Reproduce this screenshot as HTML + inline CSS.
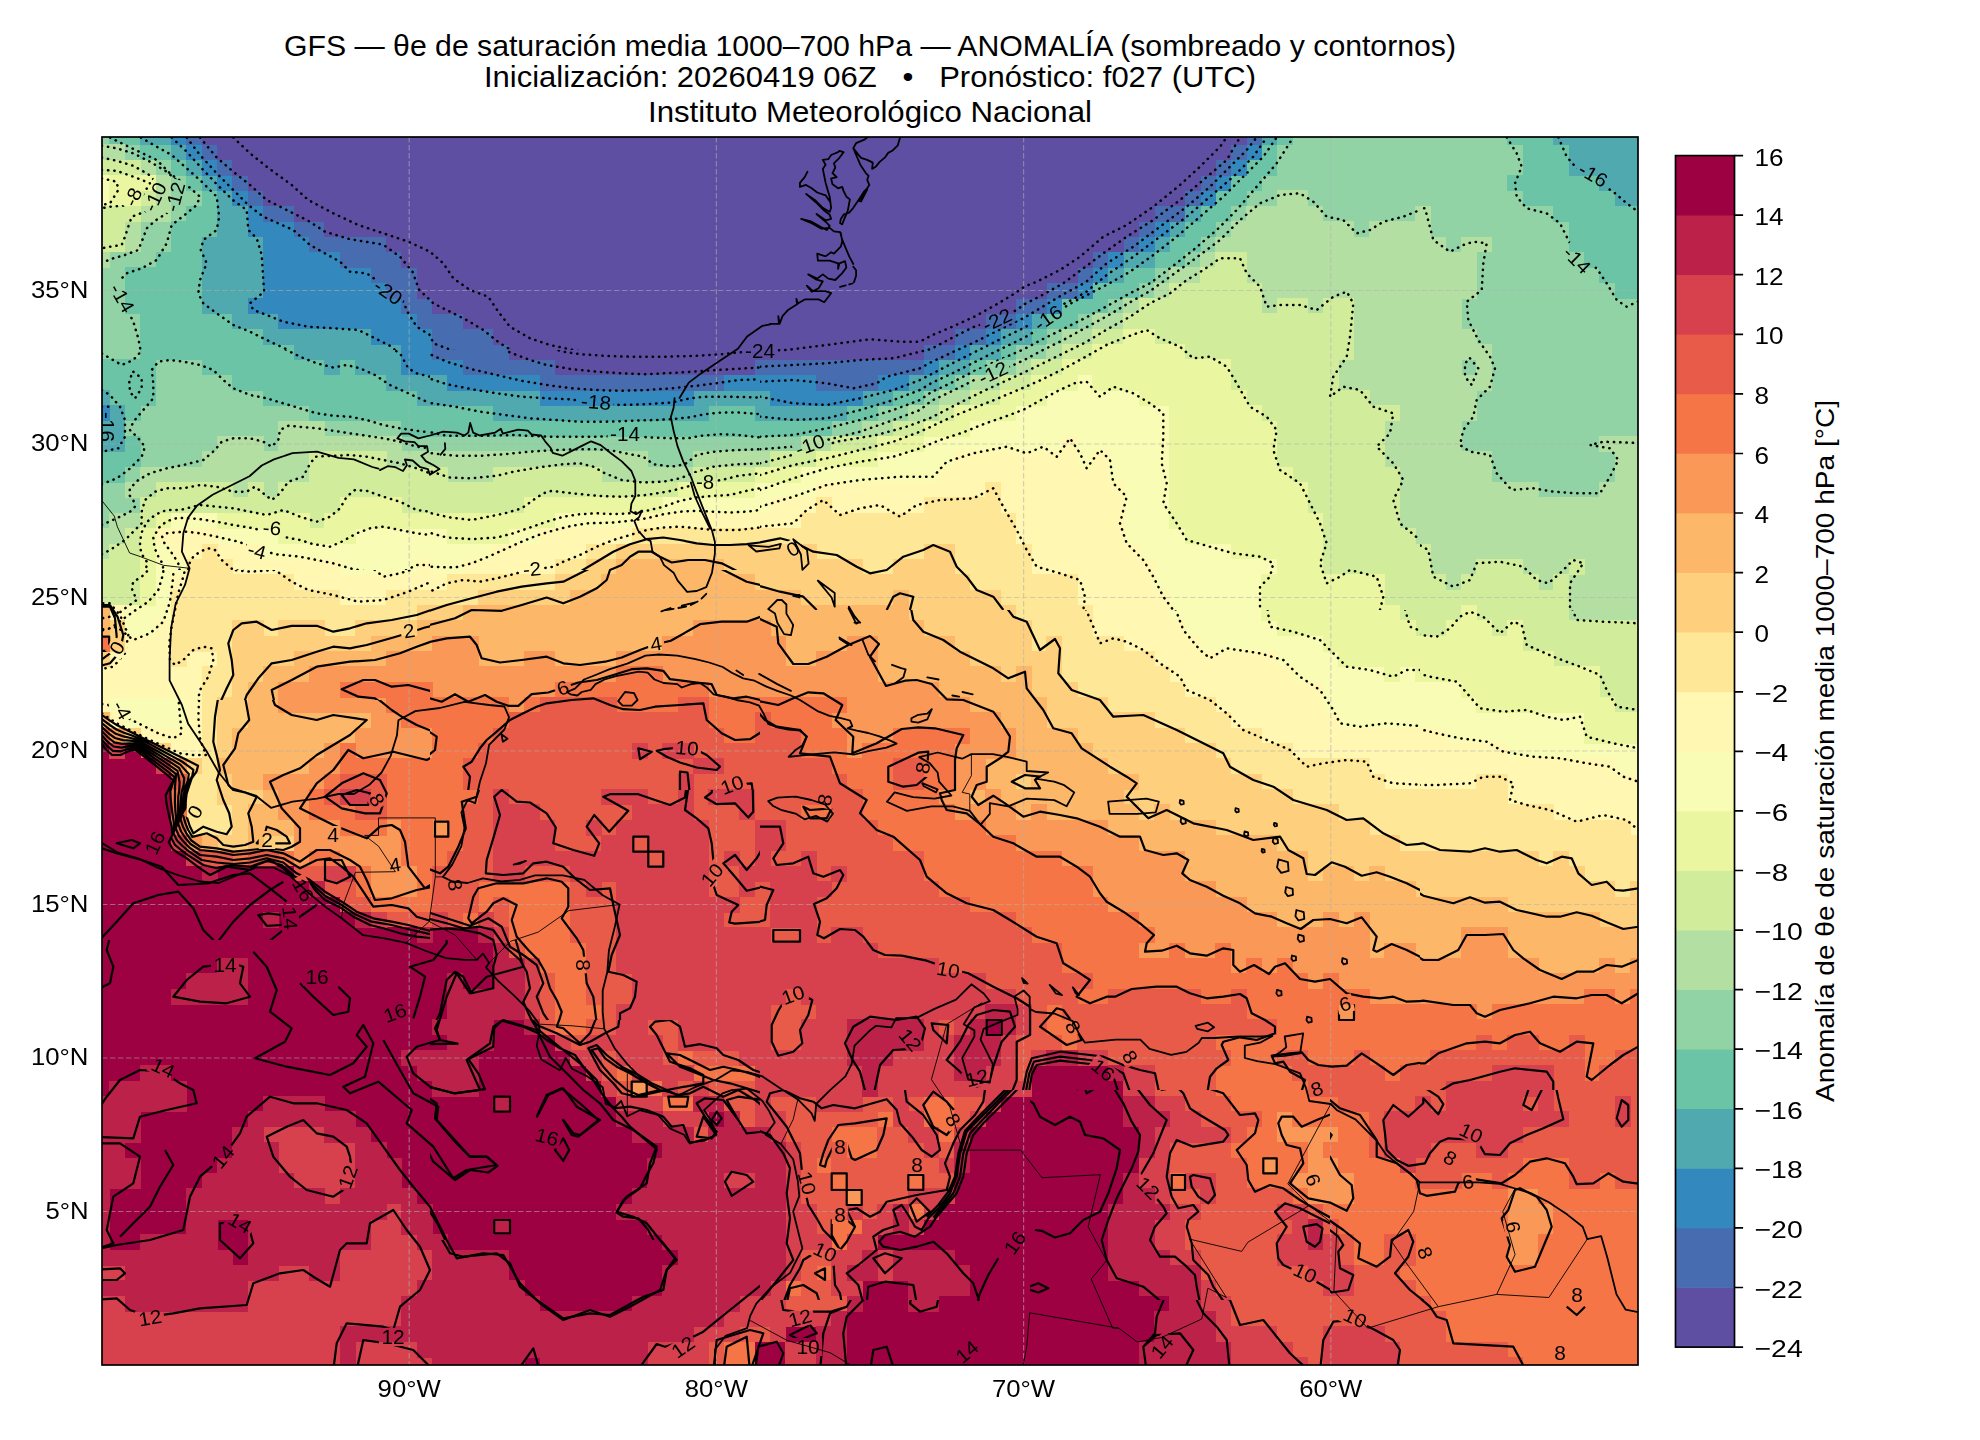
<!DOCTYPE html>
<html><head><meta charset="utf-8"><title>GFS θe de saturación media 1000–700 hPa — ANOMALÍA</title>
<style>
html,body{margin:0;padding:0;background:#fff;}
body{width:1980px;height:1440px;overflow:hidden;position:relative;font-family:"Liberation Sans",sans-serif;}
svg{position:absolute;left:0;top:0;}
.tk{font-family:"Liberation Sans",sans-serif;font-size:24.2px;fill:#000;}
.cbl{font-family:"Liberation Sans",sans-serif;font-size:26.6px;fill:#000;}
.tt{font-family:"Liberation Sans",sans-serif;font-size:29px;fill:#000;}
.cl{font-family:"Liberation Sans",sans-serif;font-size:19.4px;fill:#000;}
.cs{fill:none;stroke:#000;stroke-width:2.2;stroke-linejoin:round;}
.cd{fill:none;stroke:#000;stroke-width:2.5;stroke-dasharray:0.3 6.0;stroke-linecap:round;stroke-linejoin:round;}
.co{fill:none;stroke:#000;stroke-width:1.8;stroke-linejoin:round;stroke-linecap:round;}
.bd{fill:none;stroke:#000;stroke-width:0.9;stroke-linejoin:round;}
</style></head><body>
<svg width="1980" height="1440" viewBox="0 0 1980 1440">
<rect width="1980" height="1440" fill="#fff"/>
<text x="870" y="55.5" class="tt" text-anchor="middle" textLength="1172" lengthAdjust="spacingAndGlyphs">GFS — θe de saturación media 1000–700 hPa — ANOMALÍA (sombreado y contornos)</text>
<text x="870" y="86.5" class="tt" text-anchor="middle" textLength="772" lengthAdjust="spacingAndGlyphs" xml:space="preserve">Inicialización: 20260419 06Z   •   Pronóstico: f027 (UTC)</text>
<text x="870" y="121.5" class="tt" text-anchor="middle" textLength="444" lengthAdjust="spacingAndGlyphs">Instituto Meteorológico Nacional</text>
<clipPath id="mapclip"><rect x="102" y="137" width="1536" height="1228"/></clipPath>
<g clip-path="url(#mapclip)">
<g shape-rendering="crispEdges">
<path fill="#91d3a4" d="M101.7 136.7H110.0V145.0H101.7ZM1292.1 136.7H1507.7V145.0H1292.1ZM124.7 144.4H140.7V160.3H124.7ZM1276.7 144.4H1523.1V160.3H1276.7ZM155.5 159.7H171.4V175.7H155.5ZM1276.7 159.7H1523.1V175.7H1276.7ZM170.8 175.1H186.8V191.0H170.8ZM1261.4 175.1H1507.7V191.0H1261.4ZM170.8 190.4H202.1V206.4H170.8ZM1246.0 190.4H1277.3V206.4H1246.0ZM1307.5 190.4H1523.1V206.4H1307.5ZM170.8 205.8H186.8V221.7H170.8ZM1230.7 205.8H1246.6V221.7H1230.7ZM1322.8 205.8H1415.6V221.7H1322.8ZM1430.3 205.8H1553.8V221.7H1430.3ZM140.1 221.1H171.4V237.1H140.1ZM1215.3 221.1H1231.3V237.1H1215.3ZM1353.5 221.1H1369.5V237.1H1353.5ZM1430.3 221.1H1569.2V237.1H1430.3ZM140.1 236.5H171.4V252.4H140.1ZM1199.9 236.5H1215.9V252.4H1199.9ZM1445.7 236.5H1461.7V252.4H1445.7ZM1491.8 236.5H1569.2V252.4H1491.8ZM109.4 251.8H156.1V267.8H109.4ZM1184.6 251.8H1200.5V267.8H1184.6ZM1476.4 251.8H1584.5V267.8H1476.4ZM101.7 267.2H125.3V283.1H101.7ZM1153.9 267.2H1169.8V283.1H1153.9ZM1476.4 267.2H1599.9V283.1H1476.4ZM101.7 282.5H125.3V298.5H101.7ZM1138.5 282.5H1154.5V298.5H1138.5ZM1476.4 282.5H1615.3V298.5H1476.4ZM101.7 297.9H125.3V313.8H101.7ZM1107.8 297.9H1123.7V313.8H1107.8ZM1461.1 297.9H1638.3V313.8H1461.1ZM101.7 313.2H140.7V329.2H101.7ZM1077.1 313.2H1093.0V329.2H1077.1ZM1461.1 313.2H1638.3V329.2H1461.1ZM101.7 328.6H140.7V344.5H101.7ZM1046.3 328.6H1062.3V344.5H1046.3ZM1476.4 328.6H1638.3V344.5H1476.4ZM101.7 343.9H140.7V359.9H101.7ZM1015.6 343.9H1046.9V359.9H1015.6ZM1491.8 343.9H1638.3V359.9H1491.8ZM155.5 359.3H202.1V375.2H155.5ZM984.9 359.3H1016.2V375.2H984.9ZM1461.1 359.3H1477.0V375.2H1461.1ZM1491.8 359.3H1638.3V375.2H1491.8ZM155.5 374.6H232.9V390.6H155.5ZM954.2 374.6H970.1V390.6H954.2ZM1491.8 374.6H1638.3V390.6H1491.8ZM155.5 390.0H263.6V405.9H155.5ZM923.5 390.0H939.4V405.9H923.5ZM1476.4 390.0H1638.3V405.9H1476.4ZM140.1 405.3H309.7V421.3H140.1ZM877.4 405.3H908.7V421.3H877.4ZM1476.4 405.3H1638.3V421.3H1476.4ZM124.7 420.7H278.9V436.6H124.7ZM324.4 420.7H401.8V436.6H324.4ZM831.3 420.7H862.6V436.6H831.3ZM1461.1 420.7H1638.3V436.6H1461.1ZM140.1 436.0H217.5V452.0H140.1ZM263.0 436.0H278.9V452.0H263.0ZM401.2 436.0H801.2V452.0H401.2ZM1461.1 436.0H1599.9V452.0H1461.1ZM140.1 451.4H202.1V467.3H140.1ZM647.0 451.4H693.7V467.3H647.0ZM1491.8 451.4H1615.3V467.3H1491.8ZM124.7 466.7H140.7V482.7H124.7ZM1491.8 466.7H1615.3V482.7H1491.8ZM101.7 482.1H125.3V498.0H101.7ZM1537.9 482.1H1599.9V498.0H1537.9ZM101.7 497.4H140.7V513.4H101.7ZM101.7 512.8H110.0V528.7H101.7Z"/>
<path fill="#6bc4a5" d="M109.4 136.7H140.7V145.0H109.4ZM1276.7 136.7H1292.7V145.0H1276.7ZM1507.1 136.7H1553.8V145.0H1507.1ZM140.1 144.4H171.4V160.3H140.1ZM1261.4 144.4H1277.3V160.3H1261.4ZM1522.5 144.4H1569.2V160.3H1522.5ZM170.8 159.7H186.8V175.7H170.8ZM1246.0 159.7H1277.3V175.7H1246.0ZM1522.5 159.7H1569.2V175.7H1522.5ZM186.2 175.1H202.1V191.0H186.2ZM1230.7 175.1H1262.0V191.0H1230.7ZM1507.1 175.1H1599.9V191.0H1507.1ZM201.5 190.4H217.5V206.4H201.5ZM1215.3 190.4H1246.6V206.4H1215.3ZM1522.5 190.4H1615.3V206.4H1522.5ZM186.2 205.8H217.5V221.7H186.2ZM1199.9 205.8H1231.3V221.7H1199.9ZM1553.2 205.8H1638.3V221.7H1553.2ZM170.8 221.1H217.5V237.1H170.8ZM1184.6 221.1H1215.9V237.1H1184.6ZM1568.6 221.1H1638.3V237.1H1568.6ZM170.8 236.5H202.1V252.4H170.8ZM1169.2 236.5H1200.5V252.4H1169.2ZM1568.6 236.5H1638.3V252.4H1568.6ZM155.5 251.8H202.1V267.8H155.5ZM1153.9 251.8H1185.2V267.8H1153.9ZM1583.9 251.8H1638.3V267.8H1583.9ZM124.7 267.2H202.1V283.1H124.7ZM1123.1 267.2H1154.5V283.1H1123.1ZM1599.3 267.2H1638.3V283.1H1599.3ZM124.7 282.5H202.1V298.5H124.7ZM1092.4 282.5H1139.1V298.5H1092.4ZM1614.7 282.5H1638.3V298.5H1614.7ZM124.7 297.9H202.1V313.8H124.7ZM1061.7 297.9H1108.4V313.8H1061.7ZM140.1 313.2H232.9V329.2H140.1ZM1046.3 313.2H1077.7V329.2H1046.3ZM140.1 328.6H263.6V344.5H140.1ZM1031.0 328.6H1046.9V344.5H1031.0ZM140.1 343.9H294.3V359.9H140.1ZM1000.3 343.9H1016.2V359.9H1000.3ZM101.7 359.3H156.1V375.2H101.7ZM201.5 359.3H325.0V375.2H201.5ZM339.8 359.3H355.7V375.2H339.8ZM969.5 359.3H985.5V375.2H969.5ZM101.7 374.6H156.1V390.6H101.7ZM232.3 374.6H386.5V390.6H232.3ZM938.8 374.6H954.8V390.6H938.8ZM109.4 390.0H156.1V405.9H109.4ZM263.0 390.0H417.2V405.9H263.0ZM892.7 390.0H924.1V405.9H892.7ZM124.7 405.3H140.7V421.3H124.7ZM309.1 405.3H494.0V421.3H309.1ZM708.4 405.3H755.1V421.3H708.4ZM846.7 405.3H878.0V421.3H846.7ZM401.2 420.7H831.9V436.6H401.2ZM124.7 436.0H140.7V452.0H124.7ZM101.7 451.4H140.7V467.3H101.7ZM101.7 466.7H125.3V482.7H101.7Z"/>
<path fill="#50a9af" d="M140.1 136.7H171.4V145.0H140.1ZM1261.4 136.7H1277.3V145.0H1261.4ZM1553.2 136.7H1638.3V145.0H1553.2ZM170.8 144.4H186.8V160.3H170.8ZM1568.6 144.4H1638.3V160.3H1568.6ZM186.2 159.7H202.1V175.7H186.2ZM1568.6 159.7H1638.3V175.7H1568.6ZM201.5 175.1H217.5V191.0H201.5ZM1599.3 175.1H1638.3V191.0H1599.3ZM216.9 190.4H232.9V206.4H216.9ZM1614.7 190.4H1638.3V206.4H1614.7ZM216.9 205.8H248.2V221.7H216.9ZM1184.6 205.8H1200.5V221.7H1184.6ZM216.9 221.1H248.2V237.1H216.9ZM1169.2 221.1H1185.2V237.1H1169.2ZM201.5 236.5H263.6V252.4H201.5ZM1153.9 236.5H1169.8V252.4H1153.9ZM201.5 251.8H263.6V267.8H201.5ZM1123.1 251.8H1154.5V267.8H1123.1ZM201.5 267.2H263.6V283.1H201.5ZM1107.8 267.2H1123.7V283.1H1107.8ZM201.5 282.5H263.6V298.5H201.5ZM201.5 297.9H248.2V313.8H201.5ZM232.3 313.2H278.9V329.2H232.3ZM1031.0 313.2H1046.9V329.2H1031.0ZM263.0 328.6H371.1V344.5H263.0ZM1000.3 328.6H1031.6V344.5H1000.3ZM293.7 343.9H401.8V359.9H293.7ZM969.5 343.9H1000.9V359.9H969.5ZM324.4 359.3H340.4V375.2H324.4ZM355.1 359.3H401.8V375.2H355.1ZM938.8 359.3H970.1V375.2H938.8ZM385.9 374.6H447.9V390.6H385.9ZM908.1 374.6H939.4V390.6H908.1ZM101.7 390.0H110.0V405.9H101.7ZM416.6 390.0H540.1V405.9H416.6ZM693.1 390.0H770.5V405.9H693.1ZM862.0 390.0H893.3V405.9H862.0ZM109.4 405.3H125.3V421.3H109.4ZM493.4 405.3H709.0V421.3H493.4ZM754.5 405.3H847.3V421.3H754.5ZM101.7 420.7H125.3V436.6H101.7ZM101.7 436.0H125.3V452.0H101.7Z"/>
<path fill="#3389bd" d="M170.8 136.7H186.8V145.0H170.8ZM186.2 144.4H202.1V160.3H186.2ZM1246.0 144.4H1262.0V160.3H1246.0ZM201.5 159.7H217.5V175.7H201.5ZM1230.7 159.7H1246.6V175.7H1230.7ZM216.9 175.1H232.9V191.0H216.9ZM1215.3 175.1H1231.3V191.0H1215.3ZM232.3 190.4H248.2V206.4H232.3ZM1199.9 190.4H1215.9V206.4H1199.9ZM247.6 205.8H263.6V221.7H247.6ZM247.6 221.1H294.3V237.1H247.6ZM1153.9 221.1H1169.8V237.1H1153.9ZM263.0 236.5H309.7V252.4H263.0ZM1138.5 236.5H1154.5V252.4H1138.5ZM263.0 251.8H340.4V267.8H263.0ZM1107.8 251.8H1123.7V267.8H1107.8ZM263.0 267.2H371.1V283.1H263.0ZM1092.4 267.2H1108.4V283.1H1092.4ZM263.0 282.5H386.5V298.5H263.0ZM1077.1 282.5H1093.0V298.5H1077.1ZM247.6 297.9H401.8V313.8H247.6ZM1046.3 297.9H1062.3V313.8H1046.3ZM278.3 313.2H417.2V329.2H278.3ZM1015.6 313.2H1031.6V329.2H1015.6ZM370.5 328.6H432.5V344.5H370.5ZM984.9 328.6H1000.9V344.5H984.9ZM401.2 343.9H432.5V359.9H401.2ZM954.2 343.9H970.1V359.9H954.2ZM401.2 359.3H463.3V375.2H401.2ZM923.5 359.3H939.4V375.2H923.5ZM447.3 374.6H540.1V390.6H447.3ZM723.8 374.6H816.5V390.6H723.8ZM877.4 374.6H908.7V390.6H877.4ZM539.5 390.0H693.7V405.9H539.5ZM769.9 390.0H862.6V405.9H769.9ZM101.7 405.3H110.0V421.3H101.7Z"/>
<path fill="#486cb0" d="M186.2 136.7H202.1V145.0H186.2ZM1246.0 136.7H1262.0V145.0H1246.0ZM201.5 144.4H217.5V160.3H201.5ZM1230.7 144.4H1246.6V160.3H1230.7ZM216.9 159.7H232.9V175.7H216.9ZM1215.3 159.7H1231.3V175.7H1215.3ZM232.3 175.1H248.2V191.0H232.3ZM1199.9 175.1H1215.9V191.0H1199.9ZM247.6 190.4H263.6V206.4H247.6ZM1184.6 190.4H1200.5V206.4H1184.6ZM263.0 205.8H294.3V221.7H263.0ZM1153.9 205.8H1185.2V221.7H1153.9ZM293.7 221.1H325.0V237.1H293.7ZM1138.5 221.1H1154.5V237.1H1138.5ZM309.1 236.5H386.5V252.4H309.1ZM1123.1 236.5H1139.1V252.4H1123.1ZM339.8 251.8H401.8V267.8H339.8ZM1092.4 251.8H1108.4V267.8H1092.4ZM370.5 267.2H417.2V283.1H370.5ZM1077.1 267.2H1093.0V283.1H1077.1ZM385.9 282.5H417.2V298.5H385.9ZM1046.3 282.5H1077.7V298.5H1046.3ZM401.2 297.9H432.5V313.8H401.2ZM1015.6 297.9H1046.9V313.8H1015.6ZM416.6 313.2H463.3V329.2H416.6ZM984.9 313.2H1016.2V329.2H984.9ZM431.9 328.6H494.0V344.5H431.9ZM954.2 328.6H985.5V344.5H954.2ZM431.9 343.9H509.3V359.9H431.9ZM923.5 343.9H954.8V359.9H923.5ZM462.7 359.3H555.4V375.2H462.7ZM754.5 359.3H924.1V375.2H754.5ZM539.5 374.6H724.4V390.6H539.5ZM815.9 374.6H878.0V390.6H815.9Z"/>
<path fill="#5e4fa2" d="M201.5 136.7H1246.6V145.0H201.5ZM216.9 144.4H1231.3V160.3H216.9ZM232.3 159.7H1215.9V175.7H232.3ZM247.6 175.1H1200.5V191.0H247.6ZM263.0 190.4H1185.2V206.4H263.0ZM293.7 205.8H1154.5V221.7H293.7ZM324.4 221.1H1139.1V237.1H324.4ZM385.9 236.5H1123.7V252.4H385.9ZM401.2 251.8H1093.0V267.8H401.2ZM416.6 267.2H1077.7V283.1H416.6ZM416.6 282.5H1046.9V298.5H416.6ZM431.9 297.9H1016.2V313.8H431.9ZM462.7 313.2H985.5V329.2H462.7ZM493.4 328.6H954.8V344.5H493.4ZM508.7 343.9H924.1V359.9H508.7ZM554.8 359.3H755.1V375.2H554.8Z"/>
<path fill="#b3e0a2" d="M101.7 144.4H125.3V160.3H101.7ZM140.1 159.7H156.1V175.7H140.1ZM155.5 175.1H171.4V191.0H155.5ZM155.5 190.4H171.4V206.4H155.5ZM1276.7 190.4H1308.1V206.4H1276.7ZM140.1 205.8H171.4V221.7H140.1ZM1246.0 205.8H1323.4V221.7H1246.0ZM1415.0 205.8H1430.9V221.7H1415.0ZM124.7 221.1H140.7V237.1H124.7ZM1230.7 221.1H1354.1V237.1H1230.7ZM1368.9 221.1H1430.9V237.1H1368.9ZM124.7 236.5H140.7V252.4H124.7ZM1215.3 236.5H1446.3V252.4H1215.3ZM1461.1 236.5H1492.4V252.4H1461.1ZM101.7 251.8H110.0V267.8H101.7ZM1199.9 251.8H1215.9V267.8H1199.9ZM1246.0 251.8H1477.0V267.8H1246.0ZM1169.2 267.2H1200.5V283.1H1169.2ZM1246.0 267.2H1477.0V283.1H1246.0ZM1153.9 282.5H1169.8V298.5H1153.9ZM1261.4 282.5H1477.0V298.5H1261.4ZM1123.1 297.9H1139.1V313.8H1123.1ZM1261.4 297.9H1277.3V313.8H1261.4ZM1307.5 297.9H1323.4V313.8H1307.5ZM1353.5 297.9H1461.7V313.8H1353.5ZM1092.4 313.2H1123.7V329.2H1092.4ZM1353.5 313.2H1461.7V329.2H1353.5ZM1061.7 328.6H1093.0V344.5H1061.7ZM1353.5 328.6H1477.0V344.5H1353.5ZM1046.3 343.9H1062.3V359.9H1046.3ZM1353.5 343.9H1492.4V359.9H1353.5ZM1015.6 359.3H1031.6V375.2H1015.6ZM1338.2 359.3H1461.7V375.2H1338.2ZM1476.4 359.3H1492.4V375.2H1476.4ZM969.5 374.6H1000.9V390.6H969.5ZM1338.2 374.6H1492.4V390.6H1338.2ZM938.8 390.0H970.1V405.9H938.8ZM1368.9 390.0H1477.0V405.9H1368.9ZM908.1 405.3H939.4V421.3H908.1ZM1399.6 405.3H1477.0V421.3H1399.6ZM278.3 420.7H325.0V436.6H278.3ZM862.0 420.7H893.3V436.6H862.0ZM1384.3 420.7H1461.7V436.6H1384.3ZM216.9 436.0H263.6V452.0H216.9ZM278.3 436.0H401.8V452.0H278.3ZM800.6 436.0H831.9V452.0H800.6ZM1384.3 436.0H1461.7V452.0H1384.3ZM1599.3 436.0H1638.3V452.0H1599.3ZM201.5 451.4H309.7V467.3H201.5ZM385.9 451.4H647.6V467.3H385.9ZM693.1 451.4H770.5V467.3H693.1ZM1384.3 451.4H1492.4V467.3H1384.3ZM1614.7 451.4H1638.3V467.3H1614.7ZM140.1 466.7H309.7V482.7H140.1ZM447.3 466.7H494.0V482.7H447.3ZM600.9 466.7H693.7V482.7H600.9ZM1399.6 466.7H1492.4V482.7H1399.6ZM1614.7 466.7H1638.3V482.7H1614.7ZM124.7 482.1H156.1V498.0H124.7ZM232.3 482.1H248.2V498.0H232.3ZM263.0 482.1H278.9V498.0H263.0ZM1399.6 482.1H1538.5V498.0H1399.6ZM1599.3 482.1H1638.3V498.0H1599.3ZM1399.6 497.4H1638.3V513.4H1399.6ZM109.4 512.8H140.7V528.7H109.4ZM1399.6 512.8H1638.3V528.7H1399.6ZM101.7 528.1H125.3V544.1H101.7ZM1415.0 528.1H1638.3V544.1H1415.0ZM101.7 543.5H110.0V559.4H101.7ZM1430.3 543.5H1638.3V559.4H1430.3ZM1430.3 558.8H1477.0V574.8H1430.3ZM1522.5 558.8H1569.2V574.8H1522.5ZM1583.9 558.8H1638.3V574.8H1583.9ZM1445.7 574.2H1461.7V590.1H1445.7ZM1537.9 574.2H1553.8V590.1H1537.9ZM1568.6 574.2H1638.3V590.1H1568.6ZM1568.6 589.5H1638.3V605.5H1568.6ZM1568.6 604.9H1638.3V620.8H1568.6Z"/>
<path fill="#d1ed9c" d="M101.7 159.7H140.7V175.7H101.7ZM140.1 190.4H156.1V206.4H140.1ZM101.7 205.8H140.7V221.7H101.7ZM101.7 221.1H125.3V237.1H101.7ZM101.7 236.5H125.3V252.4H101.7ZM1215.3 251.8H1246.6V267.8H1215.3ZM1199.9 267.2H1246.6V283.1H1199.9ZM1169.2 282.5H1262.0V298.5H1169.2ZM1138.5 297.9H1262.0V313.8H1138.5ZM1276.7 297.9H1308.1V313.8H1276.7ZM1322.8 297.9H1354.1V313.8H1322.8ZM1123.1 313.2H1354.1V329.2H1123.1ZM1092.4 328.6H1123.7V344.5H1092.4ZM1153.9 328.6H1354.1V344.5H1153.9ZM1061.7 343.9H1093.0V359.9H1061.7ZM1184.6 343.9H1354.1V359.9H1184.6ZM1031.0 359.3H1062.3V375.2H1031.0ZM1230.7 359.3H1338.8V375.2H1230.7ZM1000.3 374.6H1031.6V390.6H1000.3ZM1230.7 374.6H1338.8V390.6H1230.7ZM969.5 390.0H1000.9V405.9H969.5ZM1246.0 390.0H1369.5V405.9H1246.0ZM938.8 405.3H954.8V421.3H938.8ZM1261.4 405.3H1400.2V421.3H1261.4ZM892.7 420.7H924.1V436.6H892.7ZM1276.7 420.7H1384.9V436.6H1276.7ZM831.3 436.0H878.0V452.0H831.3ZM1276.7 436.0H1384.9V452.0H1276.7ZM309.1 451.4H386.5V467.3H309.1ZM769.9 451.4H816.5V467.3H769.9ZM1276.7 451.4H1384.9V467.3H1276.7ZM309.1 466.7H447.9V482.7H309.1ZM493.4 466.7H601.5V482.7H493.4ZM693.1 466.7H755.1V482.7H693.1ZM1292.1 466.7H1400.2V482.7H1292.1ZM155.5 482.1H232.9V498.0H155.5ZM247.6 482.1H263.6V498.0H247.6ZM278.3 482.1H678.3V498.0H278.3ZM1307.5 482.1H1400.2V498.0H1307.5ZM140.1 497.4H340.4V513.4H140.1ZM401.2 497.4H524.7V513.4H401.2ZM1307.5 497.4H1400.2V513.4H1307.5ZM140.1 512.8H156.1V528.7H140.1ZM309.1 512.8H325.0V528.7H309.1ZM1322.8 512.8H1400.2V528.7H1322.8ZM124.7 528.1H140.7V544.1H124.7ZM1322.8 528.1H1415.6V544.1H1322.8ZM109.4 543.5H140.7V559.4H109.4ZM1322.8 543.5H1430.9V559.4H1322.8ZM101.7 558.8H140.7V574.8H101.7ZM1322.8 558.8H1430.9V574.8H1322.8ZM1476.4 558.8H1523.1V574.8H1476.4ZM1568.6 558.8H1584.5V574.8H1568.6ZM101.7 574.2H140.7V590.1H101.7ZM1384.3 574.2H1446.3V590.1H1384.3ZM1461.1 574.2H1538.5V590.1H1461.1ZM1553.2 574.2H1569.2V590.1H1553.2ZM101.7 589.5H140.7V605.5H101.7ZM1384.3 589.5H1569.2V605.5H1384.3ZM1399.6 604.9H1461.7V620.8H1399.6ZM1476.4 604.9H1569.2V620.8H1476.4ZM1415.0 620.2H1446.3V636.2H1415.0ZM1491.8 620.2H1507.7V636.2H1491.8ZM1522.5 620.2H1638.3V636.2H1522.5ZM1522.5 635.6H1638.3V651.5H1522.5ZM1553.2 650.9H1638.3V666.9H1553.2ZM1599.3 666.3H1638.3V682.2H1599.3ZM1599.3 681.6H1638.3V697.6H1599.3ZM1614.7 697.0H1638.3V712.9H1614.7Z"/>
<path fill="#f8fcb4" d="M101.7 175.1H110.0V191.0H101.7ZM101.7 190.4H110.0V206.4H101.7ZM1077.1 374.6H1093.0V390.6H1077.1ZM1046.3 390.0H1139.1V405.9H1046.3ZM1015.6 405.3H1169.8V421.3H1015.6ZM969.5 420.7H1169.8V436.6H969.5ZM923.5 436.0H1062.3V452.0H923.5ZM1077.1 436.0H1169.8V452.0H1077.1ZM877.4 451.4H954.8V467.3H877.4ZM1077.1 451.4H1093.0V467.3H1077.1ZM1107.8 451.4H1169.8V467.3H1107.8ZM800.6 466.7H939.4V482.7H800.6ZM1107.8 466.7H1169.8V482.7H1107.8ZM754.5 482.1H816.5V498.0H754.5ZM1123.1 482.1H1169.8V498.0H1123.1ZM662.3 497.4H770.5V513.4H662.3ZM1123.1 497.4H1169.8V513.4H1123.1ZM170.8 512.8H217.5V528.7H170.8ZM554.8 512.8H632.2V528.7H554.8ZM1123.1 512.8H1169.8V528.7H1123.1ZM216.9 528.1H278.9V544.1H216.9ZM355.1 528.1H447.9V544.1H355.1ZM508.7 528.1H540.1V544.1H508.7ZM1123.1 528.1H1185.2V544.1H1123.1ZM155.5 543.5H171.4V559.4H155.5ZM263.0 543.5H494.0V559.4H263.0ZM1138.5 543.5H1231.3V559.4H1138.5ZM155.5 558.8H186.8V574.8H155.5ZM339.8 558.8H417.2V574.8H339.8ZM431.9 558.8H463.3V574.8H431.9ZM1153.9 558.8H1277.3V574.8H1153.9ZM155.5 574.2H171.4V590.1H155.5ZM1153.9 574.2H1262.0V590.1H1153.9ZM155.5 589.5H171.4V605.5H155.5ZM1169.2 589.5H1262.0V605.5H1169.2ZM124.7 604.9H171.4V620.8H124.7ZM1169.2 604.9H1262.0V620.8H1169.2ZM124.7 620.2H156.1V636.2H124.7ZM1184.6 620.2H1277.3V636.2H1184.6ZM1199.9 635.6H1323.4V651.5H1199.9ZM1276.7 650.9H1338.8V666.9H1276.7ZM1292.1 666.3H1384.9V682.2H1292.1ZM1399.6 666.3H1415.6V682.2H1399.6ZM1322.8 681.6H1461.7V697.6H1322.8ZM109.4 697.0H186.8V712.9H109.4ZM1322.8 697.0H1477.0V712.9H1322.8ZM124.7 712.3H186.8V728.3H124.7ZM1338.2 712.3H1584.5V728.3H1338.2ZM1445.7 727.7H1584.5V743.6H1445.7ZM1507.1 743.0H1638.3V759.0H1507.1ZM1614.7 758.4H1638.3V774.3H1614.7Z"/>
<path fill="#ebf7a0" d="M109.4 175.1H156.1V191.0H109.4ZM109.4 190.4H140.7V206.4H109.4ZM1123.1 328.6H1154.5V344.5H1123.1ZM1092.4 343.9H1185.2V359.9H1092.4ZM1061.7 359.3H1231.3V375.2H1061.7ZM1031.0 374.6H1077.7V390.6H1031.0ZM1092.4 374.6H1231.3V390.6H1092.4ZM1000.3 390.0H1046.9V405.9H1000.3ZM1138.5 390.0H1246.6V405.9H1138.5ZM954.2 405.3H1016.2V421.3H954.2ZM1169.2 405.3H1262.0V421.3H1169.2ZM923.5 420.7H970.1V436.6H923.5ZM1169.2 420.7H1277.3V436.6H1169.2ZM877.4 436.0H924.1V452.0H877.4ZM1169.2 436.0H1277.3V452.0H1169.2ZM815.9 451.4H878.0V467.3H815.9ZM1169.2 451.4H1277.3V467.3H1169.2ZM754.5 466.7H801.2V482.7H754.5ZM1169.2 466.7H1292.7V482.7H1169.2ZM677.7 482.1H755.1V498.0H677.7ZM1169.2 482.1H1308.1V498.0H1169.2ZM339.8 497.4H401.8V513.4H339.8ZM524.1 497.4H662.9V513.4H524.1ZM1169.2 497.4H1308.1V513.4H1169.2ZM155.5 512.8H171.4V528.7H155.5ZM216.9 512.8H309.7V528.7H216.9ZM324.4 512.8H555.4V528.7H324.4ZM1169.2 512.8H1323.4V528.7H1169.2ZM140.1 528.1H156.1V544.1H140.1ZM278.3 528.1H355.7V544.1H278.3ZM447.3 528.1H509.3V544.1H447.3ZM1184.6 528.1H1323.4V544.1H1184.6ZM140.1 543.5H156.1V559.4H140.1ZM1230.7 543.5H1323.4V559.4H1230.7ZM140.1 558.8H156.1V574.8H140.1ZM1276.7 558.8H1323.4V574.8H1276.7ZM140.1 574.2H156.1V590.1H140.1ZM1261.4 574.2H1384.9V590.1H1261.4ZM140.1 589.5H156.1V605.5H140.1ZM1261.4 589.5H1384.9V605.5H1261.4ZM1261.4 604.9H1400.2V620.8H1261.4ZM1461.1 604.9H1477.0V620.8H1461.1ZM1276.7 620.2H1415.6V636.2H1276.7ZM1445.7 620.2H1492.4V636.2H1445.7ZM1507.1 620.2H1523.1V636.2H1507.1ZM1322.8 635.6H1523.1V651.5H1322.8ZM1338.2 650.9H1553.8V666.9H1338.2ZM1384.3 666.3H1400.2V682.2H1384.3ZM1415.0 666.3H1599.9V682.2H1415.0ZM1461.1 681.6H1599.9V697.6H1461.1ZM1476.4 697.0H1615.3V712.9H1476.4ZM1583.9 712.3H1638.3V728.3H1583.9ZM1583.9 727.7H1638.3V743.6H1583.9Z"/>
<path fill="#fff7b2" d="M1061.7 436.0H1077.7V452.0H1061.7ZM954.2 451.4H1077.7V467.3H954.2ZM1092.4 451.4H1108.4V467.3H1092.4ZM938.8 466.7H1108.4V482.7H938.8ZM815.9 482.1H985.5V498.0H815.9ZM1000.3 482.1H1123.7V498.0H1000.3ZM769.9 497.4H816.5V513.4H769.9ZM831.3 497.4H924.1V513.4H831.3ZM1000.3 497.4H1123.7V513.4H1000.3ZM631.6 512.8H801.2V528.7H631.6ZM1015.6 512.8H1123.7V528.7H1015.6ZM155.5 528.1H217.5V544.1H155.5ZM539.5 528.1H632.2V544.1H539.5ZM1015.6 528.1H1123.7V544.1H1015.6ZM170.8 543.5H202.1V559.4H170.8ZM216.9 543.5H263.6V559.4H216.9ZM493.4 543.5H586.1V559.4H493.4ZM1031.0 543.5H1139.1V559.4H1031.0ZM232.3 558.8H340.4V574.8H232.3ZM416.6 558.8H432.5V574.8H416.6ZM462.7 558.8H555.4V574.8H462.7ZM1031.0 558.8H1154.5V574.8H1031.0ZM170.8 574.2H186.8V590.1H170.8ZM293.7 574.2H447.9V590.1H293.7ZM1077.1 574.2H1154.5V590.1H1077.1ZM339.8 589.5H386.5V605.5H339.8ZM1077.1 589.5H1169.8V605.5H1077.1ZM109.4 604.9H125.3V620.8H109.4ZM1092.4 604.9H1169.8V620.8H1092.4ZM155.5 620.2H171.4V636.2H155.5ZM1092.4 620.2H1185.2V636.2H1092.4ZM124.7 635.6H171.4V651.5H124.7ZM1123.1 635.6H1200.5V651.5H1123.1ZM109.4 650.9H171.4V666.9H109.4ZM186.2 650.9H217.5V666.9H186.2ZM1153.9 650.9H1277.3V666.9H1153.9ZM101.7 666.3H202.1V682.2H101.7ZM1169.2 666.3H1292.7V682.2H1169.2ZM101.7 681.6H202.1V697.6H101.7ZM1184.6 681.6H1323.4V697.6H1184.6ZM101.7 697.0H110.0V712.9H101.7ZM186.2 697.0H202.1V712.9H186.2ZM1215.3 697.0H1323.4V712.9H1215.3ZM109.4 712.3H125.3V728.3H109.4ZM186.2 712.3H202.1V728.3H186.2ZM1230.7 712.3H1338.8V728.3H1230.7ZM140.1 727.7H202.1V743.6H140.1ZM1261.4 727.7H1446.3V743.6H1261.4ZM170.8 743.0H202.1V759.0H170.8ZM1292.1 743.0H1507.7V759.0H1292.1ZM1368.9 758.4H1615.3V774.3H1368.9ZM1384.3 773.7H1477.0V789.7H1384.3ZM1507.1 773.7H1638.3V789.7H1507.1ZM1507.1 789.1H1638.3V805.0H1507.1ZM1553.2 804.4H1638.3V820.4H1553.2ZM1630.0 819.8H1638.3V835.7H1630.0Z"/>
<path fill="#fee797" d="M984.9 482.1H1000.9V498.0H984.9ZM815.9 497.4H831.9V513.4H815.9ZM923.5 497.4H1000.9V513.4H923.5ZM800.6 512.8H1016.2V528.7H800.6ZM631.6 528.1H1016.2V544.1H631.6ZM201.5 543.5H217.5V559.4H201.5ZM585.5 543.5H616.9V559.4H585.5ZM815.9 543.5H924.1V559.4H815.9ZM954.2 543.5H1031.6V559.4H954.2ZM186.2 558.8H232.9V574.8H186.2ZM554.8 558.8H586.1V574.8H554.8ZM862.0 558.8H893.3V574.8H862.0ZM954.2 558.8H1031.6V574.8H954.2ZM186.2 574.2H294.3V590.1H186.2ZM447.3 574.2H555.4V590.1H447.3ZM969.5 574.2H1077.7V590.1H969.5ZM170.8 589.5H340.4V605.5H170.8ZM385.9 589.5H478.6V605.5H385.9ZM1000.3 589.5H1077.7V605.5H1000.3ZM170.8 604.9H417.2V620.8H170.8ZM1015.6 604.9H1093.0V620.8H1015.6ZM170.8 620.2H232.9V636.2H170.8ZM263.0 620.2H278.9V636.2H263.0ZM324.4 620.2H355.7V636.2H324.4ZM1031.0 620.2H1093.0V636.2H1031.0ZM170.8 635.6H232.9V651.5H170.8ZM1031.0 635.6H1046.9V651.5H1031.0ZM1061.7 635.6H1123.7V651.5H1061.7ZM170.8 650.9H186.8V666.9H170.8ZM216.9 650.9H232.9V666.9H216.9ZM1061.7 650.9H1154.5V666.9H1061.7ZM201.5 666.3H232.9V682.2H201.5ZM1061.7 666.3H1169.8V682.2H1061.7ZM201.5 681.6H232.9V697.6H201.5ZM1077.1 681.6H1185.2V697.6H1077.1ZM201.5 697.0H217.5V712.9H201.5ZM1107.8 697.0H1215.9V712.9H1107.8ZM201.5 712.3H217.5V728.3H201.5ZM1153.9 712.3H1231.3V728.3H1153.9ZM201.5 727.7H217.5V743.6H201.5ZM1184.6 727.7H1262.0V743.6H1184.6ZM201.5 743.0H217.5V759.0H201.5ZM1215.3 743.0H1292.7V759.0H1215.3ZM201.5 758.4H217.5V774.3H201.5ZM1230.7 758.4H1369.5V774.3H1230.7ZM186.2 773.7H217.5V789.7H186.2ZM1261.4 773.7H1384.9V789.7H1261.4ZM1476.4 773.7H1507.7V789.7H1476.4ZM186.2 789.1H217.5V805.0H186.2ZM1292.1 789.1H1507.7V805.0H1292.1ZM186.2 804.4H232.9V820.4H186.2ZM1338.2 804.4H1553.8V820.4H1338.2ZM186.2 819.8H232.9V835.7H186.2ZM1368.9 819.8H1630.6V835.7H1368.9ZM1399.6 835.1H1638.3V851.1H1399.6ZM1537.9 850.5H1553.8V866.4H1537.9ZM1568.6 850.5H1638.3V866.4H1568.6ZM1583.9 865.8H1638.3V881.8H1583.9ZM1614.7 881.2H1630.6V897.1H1614.7Z"/>
<path fill="#fed07e" d="M616.3 543.5H816.5V559.4H616.3ZM923.5 543.5H954.8V559.4H923.5ZM585.5 558.8H616.9V574.8H585.5ZM723.8 558.8H862.6V574.8H723.8ZM892.7 558.8H954.8V574.8H892.7ZM554.8 574.2H601.5V590.1H554.8ZM754.5 574.2H970.1V590.1H754.5ZM478.0 589.5H570.8V605.5H478.0ZM800.6 589.5H893.3V605.5H800.6ZM908.1 589.5H1000.9V605.5H908.1ZM416.6 604.9H463.3V620.8H416.6ZM908.1 604.9H1016.2V620.8H908.1ZM109.4 620.2H125.3V636.2H109.4ZM232.3 620.2H263.6V636.2H232.3ZM278.3 620.2H325.0V636.2H278.3ZM355.1 620.2H417.2V636.2H355.1ZM923.5 620.2H1031.6V636.2H923.5ZM109.4 635.6H125.3V651.5H109.4ZM232.3 635.6H371.1V651.5H232.3ZM954.2 635.6H1031.6V651.5H954.2ZM1046.3 635.6H1062.3V651.5H1046.3ZM101.7 650.9H110.0V666.9H101.7ZM232.3 650.9H294.3V666.9H232.3ZM969.5 650.9H1062.3V666.9H969.5ZM232.3 666.3H263.6V682.2H232.3ZM1000.3 666.3H1016.2V682.2H1000.3ZM1031.0 666.3H1062.3V682.2H1031.0ZM232.3 681.6H248.2V697.6H232.3ZM1031.0 681.6H1077.7V697.6H1031.0ZM216.9 697.0H248.2V712.9H216.9ZM1046.3 697.0H1108.4V712.9H1046.3ZM216.9 712.3H248.2V728.3H216.9ZM1046.3 712.3H1154.5V728.3H1046.3ZM124.7 727.7H140.7V743.6H124.7ZM216.9 727.7H232.9V743.6H216.9ZM1077.1 727.7H1185.2V743.6H1077.1ZM155.5 743.0H171.4V759.0H155.5ZM216.9 743.0H232.9V759.0H216.9ZM1092.4 743.0H1215.9V759.0H1092.4ZM186.2 758.4H202.1V774.3H186.2ZM1107.8 758.4H1231.3V774.3H1107.8ZM216.9 773.7H232.9V789.7H216.9ZM1015.6 773.7H1031.6V789.7H1015.6ZM1138.5 773.7H1262.0V789.7H1138.5ZM216.9 789.1H263.6V805.0H216.9ZM1123.1 789.1H1292.7V805.0H1123.1ZM232.3 804.4H248.2V820.4H232.3ZM1138.5 804.4H1154.5V820.4H1138.5ZM1169.2 804.4H1338.8V820.4H1169.2ZM232.3 819.8H248.2V835.7H232.3ZM1215.3 819.8H1369.5V835.7H1215.3ZM216.9 835.1H248.2V851.1H216.9ZM263.0 835.1H294.3V851.1H263.0ZM1276.7 835.1H1400.2V851.1H1276.7ZM1307.5 850.5H1538.5V866.4H1307.5ZM1553.2 850.5H1569.2V866.4H1553.2ZM1307.5 865.8H1323.4V881.8H1307.5ZM1353.5 865.8H1369.5V881.8H1353.5ZM1384.3 865.8H1584.5V881.8H1384.3ZM1415.0 881.2H1615.3V897.1H1415.0ZM1630.0 881.2H1638.3V897.1H1630.0ZM1507.1 896.5H1638.3V912.5H1507.1ZM1599.3 911.9H1638.3V927.8H1599.3Z"/>
<path fill="#fdb768" d="M616.3 558.8H724.4V574.8H616.3ZM600.9 574.2H755.1V590.1H600.9ZM570.2 589.5H801.2V605.5H570.2ZM892.7 589.5H908.7V605.5H892.7ZM101.7 604.9H110.0V620.8H101.7ZM462.7 604.9H908.7V620.8H462.7ZM101.7 620.2H110.0V636.2H101.7ZM416.6 620.2H693.7V636.2H416.6ZM769.9 620.2H924.1V636.2H769.9ZM370.5 635.6H432.5V651.5H370.5ZM478.0 635.6H662.9V651.5H478.0ZM785.2 635.6H847.3V651.5H785.2ZM877.4 635.6H954.8V651.5H877.4ZM293.7 650.9H386.5V666.9H293.7ZM478.0 650.9H524.7V666.9H478.0ZM554.8 650.9H616.9V666.9H554.8ZM785.2 650.9H816.5V666.9H785.2ZM877.4 650.9H970.1V666.9H877.4ZM263.0 666.3H309.7V682.2H263.0ZM877.4 666.3H1000.9V682.2H877.4ZM1015.6 666.3H1031.6V682.2H1015.6ZM247.6 681.6H278.9V697.6H247.6ZM938.8 681.6H1031.6V697.6H938.8ZM247.6 697.0H278.9V712.9H247.6ZM969.5 697.0H1046.9V712.9H969.5ZM101.7 712.3H110.0V728.3H101.7ZM247.6 712.3H371.1V728.3H247.6ZM1000.3 712.3H1046.9V728.3H1000.3ZM232.3 727.7H355.7V743.6H232.3ZM1015.6 727.7H1077.7V743.6H1015.6ZM232.3 743.0H325.0V759.0H232.3ZM1015.6 743.0H1093.0V759.0H1015.6ZM216.9 758.4H309.7V774.3H216.9ZM984.9 758.4H1108.4V774.3H984.9ZM232.3 773.7H263.6V789.7H232.3ZM984.9 773.7H1016.2V789.7H984.9ZM1031.0 773.7H1139.1V789.7H1031.0ZM263.0 789.1H278.9V805.0H263.0ZM969.5 789.1H985.5V805.0H969.5ZM1000.3 789.1H1123.7V805.0H1000.3ZM247.6 804.4H278.9V820.4H247.6ZM1015.6 804.4H1031.6V820.4H1015.6ZM1046.3 804.4H1139.1V820.4H1046.3ZM1153.9 804.4H1169.8V820.4H1153.9ZM247.6 819.8H294.3V835.7H247.6ZM1107.8 819.8H1215.9V835.7H1107.8ZM201.5 835.1H217.5V851.1H201.5ZM247.6 835.1H263.6V851.1H247.6ZM1138.5 835.1H1277.3V851.1H1138.5ZM1184.6 850.5H1308.1V866.4H1184.6ZM1184.6 865.8H1308.1V881.8H1184.6ZM1322.8 865.8H1354.1V881.8H1322.8ZM1368.9 865.8H1384.9V881.8H1368.9ZM1215.3 881.2H1415.6V897.1H1215.3ZM1246.0 896.5H1507.7V912.5H1246.0ZM1276.7 911.9H1323.4V927.8H1276.7ZM1338.2 911.9H1354.1V927.8H1338.2ZM1368.9 911.9H1599.9V927.8H1368.9ZM1368.9 927.2H1461.7V943.2H1368.9ZM1507.1 927.2H1638.3V943.2H1507.1ZM1368.9 942.6H1384.9V958.5H1368.9ZM1415.0 942.6H1461.7V958.5H1415.0ZM1507.1 942.6H1638.3V958.5H1507.1ZM1537.9 957.9H1599.9V973.9H1537.9ZM1614.7 957.9H1630.6V973.9H1614.7Z"/>
<path fill="#fa9857" d="M693.1 620.2H770.5V636.2H693.1ZM431.9 635.6H478.6V651.5H431.9ZM662.3 635.6H785.8V651.5H662.3ZM846.7 635.6H878.0V651.5H846.7ZM385.9 650.9H478.6V666.9H385.9ZM524.1 650.9H555.4V666.9H524.1ZM616.3 650.9H785.8V666.9H616.3ZM815.9 650.9H878.0V666.9H815.9ZM309.1 666.3H616.9V682.2H309.1ZM662.3 666.3H878.0V682.2H662.3ZM278.3 681.6H340.4V697.6H278.3ZM431.9 681.6H555.4V697.6H431.9ZM708.4 681.6H939.4V697.6H708.4ZM278.3 697.0H386.5V712.9H278.3ZM508.7 697.0H524.7V712.9H508.7ZM846.7 697.0H970.1V712.9H846.7ZM370.5 712.3H401.8V728.3H370.5ZM831.3 712.3H1000.9V728.3H831.3ZM109.4 727.7H125.3V743.6H109.4ZM355.1 727.7H432.5V743.6H355.1ZM846.7 727.7H893.3V743.6H846.7ZM969.5 727.7H1016.2V743.6H969.5ZM324.4 743.0H340.4V759.0H324.4ZM355.1 743.0H432.5V759.0H355.1ZM846.7 743.0H862.6V759.0H846.7ZM954.2 743.0H1016.2V759.0H954.2ZM170.8 758.4H186.8V774.3H170.8ZM309.1 758.4H340.4V774.3H309.1ZM954.2 758.4H985.5V774.3H954.2ZM263.0 773.7H325.0V789.7H263.0ZM954.2 773.7H985.5V789.7H954.2ZM278.3 789.1H309.7V805.0H278.3ZM938.8 789.1H970.1V805.0H938.8ZM984.9 789.1H1000.9V805.0H984.9ZM278.3 804.4H309.7V820.4H278.3ZM954.2 804.4H1016.2V820.4H954.2ZM1031.0 804.4H1046.9V820.4H1031.0ZM293.7 819.8H340.4V835.7H293.7ZM385.9 819.8H401.8V835.7H385.9ZM431.9 819.8H447.9V835.7H431.9ZM984.9 819.8H1108.4V835.7H984.9ZM186.2 835.1H202.1V851.1H186.2ZM293.7 835.1H401.8V851.1H293.7ZM1015.6 835.1H1139.1V851.1H1015.6ZM293.7 850.5H309.7V866.4H293.7ZM339.8 850.5H401.8V866.4H339.8ZM1061.7 850.5H1185.2V866.4H1061.7ZM370.5 865.8H417.2V881.8H370.5ZM1092.4 865.8H1185.2V881.8H1092.4ZM370.5 881.2H417.2V897.1H370.5ZM1092.4 881.2H1215.9V897.1H1092.4ZM1107.8 896.5H1246.6V912.5H1107.8ZM1138.5 911.9H1277.3V927.8H1138.5ZM1322.8 911.9H1338.8V927.8H1322.8ZM1353.5 911.9H1369.5V927.8H1353.5ZM1153.9 927.2H1369.5V943.2H1153.9ZM1461.1 927.2H1507.7V943.2H1461.1ZM1138.5 942.6H1169.8V958.5H1138.5ZM1184.6 942.6H1215.9V958.5H1184.6ZM1230.7 942.6H1369.5V958.5H1230.7ZM1384.3 942.6H1415.6V958.5H1384.3ZM1461.1 942.6H1507.7V958.5H1461.1ZM1230.7 957.9H1246.6V973.9H1230.7ZM1261.4 957.9H1277.3V973.9H1261.4ZM1292.1 957.9H1538.5V973.9H1292.1ZM1599.3 957.9H1615.3V973.9H1599.3ZM1630.0 957.9H1638.3V973.9H1630.0ZM1307.5 973.3H1323.4V989.2H1307.5ZM1338.2 973.3H1638.3V989.2H1338.2ZM1368.9 988.6H1584.5V1004.6H1368.9ZM1614.7 988.6H1630.6V1004.6H1614.7ZM1338.2 1004.0H1354.1V1019.9H1338.2ZM1476.4 1004.0H1492.4V1019.9H1476.4ZM631.6 1080.7H647.6V1096.7H631.6ZM1276.7 1111.4H1292.7V1127.4H1276.7ZM1276.7 1126.8H1338.8V1142.7H1276.7ZM1307.5 1142.1H1323.4V1158.1H1307.5ZM1261.4 1157.5H1277.3V1173.4H1261.4ZM1307.5 1157.5H1338.8V1173.4H1307.5ZM1292.1 1172.8H1354.1V1188.8H1292.1ZM846.7 1188.2H862.6V1204.1H846.7ZM1307.5 1188.2H1354.1V1204.1H1307.5ZM1507.1 1188.2H1538.5V1204.1H1507.1ZM1507.1 1203.5H1553.8V1219.5H1507.1ZM1507.1 1218.9H1553.8V1234.8H1507.1ZM1507.1 1234.2H1538.5V1250.2H1507.1ZM1507.1 1249.6H1538.5V1265.5H1507.1Z"/>
<path fill="#f57547" d="M101.7 635.6H110.0V651.5H101.7ZM616.3 666.3H662.9V682.2H616.3ZM339.8 681.6H432.5V697.6H339.8ZM554.8 681.6H709.0V697.6H554.8ZM385.9 697.0H509.3V712.9H385.9ZM524.1 697.0H540.1V712.9H524.1ZM616.3 697.0H678.3V712.9H616.3ZM708.4 697.0H847.3V712.9H708.4ZM401.2 712.3H509.3V728.3H401.2ZM708.4 712.3H755.1V728.3H708.4ZM769.9 712.3H831.9V728.3H769.9ZM431.9 727.7H494.0V743.6H431.9ZM723.8 727.7H755.1V743.6H723.8ZM800.6 727.7H847.3V743.6H800.6ZM892.7 727.7H970.1V743.6H892.7ZM140.1 743.0H156.1V759.0H140.1ZM339.8 743.0H355.7V759.0H339.8ZM431.9 743.0H478.6V759.0H431.9ZM800.6 743.0H847.3V759.0H800.6ZM862.0 743.0H954.8V759.0H862.0ZM339.8 758.4H463.3V774.3H339.8ZM831.3 758.4H893.3V774.3H831.3ZM923.5 758.4H954.8V774.3H923.5ZM324.4 773.7H340.4V789.7H324.4ZM385.9 773.7H463.3V789.7H385.9ZM846.7 773.7H893.3V789.7H846.7ZM923.5 773.7H954.8V789.7H923.5ZM170.8 789.1H186.8V805.0H170.8ZM309.1 789.1H325.0V805.0H309.1ZM385.9 789.1H478.6V805.0H385.9ZM862.0 789.1H939.4V805.0H862.0ZM170.8 804.4H186.8V820.4H170.8ZM309.1 804.4H355.7V820.4H309.1ZM385.9 804.4H463.3V820.4H385.9ZM800.6 804.4H831.9V820.4H800.6ZM862.0 804.4H954.8V820.4H862.0ZM170.8 819.8H186.8V835.7H170.8ZM339.8 819.8H386.5V835.7H339.8ZM401.2 819.8H432.5V835.7H401.2ZM447.3 819.8H463.3V835.7H447.3ZM877.4 819.8H985.5V835.7H877.4ZM401.2 835.1H463.3V851.1H401.2ZM892.7 835.1H1016.2V851.1H892.7ZM232.3 850.5H248.2V866.4H232.3ZM278.3 850.5H294.3V866.4H278.3ZM309.1 850.5H340.4V866.4H309.1ZM401.2 850.5H447.9V866.4H401.2ZM923.5 850.5H1062.3V866.4H923.5ZM355.1 865.8H371.1V881.8H355.1ZM416.6 865.8H432.5V881.8H416.6ZM923.5 865.8H1093.0V881.8H923.5ZM355.1 881.2H371.1V897.1H355.1ZM416.6 881.2H432.5V897.1H416.6ZM478.0 881.2H570.8V897.1H478.0ZM938.8 881.2H1093.0V897.1H938.8ZM370.5 896.5H432.5V912.5H370.5ZM478.0 896.5H494.0V912.5H478.0ZM508.7 896.5H570.8V912.5H508.7ZM969.5 896.5H1108.4V912.5H969.5ZM462.7 911.9H478.6V927.8H462.7ZM508.7 911.9H570.8V927.8H508.7ZM1015.6 911.9H1139.1V927.8H1015.6ZM508.7 927.2H570.8V943.2H508.7ZM1031.0 927.2H1154.5V943.2H1031.0ZM524.1 942.6H586.1V958.5H524.1ZM1061.7 942.6H1139.1V958.5H1061.7ZM1169.2 942.6H1185.2V958.5H1169.2ZM1215.3 942.6H1231.3V958.5H1215.3ZM539.5 957.9H586.1V973.9H539.5ZM1061.7 957.9H1231.3V973.9H1061.7ZM1246.0 957.9H1262.0V973.9H1246.0ZM1276.7 957.9H1292.7V973.9H1276.7ZM554.8 973.3H586.1V989.2H554.8ZM1092.4 973.3H1308.1V989.2H1092.4ZM1322.8 973.3H1338.8V989.2H1322.8ZM554.8 988.6H586.1V1004.6H554.8ZM1077.1 988.6H1108.4V1004.6H1077.1ZM1199.9 988.6H1231.3V1004.6H1199.9ZM1246.0 988.6H1369.5V1004.6H1246.0ZM1583.9 988.6H1615.3V1004.6H1583.9ZM1630.0 988.6H1638.3V1004.6H1630.0ZM554.8 1004.0H601.5V1019.9H554.8ZM1046.3 1004.0H1062.3V1019.9H1046.3ZM1246.0 1004.0H1338.8V1019.9H1246.0ZM1353.5 1004.0H1477.0V1019.9H1353.5ZM1491.8 1004.0H1638.3V1019.9H1491.8ZM554.8 1019.3H586.1V1035.3H554.8ZM1046.3 1019.3H1077.7V1035.3H1046.3ZM1276.7 1019.3H1638.3V1035.3H1276.7ZM1061.7 1034.7H1077.7V1050.6H1061.7ZM1215.3 1034.7H1477.0V1050.6H1215.3ZM1491.8 1034.7H1507.7V1050.6H1491.8ZM1537.9 1034.7H1569.2V1050.6H1537.9ZM1583.9 1034.7H1638.3V1050.6H1583.9ZM677.7 1050.0H693.7V1066.0H677.7ZM1230.7 1050.0H1277.3V1066.0H1230.7ZM1307.5 1050.0H1354.1V1066.0H1307.5ZM1368.9 1050.0H1430.9V1066.0H1368.9ZM1583.9 1050.0H1615.3V1066.0H1583.9ZM616.3 1065.4H632.2V1081.3H616.3ZM693.1 1065.4H755.1V1081.3H693.1ZM1215.3 1065.4H1292.7V1081.3H1215.3ZM1384.3 1065.4H1400.2V1081.3H1384.3ZM1583.9 1065.4H1599.9V1081.3H1583.9ZM647.0 1080.7H662.9V1096.7H647.0ZM1215.3 1080.7H1308.1V1096.7H1215.3ZM662.3 1096.1H693.7V1112.0H662.3ZM923.5 1096.1H954.8V1112.0H923.5ZM1230.7 1096.1H1338.8V1112.0H1230.7ZM877.4 1111.4H893.3V1127.4H877.4ZM923.5 1111.4H954.8V1127.4H923.5ZM1261.4 1111.4H1277.3V1127.4H1261.4ZM1292.1 1111.4H1369.5V1127.4H1292.1ZM831.3 1126.8H878.0V1142.7H831.3ZM938.8 1126.8H954.8V1142.7H938.8ZM1246.0 1126.8H1277.3V1142.7H1246.0ZM1338.2 1126.8H1369.5V1142.7H1338.2ZM846.7 1142.1H878.0V1158.1H846.7ZM1230.7 1142.1H1308.1V1158.1H1230.7ZM1322.8 1142.1H1369.5V1158.1H1322.8ZM815.9 1157.5H831.9V1173.4H815.9ZM1246.0 1157.5H1262.0V1173.4H1246.0ZM1276.7 1157.5H1308.1V1173.4H1276.7ZM1338.2 1157.5H1400.2V1173.4H1338.2ZM1522.5 1157.5H1569.2V1173.4H1522.5ZM831.3 1172.8H847.3V1188.8H831.3ZM908.1 1172.8H924.1V1188.8H908.1ZM1169.2 1172.8H1185.2V1188.8H1169.2ZM1246.0 1172.8H1292.7V1188.8H1246.0ZM1353.5 1172.8H1415.6V1188.8H1353.5ZM1461.1 1172.8H1492.4V1188.8H1461.1ZM1507.1 1172.8H1569.2V1188.8H1507.1ZM1599.3 1172.8H1615.3V1188.8H1599.3ZM1292.1 1188.2H1308.1V1204.1H1292.1ZM1353.5 1188.2H1507.7V1204.1H1353.5ZM1537.9 1188.2H1638.3V1204.1H1537.9ZM908.1 1203.5H924.1V1219.5H908.1ZM1322.8 1203.5H1507.7V1219.5H1322.8ZM1553.2 1203.5H1638.3V1219.5H1553.2ZM831.3 1218.9H862.6V1234.8H831.3ZM1338.2 1218.9H1507.7V1234.8H1338.2ZM1553.2 1218.9H1638.3V1234.8H1553.2ZM831.3 1234.2H847.3V1250.2H831.3ZM1353.5 1234.2H1384.9V1250.2H1353.5ZM1415.0 1234.2H1507.7V1250.2H1415.0ZM1537.9 1234.2H1638.3V1250.2H1537.9ZM1353.5 1249.6H1384.9V1265.5H1353.5ZM1415.0 1249.6H1507.7V1265.5H1415.0ZM1537.9 1249.6H1638.3V1265.5H1537.9ZM815.9 1264.9H831.9V1280.9H815.9ZM1399.6 1264.9H1638.3V1280.9H1399.6ZM785.2 1280.3H801.2V1296.2H785.2ZM1415.0 1280.3H1638.3V1296.2H1415.0ZM1430.3 1295.6H1638.3V1311.6H1430.3ZM1445.7 1311.0H1638.3V1326.9H1445.7ZM1445.7 1326.3H1638.3V1342.3H1445.7ZM723.8 1341.7H755.1V1357.6H723.8ZM1507.1 1341.7H1638.3V1357.6H1507.1ZM723.8 1357.0H755.1V1365.3H723.8ZM1522.5 1357.0H1638.3V1365.3H1522.5Z"/>
<path fill="#e85b48" d="M539.5 697.0H616.9V712.9H539.5ZM677.7 697.0H709.0V712.9H677.7ZM508.7 712.3H709.0V728.3H508.7ZM754.5 712.3H770.5V728.3H754.5ZM101.7 727.7H110.0V743.6H101.7ZM493.4 727.7H724.4V743.6H493.4ZM754.5 727.7H801.2V743.6H754.5ZM478.0 743.0H632.2V759.0H478.0ZM647.0 743.0H662.9V759.0H647.0ZM693.1 743.0H801.2V759.0H693.1ZM462.7 758.4H693.7V774.3H462.7ZM723.8 758.4H831.9V774.3H723.8ZM892.7 758.4H924.1V774.3H892.7ZM170.8 773.7H186.8V789.7H170.8ZM339.8 773.7H386.5V789.7H339.8ZM462.7 773.7H678.3V789.7H462.7ZM693.1 773.7H847.3V789.7H693.1ZM892.7 773.7H924.1V789.7H892.7ZM324.4 789.1H340.4V805.0H324.4ZM370.5 789.1H386.5V805.0H370.5ZM478.0 789.1H494.0V805.0H478.0ZM508.7 789.1H601.5V805.0H508.7ZM647.0 789.1H678.3V805.0H647.0ZM693.1 789.1H709.0V805.0H693.1ZM754.5 789.1H862.6V805.0H754.5ZM355.1 804.4H386.5V820.4H355.1ZM462.7 804.4H494.0V820.4H462.7ZM539.5 804.4H632.2V820.4H539.5ZM693.1 804.4H739.7V820.4H693.1ZM754.5 804.4H801.2V820.4H754.5ZM831.3 804.4H862.6V820.4H831.3ZM462.7 819.8H494.0V835.7H462.7ZM554.8 819.8H586.1V835.7H554.8ZM600.9 819.8H616.9V835.7H600.9ZM708.4 819.8H755.1V835.7H708.4ZM785.2 819.8H878.0V835.7H785.2ZM462.7 835.1H494.0V851.1H462.7ZM554.8 835.1H601.5V851.1H554.8ZM631.6 835.1H647.6V851.1H631.6ZM708.4 835.1H755.1V851.1H708.4ZM785.2 835.1H893.3V851.1H785.2ZM201.5 850.5H232.9V866.4H201.5ZM247.6 850.5H278.9V866.4H247.6ZM447.3 850.5H494.0V866.4H447.3ZM647.0 850.5H662.9V866.4H647.0ZM708.4 850.5H724.4V866.4H708.4ZM739.1 850.5H755.1V866.4H739.1ZM769.9 850.5H801.2V866.4H769.9ZM815.9 850.5H924.1V866.4H815.9ZM293.7 865.8H325.0V881.8H293.7ZM431.9 865.8H494.0V881.8H431.9ZM524.1 865.8H570.8V881.8H524.1ZM708.4 865.8H739.7V881.8H708.4ZM815.9 865.8H831.9V881.8H815.9ZM846.7 865.8H924.1V881.8H846.7ZM324.4 881.2H355.7V897.1H324.4ZM431.9 881.2H478.6V897.1H431.9ZM570.2 881.2H586.1V897.1H570.2ZM600.9 881.2H616.9V897.1H600.9ZM708.4 881.2H739.7V897.1H708.4ZM754.5 881.2H770.5V897.1H754.5ZM831.3 881.2H939.4V897.1H831.3ZM339.8 896.5H371.1V912.5H339.8ZM431.9 896.5H478.6V912.5H431.9ZM493.4 896.5H509.3V912.5H493.4ZM570.2 896.5H616.9V912.5H570.2ZM739.1 896.5H770.5V912.5H739.1ZM815.9 896.5H970.1V912.5H815.9ZM385.9 911.9H432.5V927.8H385.9ZM447.3 911.9H463.3V927.8H447.3ZM493.4 911.9H509.3V927.8H493.4ZM570.2 911.9H616.9V927.8H570.2ZM723.8 911.9H770.5V927.8H723.8ZM815.9 911.9H1016.2V927.8H815.9ZM570.2 927.2H616.9V943.2H570.2ZM769.9 927.2H801.2V943.2H769.9ZM815.9 927.2H831.9V943.2H815.9ZM862.0 927.2H1031.6V943.2H862.0ZM508.7 942.6H524.7V958.5H508.7ZM585.5 942.6H616.9V958.5H585.5ZM877.4 942.6H1062.3V958.5H877.4ZM585.5 957.9H616.9V973.9H585.5ZM938.8 957.9H1062.3V973.9H938.8ZM539.5 973.3H555.4V989.2H539.5ZM585.5 973.3H632.2V989.2H585.5ZM984.9 973.3H1093.0V989.2H984.9ZM539.5 988.6H555.4V1004.6H539.5ZM585.5 988.6H632.2V1004.6H585.5ZM785.2 988.6H801.2V1004.6H785.2ZM1015.6 988.6H1077.7V1004.6H1015.6ZM1107.8 988.6H1200.5V1004.6H1107.8ZM1230.7 988.6H1246.6V1004.6H1230.7ZM539.5 1004.0H555.4V1019.9H539.5ZM600.9 1004.0H616.9V1019.9H600.9ZM769.9 1004.0H816.5V1019.9H769.9ZM1031.0 1004.0H1046.9V1019.9H1031.0ZM1061.7 1004.0H1246.6V1019.9H1061.7ZM539.5 1019.3H555.4V1035.3H539.5ZM585.5 1019.3H616.9V1035.3H585.5ZM647.0 1019.3H678.3V1035.3H647.0ZM769.9 1019.3H801.2V1035.3H769.9ZM938.8 1019.3H954.8V1035.3H938.8ZM1031.0 1019.3H1046.9V1035.3H1031.0ZM1077.1 1019.3H1277.3V1035.3H1077.1ZM570.2 1034.7H586.1V1050.6H570.2ZM662.3 1034.7H678.3V1050.6H662.3ZM769.9 1034.7H801.2V1050.6H769.9ZM1015.6 1034.7H1062.3V1050.6H1015.6ZM1077.1 1034.7H1215.9V1050.6H1077.1ZM1476.4 1034.7H1492.4V1050.6H1476.4ZM1507.1 1034.7H1538.5V1050.6H1507.1ZM1568.6 1034.7H1584.5V1050.6H1568.6ZM600.9 1050.0H616.9V1066.0H600.9ZM662.3 1050.0H678.3V1066.0H662.3ZM693.1 1050.0H739.7V1066.0H693.1ZM1015.6 1050.0H1031.6V1066.0H1015.6ZM1107.8 1050.0H1231.3V1066.0H1107.8ZM1276.7 1050.0H1308.1V1066.0H1276.7ZM1353.5 1050.0H1369.5V1066.0H1353.5ZM1430.3 1050.0H1584.5V1066.0H1430.3ZM1614.7 1050.0H1638.3V1066.0H1614.7ZM600.9 1065.4H616.9V1081.3H600.9ZM1015.6 1065.4H1031.6V1081.3H1015.6ZM1153.9 1065.4H1215.9V1081.3H1153.9ZM1292.1 1065.4H1384.9V1081.3H1292.1ZM1399.6 1065.4H1492.4V1081.3H1399.6ZM1553.2 1065.4H1584.5V1081.3H1553.2ZM1599.3 1065.4H1638.3V1081.3H1599.3ZM616.3 1080.7H632.2V1096.7H616.3ZM677.7 1080.7H693.7V1096.7H677.7ZM708.4 1080.7H755.1V1096.7H708.4ZM1153.9 1080.7H1215.9V1096.7H1153.9ZM1307.5 1080.7H1446.3V1096.7H1307.5ZM1553.2 1080.7H1638.3V1096.7H1553.2ZM723.8 1096.1H755.1V1112.0H723.8ZM769.9 1096.1H816.5V1112.0H769.9ZM862.0 1096.1H893.3V1112.0H862.0ZM908.1 1096.1H924.1V1112.0H908.1ZM954.2 1096.1H985.5V1112.0H954.2ZM1184.6 1096.1H1231.3V1112.0H1184.6ZM1338.2 1096.1H1415.6V1112.0H1338.2ZM1430.3 1096.1H1446.3V1112.0H1430.3ZM1522.5 1096.1H1538.5V1112.0H1522.5ZM1553.2 1096.1H1615.3V1112.0H1553.2ZM1630.0 1096.1H1638.3V1112.0H1630.0ZM739.1 1111.4H755.1V1127.4H739.1ZM785.2 1111.4H878.0V1127.4H785.2ZM954.2 1111.4H970.1V1127.4H954.2ZM1199.9 1111.4H1262.0V1127.4H1199.9ZM1368.9 1111.4H1384.9V1127.4H1368.9ZM1568.6 1111.4H1615.3V1127.4H1568.6ZM1630.0 1111.4H1638.3V1127.4H1630.0ZM693.1 1126.8H709.0V1142.7H693.1ZM785.2 1126.8H831.9V1142.7H785.2ZM877.4 1126.8H908.7V1142.7H877.4ZM1230.7 1126.8H1246.6V1142.7H1230.7ZM1368.9 1126.8H1384.9V1142.7H1368.9ZM1522.5 1126.8H1638.3V1142.7H1522.5ZM800.6 1142.1H847.3V1158.1H800.6ZM877.4 1142.1H924.1V1158.1H877.4ZM938.8 1142.1H954.8V1158.1H938.8ZM1169.2 1142.1H1231.3V1158.1H1169.2ZM1368.9 1142.1H1384.9V1158.1H1368.9ZM1430.3 1142.1H1477.0V1158.1H1430.3ZM1507.1 1142.1H1638.3V1158.1H1507.1ZM800.6 1157.5H816.5V1173.4H800.6ZM831.3 1157.5H939.4V1173.4H831.3ZM1169.2 1157.5H1246.6V1173.4H1169.2ZM1415.0 1157.5H1523.1V1173.4H1415.0ZM1568.6 1157.5H1638.3V1173.4H1568.6ZM800.6 1172.8H831.9V1188.8H800.6ZM846.7 1172.8H908.7V1188.8H846.7ZM923.5 1172.8H954.8V1188.8H923.5ZM1215.3 1172.8H1246.6V1188.8H1215.3ZM1415.0 1172.8H1461.7V1188.8H1415.0ZM1491.8 1172.8H1507.7V1188.8H1491.8ZM1568.6 1172.8H1599.9V1188.8H1568.6ZM1614.7 1172.8H1638.3V1188.8H1614.7ZM800.6 1188.2H847.3V1204.1H800.6ZM862.0 1188.2H908.7V1204.1H862.0ZM1169.2 1188.2H1200.5V1204.1H1169.2ZM1215.3 1188.2H1292.7V1204.1H1215.3ZM815.9 1203.5H847.3V1219.5H815.9ZM862.0 1203.5H878.0V1219.5H862.0ZM1199.9 1203.5H1277.3V1219.5H1199.9ZM1307.5 1203.5H1323.4V1219.5H1307.5ZM815.9 1218.9H831.9V1234.8H815.9ZM1184.6 1218.9H1292.7V1234.8H1184.6ZM1322.8 1218.9H1338.8V1234.8H1322.8ZM1184.6 1234.2H1277.3V1250.2H1184.6ZM1338.2 1234.2H1354.1V1250.2H1338.2ZM1384.3 1234.2H1415.6V1250.2H1384.3ZM800.6 1249.6H831.9V1265.5H800.6ZM1199.9 1249.6H1277.3V1265.5H1199.9ZM1338.2 1249.6H1354.1V1265.5H1338.2ZM1384.3 1249.6H1415.6V1265.5H1384.3ZM800.6 1264.9H816.5V1280.9H800.6ZM1199.9 1264.9H1308.1V1280.9H1199.9ZM1353.5 1264.9H1400.2V1280.9H1353.5ZM800.6 1280.3H831.9V1296.2H800.6ZM1215.3 1280.3H1323.4V1296.2H1215.3ZM1353.5 1280.3H1415.6V1296.2H1353.5ZM785.2 1295.6H847.3V1311.6H785.2ZM1230.7 1295.6H1430.9V1311.6H1230.7ZM1230.7 1311.0H1446.3V1326.9H1230.7ZM739.1 1326.3H770.5V1342.3H739.1ZM1276.7 1326.3H1323.4V1342.3H1276.7ZM1384.3 1326.3H1446.3V1342.3H1384.3ZM708.4 1341.7H724.4V1357.6H708.4ZM1292.1 1341.7H1323.4V1357.6H1292.1ZM1399.6 1341.7H1507.7V1357.6H1399.6ZM708.4 1357.0H724.4V1365.3H708.4ZM1307.5 1357.0H1323.4V1365.3H1307.5ZM1399.6 1357.0H1523.1V1365.3H1399.6Z"/>
<path fill="#9e0142" d="M101.7 743.0H110.0V759.0H101.7ZM124.7 743.0H140.7V759.0H124.7ZM101.7 758.4H156.1V774.3H101.7ZM101.7 773.7H171.4V789.7H101.7ZM101.7 789.1H171.4V805.0H101.7ZM101.7 804.4H171.4V820.4H101.7ZM101.7 819.8H171.4V835.7H101.7ZM101.7 835.1H171.4V851.1H101.7ZM101.7 850.5H186.8V866.4H101.7ZM101.7 865.8H202.1V881.8H101.7ZM216.9 865.8H294.3V881.8H216.9ZM101.7 881.2H309.7V897.1H101.7ZM101.7 896.5H340.4V912.5H101.7ZM101.7 911.9H263.6V927.8H101.7ZM278.3 911.9H355.7V927.8H278.3ZM101.7 927.2H417.2V943.2H101.7ZM431.9 927.2H478.6V943.2H431.9ZM101.7 942.6H494.0V958.5H101.7ZM101.7 957.9H217.5V973.9H101.7ZM247.6 957.9H494.0V973.9H247.6ZM101.7 973.3H186.8V989.2H101.7ZM247.6 973.3H447.9V989.2H247.6ZM462.7 973.3H494.0V989.2H462.7ZM101.7 988.6H171.4V1004.6H101.7ZM247.6 988.6H447.9V1004.6H247.6ZM101.7 1004.0H447.9V1019.9H101.7ZM101.7 1019.3H432.5V1035.3H101.7ZM493.4 1019.3H524.7V1035.3H493.4ZM984.9 1019.3H1000.9V1035.3H984.9ZM101.7 1034.7H447.9V1050.6H101.7ZM493.4 1034.7H555.4V1050.6H493.4ZM101.7 1050.0H401.8V1066.0H101.7ZM478.0 1050.0H570.8V1066.0H478.0ZM101.7 1065.4H140.7V1081.3H101.7ZM170.8 1065.4H417.2V1081.3H170.8ZM478.0 1065.4H586.1V1081.3H478.0ZM1031.0 1065.4H1108.4V1081.3H1031.0ZM101.7 1080.7H110.0V1096.7H101.7ZM186.2 1080.7H432.5V1096.7H186.2ZM478.0 1080.7H601.5V1096.7H478.0ZM1031.0 1080.7H1123.7V1096.7H1031.0ZM186.2 1096.1H263.6V1112.0H186.2ZM324.4 1096.1H494.0V1112.0H324.4ZM508.7 1096.1H616.9V1112.0H508.7ZM1000.3 1096.1H1123.7V1112.0H1000.3ZM140.1 1111.4H248.2V1127.4H140.1ZM355.1 1111.4H616.9V1127.4H355.1ZM708.4 1111.4H724.4V1127.4H708.4ZM984.9 1111.4H1123.7V1127.4H984.9ZM140.1 1126.8H232.9V1142.7H140.1ZM370.5 1126.8H632.2V1142.7H370.5ZM969.5 1126.8H1139.1V1142.7H969.5ZM124.7 1142.1H232.9V1158.1H124.7ZM385.9 1142.1H662.9V1158.1H385.9ZM969.5 1142.1H1139.1V1158.1H969.5ZM140.1 1157.5H217.5V1173.4H140.1ZM401.2 1157.5H647.6V1173.4H401.2ZM969.5 1157.5H1139.1V1173.4H969.5ZM140.1 1172.8H202.1V1188.8H140.1ZM401.2 1172.8H647.6V1188.8H401.2ZM954.2 1172.8H1123.7V1188.8H954.2ZM109.4 1188.2H186.8V1204.1H109.4ZM416.6 1188.2H632.2V1204.1H416.6ZM954.2 1188.2H1123.7V1204.1H954.2ZM109.4 1203.5H186.8V1219.5H109.4ZM431.9 1203.5H616.9V1219.5H431.9ZM938.8 1203.5H1108.4V1219.5H938.8ZM109.4 1218.9H186.8V1234.8H109.4ZM216.9 1218.9H248.2V1234.8H216.9ZM431.9 1218.9H494.0V1234.8H431.9ZM508.7 1218.9H647.6V1234.8H508.7ZM923.5 1218.9H1108.4V1234.8H923.5ZM109.4 1234.2H140.7V1250.2H109.4ZM216.9 1234.2H248.2V1250.2H216.9ZM447.3 1234.2H662.9V1250.2H447.3ZM877.4 1234.2H1108.4V1250.2H877.4ZM232.3 1249.6H248.2V1265.5H232.3ZM508.7 1249.6H678.3V1265.5H508.7ZM954.2 1249.6H1108.4V1265.5H954.2ZM508.7 1264.9H662.9V1280.9H508.7ZM969.5 1264.9H1108.4V1280.9H969.5ZM524.1 1280.3H662.9V1296.2H524.1ZM862.0 1280.3H908.7V1296.2H862.0ZM969.5 1280.3H1139.1V1296.2H969.5ZM539.5 1295.6H632.2V1311.6H539.5ZM862.0 1295.6H908.7V1311.6H862.0ZM938.8 1295.6H1169.8V1311.6H938.8ZM846.7 1311.0H1154.5V1326.9H846.7ZM785.2 1326.3H816.5V1342.3H785.2ZM846.7 1326.3H1154.5V1342.3H846.7ZM754.5 1341.7H785.8V1357.6H754.5ZM846.7 1341.7H1139.1V1357.6H846.7ZM524.1 1357.0H540.1V1365.3H524.1ZM754.5 1357.0H785.8V1365.3H754.5ZM846.7 1357.0H1139.1V1365.3H846.7Z"/>
<path fill="#d7414e" d="M109.4 743.0H125.3V759.0H109.4ZM631.6 743.0H647.6V759.0H631.6ZM662.3 743.0H693.7V759.0H662.3ZM155.5 758.4H171.4V774.3H155.5ZM693.1 758.4H724.4V774.3H693.1ZM677.7 773.7H693.7V789.7H677.7ZM339.8 789.1H371.1V805.0H339.8ZM493.4 789.1H509.3V805.0H493.4ZM600.9 789.1H647.6V805.0H600.9ZM677.7 789.1H693.7V805.0H677.7ZM708.4 789.1H755.1V805.0H708.4ZM493.4 804.4H540.1V820.4H493.4ZM631.6 804.4H693.7V820.4H631.6ZM739.1 804.4H755.1V820.4H739.1ZM493.4 819.8H555.4V835.7H493.4ZM585.5 819.8H601.5V835.7H585.5ZM616.3 819.8H709.0V835.7H616.3ZM754.5 819.8H785.8V835.7H754.5ZM170.8 835.1H186.8V851.1H170.8ZM493.4 835.1H555.4V851.1H493.4ZM600.9 835.1H632.2V851.1H600.9ZM647.0 835.1H709.0V851.1H647.0ZM754.5 835.1H785.8V851.1H754.5ZM186.2 850.5H202.1V866.4H186.2ZM493.4 850.5H647.6V866.4H493.4ZM662.3 850.5H709.0V866.4H662.3ZM723.8 850.5H739.7V866.4H723.8ZM754.5 850.5H770.5V866.4H754.5ZM800.6 850.5H816.5V866.4H800.6ZM324.4 865.8H355.7V881.8H324.4ZM493.4 865.8H524.7V881.8H493.4ZM570.2 865.8H709.0V881.8H570.2ZM739.1 865.8H816.5V881.8H739.1ZM831.3 865.8H847.3V881.8H831.3ZM585.5 881.2H601.5V897.1H585.5ZM616.3 881.2H709.0V897.1H616.3ZM739.1 881.2H755.1V897.1H739.1ZM769.9 881.2H831.9V897.1H769.9ZM616.3 896.5H739.7V912.5H616.3ZM769.9 896.5H816.5V912.5H769.9ZM370.5 911.9H386.5V927.8H370.5ZM431.9 911.9H447.9V927.8H431.9ZM478.0 911.9H494.0V927.8H478.0ZM616.3 911.9H724.4V927.8H616.3ZM769.9 911.9H816.5V927.8H769.9ZM493.4 927.2H509.3V943.2H493.4ZM616.3 927.2H770.5V943.2H616.3ZM800.6 927.2H816.5V943.2H800.6ZM831.3 927.2H862.6V943.2H831.3ZM616.3 942.6H878.0V958.5H616.3ZM524.1 957.9H540.1V973.9H524.1ZM616.3 957.9H939.4V973.9H616.3ZM524.1 973.3H540.1V989.2H524.1ZM631.6 973.3H985.5V989.2H631.6ZM524.1 988.6H540.1V1004.6H524.1ZM631.6 988.6H785.8V1004.6H631.6ZM800.6 988.6H1016.2V1004.6H800.6ZM524.1 1004.0H540.1V1019.9H524.1ZM616.3 1004.0H770.5V1019.9H616.3ZM815.9 1004.0H985.5V1019.9H815.9ZM1015.6 1004.0H1031.6V1019.9H1015.6ZM616.3 1019.3H647.6V1035.3H616.3ZM677.7 1019.3H770.5V1035.3H677.7ZM800.6 1019.3H847.3V1035.3H800.6ZM923.5 1019.3H939.4V1035.3H923.5ZM954.2 1019.3H970.1V1035.3H954.2ZM1015.6 1019.3H1031.6V1035.3H1015.6ZM554.8 1034.7H570.8V1050.6H554.8ZM585.5 1034.7H662.9V1050.6H585.5ZM677.7 1034.7H770.5V1050.6H677.7ZM800.6 1034.7H847.3V1050.6H800.6ZM923.5 1034.7H954.8V1050.6H923.5ZM1000.3 1034.7H1016.2V1050.6H1000.3ZM570.2 1050.0H601.5V1066.0H570.2ZM616.3 1050.0H662.9V1066.0H616.3ZM739.1 1050.0H847.3V1066.0H739.1ZM892.7 1050.0H954.8V1066.0H892.7ZM1000.3 1050.0H1016.2V1066.0H1000.3ZM1031.0 1050.0H1046.9V1066.0H1031.0ZM1077.1 1050.0H1108.4V1066.0H1077.1ZM585.5 1065.4H601.5V1081.3H585.5ZM631.6 1065.4H693.7V1081.3H631.6ZM754.5 1065.4H862.6V1081.3H754.5ZM877.4 1065.4H954.8V1081.3H877.4ZM984.9 1065.4H1016.2V1081.3H984.9ZM1123.1 1065.4H1154.5V1081.3H1123.1ZM1491.8 1065.4H1553.8V1081.3H1491.8ZM600.9 1080.7H616.9V1096.7H600.9ZM662.3 1080.7H678.3V1096.7H662.3ZM693.1 1080.7H709.0V1096.7H693.1ZM754.5 1080.7H862.6V1096.7H754.5ZM877.4 1080.7H1031.6V1096.7H877.4ZM1123.1 1080.7H1154.5V1096.7H1123.1ZM1445.7 1080.7H1553.8V1096.7H1445.7ZM616.3 1096.1H662.9V1112.0H616.3ZM754.5 1096.1H770.5V1112.0H754.5ZM815.9 1096.1H862.6V1112.0H815.9ZM892.7 1096.1H908.7V1112.0H892.7ZM984.9 1096.1H1000.9V1112.0H984.9ZM1153.9 1096.1H1185.2V1112.0H1153.9ZM1415.0 1096.1H1430.9V1112.0H1415.0ZM1445.7 1096.1H1523.1V1112.0H1445.7ZM1537.9 1096.1H1553.8V1112.0H1537.9ZM1614.7 1096.1H1630.6V1112.0H1614.7ZM662.3 1111.4H709.0V1127.4H662.3ZM754.5 1111.4H785.8V1127.4H754.5ZM892.7 1111.4H924.1V1127.4H892.7ZM969.5 1111.4H985.5V1127.4H969.5ZM1169.2 1111.4H1200.5V1127.4H1169.2ZM1384.3 1111.4H1569.2V1127.4H1384.3ZM1614.7 1111.4H1630.6V1127.4H1614.7ZM263.0 1126.8H325.0V1142.7H263.0ZM769.9 1126.8H785.8V1142.7H769.9ZM908.1 1126.8H939.4V1142.7H908.1ZM954.2 1126.8H970.1V1142.7H954.2ZM1153.9 1126.8H1231.3V1142.7H1153.9ZM1384.3 1126.8H1523.1V1142.7H1384.3ZM278.3 1142.1H355.7V1158.1H278.3ZM785.2 1142.1H801.2V1158.1H785.2ZM923.5 1142.1H939.4V1158.1H923.5ZM1153.9 1142.1H1169.8V1158.1H1153.9ZM1384.3 1142.1H1430.9V1158.1H1384.3ZM1476.4 1142.1H1507.7V1158.1H1476.4ZM278.3 1157.5H355.7V1173.4H278.3ZM785.2 1157.5H801.2V1173.4H785.2ZM938.8 1157.5H954.8V1173.4H938.8ZM1138.5 1157.5H1169.8V1173.4H1138.5ZM1399.6 1157.5H1415.6V1173.4H1399.6ZM293.7 1172.8H355.7V1188.8H293.7ZM723.8 1172.8H755.1V1188.8H723.8ZM785.2 1172.8H801.2V1188.8H785.2ZM1138.5 1172.8H1169.8V1188.8H1138.5ZM1184.6 1172.8H1215.9V1188.8H1184.6ZM324.4 1188.2H340.4V1204.1H324.4ZM785.2 1188.2H801.2V1204.1H785.2ZM908.1 1188.2H954.8V1204.1H908.1ZM1153.9 1188.2H1169.8V1204.1H1153.9ZM1199.9 1188.2H1215.9V1204.1H1199.9ZM385.9 1203.5H401.8V1219.5H385.9ZM785.2 1203.5H816.5V1219.5H785.2ZM846.7 1203.5H862.6V1219.5H846.7ZM877.4 1203.5H893.3V1219.5H877.4ZM923.5 1203.5H939.4V1219.5H923.5ZM1169.2 1203.5H1200.5V1219.5H1169.2ZM1276.7 1203.5H1308.1V1219.5H1276.7ZM370.5 1218.9H401.8V1234.8H370.5ZM785.2 1218.9H816.5V1234.8H785.2ZM862.0 1218.9H893.3V1234.8H862.0ZM908.1 1218.9H924.1V1234.8H908.1ZM1153.9 1218.9H1185.2V1234.8H1153.9ZM1292.1 1218.9H1308.1V1234.8H1292.1ZM370.5 1234.2H417.2V1250.2H370.5ZM785.2 1234.2H831.9V1250.2H785.2ZM846.7 1234.2H878.0V1250.2H846.7ZM1153.9 1234.2H1185.2V1250.2H1153.9ZM1276.7 1234.2H1308.1V1250.2H1276.7ZM1322.8 1234.2H1338.8V1250.2H1322.8ZM339.8 1249.6H432.5V1265.5H339.8ZM785.2 1249.6H801.2V1265.5H785.2ZM831.3 1249.6H862.6V1265.5H831.3ZM877.4 1249.6H893.3V1265.5H877.4ZM1169.2 1249.6H1200.5V1265.5H1169.2ZM1276.7 1249.6H1338.8V1265.5H1276.7ZM101.7 1264.9H125.3V1280.9H101.7ZM278.3 1264.9H309.7V1280.9H278.3ZM339.8 1264.9H432.5V1280.9H339.8ZM785.2 1264.9H801.2V1280.9H785.2ZM831.3 1264.9H847.3V1280.9H831.3ZM877.4 1264.9H893.3V1280.9H877.4ZM1307.5 1264.9H1354.1V1280.9H1307.5ZM247.6 1280.3H417.2V1296.2H247.6ZM769.9 1280.3H785.8V1296.2H769.9ZM831.3 1280.3H862.6V1296.2H831.3ZM1199.9 1280.3H1215.9V1296.2H1199.9ZM1322.8 1280.3H1354.1V1296.2H1322.8ZM101.7 1295.6H125.3V1311.6H101.7ZM247.6 1295.6H401.8V1311.6H247.6ZM739.1 1295.6H785.8V1311.6H739.1ZM1199.9 1295.6H1231.3V1311.6H1199.9ZM101.7 1311.0H401.8V1326.9H101.7ZM723.8 1311.0H831.9V1326.9H723.8ZM1215.3 1311.0H1231.3V1326.9H1215.3ZM101.7 1326.3H340.4V1342.3H101.7ZM693.1 1326.3H739.7V1342.3H693.1ZM769.9 1326.3H785.8V1342.3H769.9ZM1215.3 1326.3H1277.3V1342.3H1215.3ZM1322.8 1326.3H1384.9V1342.3H1322.8ZM101.7 1341.7H340.4V1357.6H101.7ZM355.1 1341.7H417.2V1357.6H355.1ZM647.0 1341.7H709.0V1357.6H647.0ZM785.2 1341.7H816.5V1357.6H785.2ZM1230.7 1341.7H1292.7V1357.6H1230.7ZM1322.8 1341.7H1400.2V1357.6H1322.8ZM101.7 1357.0H340.4V1365.3H101.7ZM355.1 1357.0H432.5V1365.3H355.1ZM647.0 1357.0H709.0V1365.3H647.0ZM785.2 1357.0H816.5V1365.3H785.2ZM1230.7 1357.0H1308.1V1365.3H1230.7ZM1322.8 1357.0H1400.2V1365.3H1322.8Z"/>
<path fill="#bc2249" d="M201.5 865.8H217.5V881.8H201.5ZM309.1 881.2H325.0V897.1H309.1ZM263.0 911.9H278.9V927.8H263.0ZM355.1 911.9H371.1V927.8H355.1ZM416.6 927.2H432.5V943.2H416.6ZM478.0 927.2H494.0V943.2H478.0ZM493.4 942.6H509.3V958.5H493.4ZM216.9 957.9H248.2V973.9H216.9ZM493.4 957.9H524.7V973.9H493.4ZM186.2 973.3H248.2V989.2H186.2ZM447.3 973.3H463.3V989.2H447.3ZM493.4 973.3H524.7V989.2H493.4ZM170.8 988.6H248.2V1004.6H170.8ZM447.3 988.6H524.7V1004.6H447.3ZM447.3 1004.0H524.7V1019.9H447.3ZM984.9 1004.0H1016.2V1019.9H984.9ZM431.9 1019.3H494.0V1035.3H431.9ZM524.1 1019.3H540.1V1035.3H524.1ZM846.7 1019.3H924.1V1035.3H846.7ZM969.5 1019.3H985.5V1035.3H969.5ZM1000.3 1019.3H1016.2V1035.3H1000.3ZM447.3 1034.7H494.0V1050.6H447.3ZM846.7 1034.7H924.1V1050.6H846.7ZM954.2 1034.7H1000.9V1050.6H954.2ZM401.2 1050.0H478.6V1066.0H401.2ZM846.7 1050.0H893.3V1066.0H846.7ZM954.2 1050.0H1000.9V1066.0H954.2ZM1046.3 1050.0H1077.7V1066.0H1046.3ZM140.1 1065.4H171.4V1081.3H140.1ZM416.6 1065.4H478.6V1081.3H416.6ZM862.0 1065.4H878.0V1081.3H862.0ZM954.2 1065.4H985.5V1081.3H954.2ZM1107.8 1065.4H1123.7V1081.3H1107.8ZM109.4 1080.7H186.8V1096.7H109.4ZM431.9 1080.7H478.6V1096.7H431.9ZM862.0 1080.7H878.0V1096.7H862.0ZM101.7 1096.1H186.8V1112.0H101.7ZM263.0 1096.1H325.0V1112.0H263.0ZM493.4 1096.1H509.3V1112.0H493.4ZM693.1 1096.1H724.4V1112.0H693.1ZM1123.1 1096.1H1154.5V1112.0H1123.1ZM101.7 1111.4H140.7V1127.4H101.7ZM247.6 1111.4H355.7V1127.4H247.6ZM616.3 1111.4H662.9V1127.4H616.3ZM723.8 1111.4H739.7V1127.4H723.8ZM1123.1 1111.4H1169.8V1127.4H1123.1ZM101.7 1126.8H140.7V1142.7H101.7ZM232.3 1126.8H263.6V1142.7H232.3ZM324.4 1126.8H371.1V1142.7H324.4ZM631.6 1126.8H693.7V1142.7H631.6ZM708.4 1126.8H770.5V1142.7H708.4ZM1138.5 1126.8H1154.5V1142.7H1138.5ZM101.7 1142.1H125.3V1158.1H101.7ZM232.3 1142.1H278.9V1158.1H232.3ZM355.1 1142.1H386.5V1158.1H355.1ZM662.3 1142.1H785.8V1158.1H662.3ZM954.2 1142.1H970.1V1158.1H954.2ZM1138.5 1142.1H1154.5V1158.1H1138.5ZM101.7 1157.5H140.7V1173.4H101.7ZM216.9 1157.5H278.9V1173.4H216.9ZM355.1 1157.5H401.8V1173.4H355.1ZM647.0 1157.5H785.8V1173.4H647.0ZM954.2 1157.5H970.1V1173.4H954.2ZM101.7 1172.8H140.7V1188.8H101.7ZM201.5 1172.8H294.3V1188.8H201.5ZM355.1 1172.8H401.8V1188.8H355.1ZM647.0 1172.8H724.4V1188.8H647.0ZM754.5 1172.8H785.8V1188.8H754.5ZM1123.1 1172.8H1139.1V1188.8H1123.1ZM101.7 1188.2H110.0V1204.1H101.7ZM186.2 1188.2H325.0V1204.1H186.2ZM339.8 1188.2H417.2V1204.1H339.8ZM631.6 1188.2H785.8V1204.1H631.6ZM1123.1 1188.2H1154.5V1204.1H1123.1ZM101.7 1203.5H110.0V1219.5H101.7ZM186.2 1203.5H386.5V1219.5H186.2ZM401.2 1203.5H432.5V1219.5H401.2ZM616.3 1203.5H785.8V1219.5H616.3ZM892.7 1203.5H908.7V1219.5H892.7ZM1107.8 1203.5H1169.8V1219.5H1107.8ZM101.7 1218.9H110.0V1234.8H101.7ZM186.2 1218.9H217.5V1234.8H186.2ZM247.6 1218.9H371.1V1234.8H247.6ZM401.2 1218.9H432.5V1234.8H401.2ZM493.4 1218.9H509.3V1234.8H493.4ZM647.0 1218.9H785.8V1234.8H647.0ZM892.7 1218.9H908.7V1234.8H892.7ZM1107.8 1218.9H1154.5V1234.8H1107.8ZM1307.5 1218.9H1323.4V1234.8H1307.5ZM101.7 1234.2H110.0V1250.2H101.7ZM140.1 1234.2H217.5V1250.2H140.1ZM247.6 1234.2H371.1V1250.2H247.6ZM416.6 1234.2H447.9V1250.2H416.6ZM662.3 1234.2H785.8V1250.2H662.3ZM1107.8 1234.2H1154.5V1250.2H1107.8ZM1307.5 1234.2H1323.4V1250.2H1307.5ZM101.7 1249.6H232.9V1265.5H101.7ZM247.6 1249.6H340.4V1265.5H247.6ZM431.9 1249.6H509.3V1265.5H431.9ZM677.7 1249.6H785.8V1265.5H677.7ZM862.0 1249.6H878.0V1265.5H862.0ZM892.7 1249.6H954.8V1265.5H892.7ZM1107.8 1249.6H1169.8V1265.5H1107.8ZM124.7 1264.9H278.9V1280.9H124.7ZM309.1 1264.9H340.4V1280.9H309.1ZM431.9 1264.9H509.3V1280.9H431.9ZM662.3 1264.9H785.8V1280.9H662.3ZM846.7 1264.9H878.0V1280.9H846.7ZM892.7 1264.9H970.1V1280.9H892.7ZM1107.8 1264.9H1200.5V1280.9H1107.8ZM101.7 1280.3H248.2V1296.2H101.7ZM416.6 1280.3H524.7V1296.2H416.6ZM662.3 1280.3H770.5V1296.2H662.3ZM908.1 1280.3H970.1V1296.2H908.1ZM1138.5 1280.3H1200.5V1296.2H1138.5ZM124.7 1295.6H248.2V1311.6H124.7ZM401.2 1295.6H540.1V1311.6H401.2ZM631.6 1295.6H739.7V1311.6H631.6ZM846.7 1295.6H862.6V1311.6H846.7ZM908.1 1295.6H939.4V1311.6H908.1ZM1169.2 1295.6H1200.5V1311.6H1169.2ZM401.2 1311.0H724.4V1326.9H401.2ZM831.3 1311.0H847.3V1326.9H831.3ZM1153.9 1311.0H1215.9V1326.9H1153.9ZM339.8 1326.3H693.7V1342.3H339.8ZM815.9 1326.3H847.3V1342.3H815.9ZM1153.9 1326.3H1215.9V1342.3H1153.9ZM339.8 1341.7H355.7V1357.6H339.8ZM416.6 1341.7H647.6V1357.6H416.6ZM815.9 1341.7H847.3V1357.6H815.9ZM1138.5 1341.7H1231.3V1357.6H1138.5ZM339.8 1357.0H355.7V1365.3H339.8ZM431.9 1357.0H524.7V1365.3H431.9ZM539.5 1357.0H647.6V1365.3H539.5ZM815.9 1357.0H847.3V1365.3H815.9ZM1138.5 1357.0H1231.3V1365.3H1138.5Z"/>
</g>
<path d="M409.2 137V1365M716.4 137V1365M1023.6 137V1365M1330.8 137V1365M102 1211.5H1638M102 1058.0H1638M102 904.5H1638M102 751.0H1638M102 597.5H1638M102 444.0H1638M102 290.5H1638" stroke="#b0b0b0" stroke-opacity="0.55" stroke-width="1.2" stroke-dasharray="5.5 2.5" fill="none"/>
<mask id="lblmask" maskUnits="userSpaceOnUse" x="0" y="0" width="1980" height="1440"><rect x="0" y="0" width="1980" height="1440" fill="#fff"/><rect transform="translate(133,197) rotate(-65)" x="-11.6" y="-9" width="23.2" height="18" fill="#000"/><rect transform="translate(155,197) rotate(-65)" x="-17.4" y="-9" width="34.9" height="18" fill="#000"/><rect transform="translate(175,197) rotate(-75)" x="-17.4" y="-9" width="34.9" height="18" fill="#000"/><rect transform="translate(122,298) rotate(60)" x="-17.4" y="-9" width="34.9" height="18" fill="#000"/><rect transform="translate(388,292) rotate(35)" x="-17.4" y="-9" width="34.9" height="18" fill="#000"/><rect transform="translate(107,427) rotate(90)" x="-17.4" y="-9" width="34.9" height="18" fill="#000"/><rect transform="translate(596,402) rotate(5)" x="-17.4" y="-9" width="34.9" height="18" fill="#000"/><rect transform="translate(625,434) rotate(0)" x="-17.4" y="-9" width="34.9" height="18" fill="#000"/><rect transform="translate(760,351) rotate(0)" x="-17.4" y="-9" width="34.9" height="18" fill="#000"/><rect transform="translate(997,320) rotate(-25)" x="-17.4" y="-9" width="34.9" height="18" fill="#000"/><rect transform="translate(1048,318) rotate(-35)" x="-17.4" y="-9" width="34.9" height="18" fill="#000"/><rect transform="translate(993,373) rotate(-25)" x="-17.4" y="-9" width="34.9" height="18" fill="#000"/><rect transform="translate(810,445) rotate(-20)" x="-17.4" y="-9" width="34.9" height="18" fill="#000"/><rect transform="translate(705,482) rotate(0)" x="-11.6" y="-9" width="23.2" height="18" fill="#000"/><rect transform="translate(272,528) rotate(5)" x="-11.6" y="-9" width="23.2" height="18" fill="#000"/><rect transform="translate(257,551) rotate(15)" x="-11.6" y="-9" width="23.2" height="18" fill="#000"/><rect transform="translate(532,569) rotate(-5)" x="-11.6" y="-9" width="23.2" height="18" fill="#000"/><rect transform="translate(1593,175) rotate(30)" x="-17.4" y="-9" width="34.9" height="18" fill="#000"/><rect transform="translate(1577,260) rotate(45)" x="-17.4" y="-9" width="34.9" height="18" fill="#000"/><rect transform="translate(793,549) rotate(-30)" x="-8.3" y="-9" width="16.6" height="18" fill="#000"/><rect transform="translate(409,631) rotate(-10)" x="-8.3" y="-9" width="16.6" height="18" fill="#000"/><rect transform="translate(656,644) rotate(-10)" x="-8.3" y="-9" width="16.6" height="18" fill="#000"/><rect transform="translate(563,688) rotate(-20)" x="-8.3" y="-9" width="16.6" height="18" fill="#000"/><rect transform="translate(687,748) rotate(5)" x="-14.1" y="-9" width="28.3" height="18" fill="#000"/><rect transform="translate(732,785) rotate(-20)" x="-14.1" y="-9" width="28.3" height="18" fill="#000"/><rect transform="translate(825,800) rotate(-80)" x="-8.3" y="-9" width="16.6" height="18" fill="#000"/><rect transform="translate(923,768) rotate(-80)" x="-8.3" y="-9" width="16.6" height="18" fill="#000"/><rect transform="translate(117,648) rotate(-60)" x="-8.3" y="-9" width="16.6" height="18" fill="#000"/><rect transform="translate(122,710) rotate(60)" x="-11.6" y="-9" width="23.2" height="18" fill="#000"/><rect transform="translate(155,843) rotate(-65)" x="-14.1" y="-9" width="28.3" height="18" fill="#000"/><rect transform="translate(195,812) rotate(-60)" x="-8.3" y="-9" width="16.6" height="18" fill="#000"/><rect transform="translate(333,835) rotate(0)" x="-8.3" y="-9" width="16.6" height="18" fill="#000"/><rect transform="translate(377,800) rotate(60)" x="-8.3" y="-9" width="16.6" height="18" fill="#000"/><rect transform="translate(395,865) rotate(-10)" x="-8.3" y="-9" width="16.6" height="18" fill="#000"/><rect transform="translate(455,885) rotate(80)" x="-8.3" y="-9" width="16.6" height="18" fill="#000"/><rect transform="translate(303,890) rotate(60)" x="-14.1" y="-9" width="28.3" height="18" fill="#000"/><rect transform="translate(290,918) rotate(85)" x="-14.1" y="-9" width="28.3" height="18" fill="#000"/><rect transform="translate(225,965) rotate(0)" x="-14.1" y="-9" width="28.3" height="18" fill="#000"/><rect transform="translate(317,977) rotate(0)" x="-14.1" y="-9" width="28.3" height="18" fill="#000"/><rect transform="translate(395,1013) rotate(-20)" x="-14.1" y="-9" width="28.3" height="18" fill="#000"/><rect transform="translate(583,965) rotate(90)" x="-8.3" y="-9" width="16.6" height="18" fill="#000"/><rect transform="translate(712,875) rotate(-50)" x="-14.1" y="-9" width="28.3" height="18" fill="#000"/><rect transform="translate(163,1068) rotate(25)" x="-14.1" y="-9" width="28.3" height="18" fill="#000"/><rect transform="translate(223,1157) rotate(-50)" x="-14.1" y="-9" width="28.3" height="18" fill="#000"/><rect transform="translate(348,1177) rotate(-70)" x="-14.1" y="-9" width="28.3" height="18" fill="#000"/><rect transform="translate(240,1223) rotate(30)" x="-14.1" y="-9" width="28.3" height="18" fill="#000"/><rect transform="translate(150,1318) rotate(-10)" x="-14.1" y="-9" width="28.3" height="18" fill="#000"/><rect transform="translate(393,1337) rotate(0)" x="-14.1" y="-9" width="28.3" height="18" fill="#000"/><rect transform="translate(547,1137) rotate(15)" x="-14.1" y="-9" width="28.3" height="18" fill="#000"/><rect transform="translate(683,1347) rotate(-35)" x="-14.1" y="-9" width="28.3" height="18" fill="#000"/><rect transform="translate(948,970) rotate(10)" x="-14.1" y="-9" width="28.3" height="18" fill="#000"/><rect transform="translate(793,995) rotate(-20)" x="-14.1" y="-9" width="28.3" height="18" fill="#000"/><rect transform="translate(910,1040) rotate(50)" x="-14.1" y="-9" width="28.3" height="18" fill="#000"/><rect transform="translate(977,1078) rotate(-15)" x="-14.1" y="-9" width="28.3" height="18" fill="#000"/><rect transform="translate(1073,1027) rotate(60)" x="-8.3" y="-9" width="16.6" height="18" fill="#000"/><rect transform="translate(1130,1057) rotate(60)" x="-8.3" y="-9" width="16.6" height="18" fill="#000"/><rect transform="translate(1345,1004) rotate(-15)" x="-8.3" y="-9" width="16.6" height="18" fill="#000"/><rect transform="translate(1103,1070) rotate(40)" x="-14.1" y="-9" width="28.3" height="18" fill="#000"/><rect transform="translate(840,1147) rotate(0)" x="-8.3" y="-9" width="16.6" height="18" fill="#000"/><rect transform="translate(917,1165) rotate(0)" x="-8.3" y="-9" width="16.6" height="18" fill="#000"/><rect transform="translate(807,1183) rotate(75)" x="-14.1" y="-9" width="28.3" height="18" fill="#000"/><rect transform="translate(840,1215) rotate(0)" x="-8.3" y="-9" width="16.6" height="18" fill="#000"/><rect transform="translate(825,1252) rotate(25)" x="-14.1" y="-9" width="28.3" height="18" fill="#000"/><rect transform="translate(953,1120) rotate(60)" x="-8.3" y="-9" width="16.6" height="18" fill="#000"/><rect transform="translate(1015,1243) rotate(-55)" x="-14.1" y="-9" width="28.3" height="18" fill="#000"/><rect transform="translate(1148,1188) rotate(45)" x="-14.1" y="-9" width="28.3" height="18" fill="#000"/><rect transform="translate(1317,1089) rotate(-20)" x="-8.3" y="-9" width="16.6" height="18" fill="#000"/><rect transform="translate(1313,1180) rotate(70)" x="-8.3" y="-9" width="16.6" height="18" fill="#000"/><rect transform="translate(1305,1273) rotate(25)" x="-14.1" y="-9" width="28.3" height="18" fill="#000"/><rect transform="translate(1471,1133) rotate(25)" x="-14.1" y="-9" width="28.3" height="18" fill="#000"/><rect transform="translate(1513,1227) rotate(80)" x="-8.3" y="-9" width="16.6" height="18" fill="#000"/><rect transform="translate(1425,1253) rotate(70)" x="-8.3" y="-9" width="16.6" height="18" fill="#000"/><rect transform="translate(1577,1295) rotate(0)" x="-8.3" y="-9" width="16.6" height="18" fill="#000"/><rect transform="translate(800,1318) rotate(-15)" x="-14.1" y="-9" width="28.3" height="18" fill="#000"/><rect transform="translate(808,1347) rotate(0)" x="-14.1" y="-9" width="28.3" height="18" fill="#000"/><rect transform="translate(967,1352) rotate(-40)" x="-14.1" y="-9" width="28.3" height="18" fill="#000"/><rect transform="translate(1162,1347) rotate(-50)" x="-14.1" y="-9" width="28.3" height="18" fill="#000"/><rect transform="translate(1355,1318) rotate(25)" x="-14.1" y="-9" width="28.3" height="18" fill="#000"/><rect transform="translate(1560,1353) rotate(0)" x="-8.3" y="-9" width="16.6" height="18" fill="#000"/><rect transform="translate(267,840) rotate(0)" x="-8.3" y="-9" width="16.6" height="18" fill="#000"/><rect transform="translate(1450,1158) rotate(30)" x="-8.3" y="-9" width="16.6" height="18" fill="#000"/><rect transform="translate(1468,1182) rotate(-10)" x="-8.3" y="-9" width="16.6" height="18" fill="#000"/></mask><g mask="url(#lblmask)">
<defs><clipPath id="c0"><rect x="102.0" y="137.0" width="328.0" height="213.0"/></clipPath><clipPath id="c1"><rect x="102.0" y="350.0" width="328.0" height="220.0"/></clipPath><clipPath id="c2"><rect x="430.0" y="350.0" width="330.0" height="220.0"/></clipPath><clipPath id="c3"><rect x="102.0" y="570.0" width="328.0" height="130.0"/></clipPath><clipPath id="c4"><rect x="430.0" y="570.0" width="330.0" height="220.0"/></clipPath><clipPath id="c5"><rect x="430.0" y="137.0" width="330.0" height="213.0"/></clipPath><clipPath id="c6"><rect x="760.0" y="137.0" width="660.0" height="473.0"/></clipPath><clipPath id="c7"><rect x="1420.0" y="137.0" width="218.0" height="473.0"/></clipPath><clipPath id="c8"><rect x="760.0" y="610.0" width="660.0" height="480.0"/></clipPath><clipPath id="c9"><rect x="1420.0" y="610.0" width="218.0" height="480.0"/></clipPath><clipPath id="c10"><rect x="102.0" y="700.0" width="328.0" height="240.0"/></clipPath><clipPath id="c11"><rect x="102.0" y="940.0" width="658.0" height="425.0"/></clipPath><clipPath id="c12"><rect x="430.0" y="790.0" width="330.0" height="230.0"/></clipPath><clipPath id="c13"><rect x="430.0" y="1020.0" width="330.0" height="220.0"/></clipPath><clipPath id="c14"><rect x="760.0" y="1090.0" width="270.0" height="210.0"/></clipPath><clipPath id="c15"><rect x="1030.0" y="1090.0" width="300.0" height="210.0"/></clipPath><clipPath id="c16"><rect x="1330.0" y="1090.0" width="308.0" height="210.0"/></clipPath><clipPath id="c17"><rect x="430.0" y="1240.0" width="330.0" height="125.0"/></clipPath><clipPath id="c18"><rect x="760.0" y="1300.0" width="330.0" height="65.0"/></clipPath><clipPath id="c19"><rect x="1090.0" y="1300.0" width="548.0" height="65.0"/></clipPath></defs>
<g clip-path="url(#c0)"><path class="cd" d="M200.0 137.5L216.7 157.5L233.3 171.7L250.0 185.0L266.7 200.0L283.3 208.3L308.3 220.8L325.0 231.7L350.0 239.2L383.3 244.7L400.0 256.7L412.5 271.7L419.2 290.0L430.0 300.0M186.7 137.5L200.0 155.0L216.7 173.3L233.3 190.0L248.3 205.0L263.3 216.7L293.3 230.0L310.0 245.0L340.0 261.7L350.0 271.7L366.7 273.3L383.3 285.0L401.7 298.3L408.3 313.3L416.7 326.7L430.0 335.0M171.7 137.5L186.7 151.7L201.7 168.3L217.5 185.0L232.8 200.0L246.7 210.0L248.3 230.0L256.7 238.3L261.7 255.0L263.3 280.0L264.2 291.7L250.0 303.3L253.3 310.0L266.7 315.0L283.3 321.7L308.3 326.7L333.3 328.3L358.3 330.0L375.0 338.3L391.7 346.7L405.0 360.0L411.7 370.0M140.8 137.5L156.7 146.7L171.7 155.0L186.7 168.3L201.7 181.7L216.7 196.7L219.2 216.7L216.7 230.0L203.3 240.0L200.8 250.0L206.7 263.3L200.0 280.0L198.3 293.3L203.3 303.3L216.7 313.3L233.3 325.0L250.0 331.7L266.7 340.0L291.7 351.7L316.7 361.7L333.3 370.0M110.0 137.5L125.0 145.0L156.7 160.0L171.7 175.0L186.7 185.0L200.0 196.7L196.7 205.0L186.7 213.3L171.7 225.0L166.7 243.3L156.7 260.0L141.7 268.3L126.7 273.3L120.0 280.0L121.7 298.3L133.3 321.7L138.3 338.3L140.8 351.7L133.3 361.7L120.0 363.3L101.7 351.7M150.0 370.0L156.7 361.7L170.0 360.0L200.0 361.7L216.7 370.0M101.7 145.8L116.7 148.3L133.3 153.3L150.0 161.7L166.7 171.7L178.3 181.7L176.7 196.7L166.7 213.3L155.0 220.8L146.7 228.3L141.7 241.7L138.3 250.0L125.0 255.0L110.0 259.2L101.7 263.3M101.7 157.5L116.7 160.8L133.3 165.8L148.3 174.2L158.3 184.2L155.0 200.0L145.0 211.7L131.7 216.7L128.3 226.7L125.0 236.7L121.7 245.0L110.0 246.7L101.7 248.3M101.7 170.0L116.7 170.8L133.3 176.7L150.0 183.3L141.7 196.7L133.3 205.0L110.0 206.7L101.7 208.3M101.7 178.3L116.7 181.7L118.3 190.0L110.0 203.3L101.7 205.0M233.3 137.5L250.0 153.3L266.7 166.7L291.7 185.0L308.3 200.0L333.3 213.3L358.3 225.0L383.3 233.3L408.3 241.7L430.0 251.7"/></g>
<g clip-path="url(#c1)"><path class="cd" d="M373.3 341.7L383.3 343.3L400.0 353.3L408.3 368.3L416.7 373.3L430.0 376.7M268.3 341.7L283.3 348.3L300.0 356.7L316.7 363.3L333.3 367.5L346.7 365.0L360.0 368.3L375.0 375.0L390.0 385.0L408.3 393.3L430.0 403.3M101.7 390.0L110.0 395.0L120.0 406.7L125.0 420.0L125.0 436.7L118.3 448.3L101.7 451.7M101.7 406.7L110.0 406.7L110.0 421.7L101.7 421.7M139.2 341.7L140.8 351.7L133.3 360.0L121.7 365.0L110.0 358.3L101.7 353.3M101.7 484.2L116.7 478.3L128.3 470.0L141.7 456.7L145.0 446.7L138.3 438.3L130.0 430.0L133.3 421.7L143.3 410.0L153.3 398.3L153.3 383.3L151.7 370.0L158.3 361.7L170.0 360.0L183.3 361.7L200.0 365.0L213.3 370.0L223.3 380.0L233.3 388.3L250.0 395.0L266.7 398.3L283.3 403.3L300.0 408.3L316.7 413.3L333.3 415.8L350.0 416.7L366.7 420.0L383.3 425.0L400.0 428.3L416.7 430.8L430.0 432.5M101.7 525.0L116.7 518.3L130.0 511.7L135.0 506.7L133.3 500.0L129.2 495.0L130.0 488.3L138.3 480.0L150.0 473.3L166.7 468.3L183.3 465.0L203.3 460.0L215.0 450.0L221.7 441.7L233.3 438.3L250.0 438.3L263.3 441.7L271.7 446.7L278.3 440.0L280.0 430.0L288.3 425.8L316.7 428.3L350.0 433.3L383.3 438.3L400.0 441.7L416.7 446.7L430.0 448.3M101.7 554.2L110.0 550.0L125.0 540.0L133.3 531.7L141.7 523.3L141.7 511.7L145.0 500.0L155.0 491.7L166.7 488.3L183.3 488.3L200.0 485.0L216.7 486.7L233.3 491.7L246.7 491.7L255.0 486.7L263.3 493.3L271.7 500.0L280.0 493.3L288.3 481.7L303.3 476.7L308.3 466.7L315.0 456.7L333.3 455.8L350.0 455.0L366.7 456.7L383.3 460.0L400.0 463.3L416.7 468.3L430.0 473.3M133.3 580.0L144.5 571.2L147.8 563.3L141.2 553.3L140.0 544.5L141.2 533.3L146.7 522.2L155.5 514.5L166.7 510.0L180.0 510.0L200.0 505.0L216.7 506.7L233.3 508.3L250.0 511.7L266.7 515.0L283.3 510.0L300.0 516.7L316.7 521.7L330.0 516.7L340.0 508.3L346.7 496.7L355.0 490.0L366.7 490.8L383.3 496.7L400.0 501.7L416.7 510.0L430.0 511.7M161.7 580.0L162.2 575.5L163.3 564.5L158.8 557.8L154.5 547.8L153.3 537.8L158.8 527.8L166.7 521.2L177.8 517.8L190.0 518.3L200.0 519.2L216.7 521.7L233.3 525.0L253.3 528.3L271.7 533.3L290.0 538.3L300.0 540.0L313.3 544.2L330.0 546.7L341.7 541.7L356.7 533.3L370.0 528.3L383.3 526.7L400.0 530.0L416.7 533.3L430.0 535.0M172.2 580.0L176.7 574.5L180.0 568.8L177.8 562.2L171.2 552.2L164.5 543.3L162.2 536.7L166.7 533.3L177.8 532.2L186.7 531.7L200.0 533.3L216.7 536.7L238.3 541.7L256.7 548.3L275.0 554.2L300.0 556.7L316.7 560.0L333.3 563.3L350.0 568.3L366.7 571.7L383.3 576.7L400.0 573.3L416.7 565.0L430.0 565.0M182.2 580.0L187.8 571.7L190.0 561.7L193.3 556.7L200.0 551.7L208.3 548.3L215.0 550.0L221.7 560.0L233.3 570.0L250.0 571.7L266.7 576.7L283.3 580.0M133.3 371.7L141.7 378.3L141.7 388.3L135.0 398.3L130.0 391.7L129.2 380.0L133.3 371.7Z"/></g>
<g clip-path="url(#c2)"><path class="cs" d="M566.7 580.0L580.0 571.7L596.7 561.7L613.3 551.7L630.0 544.2L646.7 539.2L663.3 537.5L680.0 540.0L696.7 543.3L713.3 545.0L730.0 545.0L746.7 544.2L760.0 542.5M606.7 580.0L610.0 570.0L621.7 565.0L630.0 556.7L638.3 551.7L651.7 551.7L660.0 556.7L671.7 562.5L688.3 560.0L705.0 560.0L721.7 563.3L738.3 571.7L746.7 580.0"/><path class="cd" d="M493.3 341.7L510.0 352.5L530.0 360.0L546.7 365.0L571.7 369.2L596.7 371.7L621.7 373.3L646.7 374.2L680.0 372.5L705.0 370.8L730.0 369.2L760.0 367.5M431.7 355.0L446.7 361.7L471.7 369.2L496.7 375.0L521.7 380.8L546.7 385.0L571.7 388.3L596.7 390.0L621.7 390.8L646.7 390.0L671.7 388.3L696.7 385.8L721.7 382.5L738.3 380.0L760.0 379.2M431.7 379.2L446.7 384.2L471.7 389.2L496.7 393.3L521.7 396.7L546.7 398.3L568.3 399.2L594.2 402.5L620.0 405.0L646.7 404.2L671.7 402.5L690.0 398.3L705.0 396.7L730.0 396.7L760.0 397.5M431.7 403.3L455.0 406.7L480.0 411.7L505.0 415.0L530.0 418.3L555.0 420.0L580.0 421.7L605.0 421.7L630.0 420.8L655.0 420.0L671.7 419.2L688.3 417.5L705.0 414.2L721.7 412.5L738.3 412.5L760.0 414.2M431.7 432.5L446.7 435.8L480.0 435.8L513.3 435.0L546.7 436.7L571.7 436.7L596.7 436.7L624.2 435.8L651.7 437.5L671.7 438.3L688.3 438.3L700.0 435.8L721.7 434.2L738.3 435.0L760.0 437.5M431.7 453.3L455.0 455.8L480.0 455.8L505.0 454.2L530.0 451.7L555.0 450.0L580.0 449.2L596.7 449.2L613.3 450.8L630.0 454.2L643.3 456.7L653.3 464.2L671.7 466.7L685.0 464.2L696.7 455.0L713.3 451.7L738.3 450.0L760.0 449.2M431.7 471.7L450.0 477.5L471.7 478.3L496.7 475.8L513.3 471.7L538.3 467.5L563.3 464.2L580.0 463.3L593.3 466.7L605.0 473.3L621.7 480.0L643.3 482.5L663.3 481.7L680.0 478.3L696.7 471.7L713.3 466.7L738.3 464.2L760.0 463.3M431.7 513.3L450.0 517.5L471.7 520.0L488.3 516.7L505.0 513.3L521.7 508.3L533.3 500.0L543.3 493.3L551.7 490.8L571.7 493.3L596.7 495.8L621.7 496.7L646.7 495.0L671.7 490.8L686.7 486.7L705.0 482.5L721.7 480.0L738.3 475.8L760.0 473.3M431.7 533.3L446.7 537.5L471.7 539.2L496.7 537.5L513.3 533.3L530.0 527.5L546.7 521.7L563.3 516.7L580.0 514.2L596.7 513.3L613.3 514.2L630.0 513.3L646.7 510.8L663.3 506.7L680.0 500.8L696.7 497.5L713.3 495.8L730.0 495.0L746.7 490.8L760.0 488.3M431.7 566.7L455.0 567.5L471.7 563.3L488.3 556.7L505.0 549.2L521.7 541.7L538.3 535.0L555.0 530.0L571.7 525.8L588.3 523.3L613.3 522.5L630.0 520.8L646.7 518.3L663.3 514.2L680.0 511.7L696.7 510.8L713.3 511.7L730.0 512.5L746.7 511.7L760.0 510.0M496.7 580.0L513.3 573.3L531.7 570.0L553.3 566.7L563.3 561.7L580.0 555.0L596.7 546.7L613.3 540.0L630.0 535.0L646.7 530.0L663.3 527.5L680.0 526.7L696.7 528.3L713.3 530.0L738.3 530.0L760.0 527.5M535.0 341.7L546.7 346.7L563.3 351.7L580.0 354.2L605.0 355.8L630.0 356.7L663.3 356.7L696.7 355.8L721.7 354.2L738.3 352.5L760.0 350.3"/></g>
<g clip-path="url(#c3)"><path class="cs" d="M96.7 605.0L110.0 605.0L117.5 616.7L123.3 635.0L120.0 651.7L110.0 663.3L96.7 666.7M96.7 606.7L110.0 606.7L115.0 618.3L116.7 636.7L110.0 653.3L96.7 663.3M96.7 636.7L109.2 636.7L109.2 650.8L96.7 650.8M266.7 803.3L258.3 798.3L241.7 793.3L230.0 788.3L223.3 775.0L216.7 756.7L213.3 738.3L216.7 723.3L218.3 706.7L226.7 688.3L233.3 675.0L231.7 660.0L228.3 643.3L233.3 630.0L241.7 623.3L256.7 621.7L271.7 630.0L291.7 625.8L316.7 625.8L333.3 631.7L350.0 628.3L366.7 623.3L391.7 620.0L416.7 615.0L433.3 609.2M233.3 803.3L226.7 781.7L221.7 766.7L233.3 755.0L236.7 745.0L240.0 733.3L248.3 720.0L243.3 705.0L246.7 695.0L258.3 678.3L271.7 663.3L291.7 660.0L316.7 651.7L333.3 646.7L350.0 648.3L366.7 645.0L393.3 637.5L410.0 632.5L425.0 627.5L433.3 625.8M280.0 803.3L275.0 793.3L270.0 781.7L283.3 775.0L300.0 768.3L316.7 755.0L333.3 745.0L350.0 735.0L366.7 720.0L333.3 715.0L316.7 720.0L291.7 715.0L275.0 705.0L271.7 690.0L291.7 680.0L316.7 666.7L350.0 661.7L375.0 660.0L400.0 653.3L416.7 646.7L433.3 640.8M433.3 731.7L416.7 725.0L401.7 716.7L391.7 710.0L375.0 698.3L358.3 696.7L341.7 689.2L363.3 680.0L375.0 680.0L391.7 686.7L408.3 685.0L433.3 691.7"/><path class="cd" d="M96.7 619.2L106.7 617.5L116.7 615.0L125.0 608.3L136.7 600.0L131.7 588.3L133.3 581.7L141.7 576.7L150.0 568.3L148.3 556.7M96.7 630.0L110.0 628.3L115.0 625.0L121.7 620.0L133.3 611.7L148.3 601.7L158.3 590.0L163.3 573.3L163.3 556.7M96.7 631.7L116.7 626.7L125.0 633.3L133.3 640.0L150.0 633.3L163.3 621.7L170.0 601.7L173.3 576.7L173.3 556.7M96.7 705.0L116.7 715.8L133.3 725.0L150.0 734.2L166.7 743.3L183.3 751.7L193.3 755.8L206.7 753.3L200.0 735.0L198.3 720.0L196.7 706.7L200.0 690.0L208.3 676.7L213.3 660.0L211.7 648.3L203.3 646.7L193.3 650.0L183.3 660.0L175.0 665.0L170.0 660.0L169.2 643.3L171.7 626.7L175.0 610.0L178.3 593.3L183.3 576.7L188.3 556.7M433.3 580.8L408.3 591.7L383.3 600.0L358.3 601.7L333.3 595.0L308.3 590.0L291.7 581.7L275.0 570.0L250.0 571.7L233.3 570.0L225.0 556.7M433.3 562.5L400.0 573.3L383.3 576.7L358.3 556.7M96.7 603.3L110.0 603.3L120.0 615.0L128.3 635.0L125.0 653.3L113.3 666.7L96.7 670.0"/></g>
<g clip-path="url(#c4)"><path class="cs" d="M426.7 611.7L446.7 605.0L471.7 598.3L496.7 591.7L521.7 586.7L546.7 583.3L563.3 581.7L580.0 573.3L596.7 565.0L606.7 556.7M426.7 625.8L455.0 618.3L471.7 610.0L501.7 610.8L521.7 605.0L546.7 597.5L563.3 603.3L580.0 596.7L596.7 588.3L606.7 580.0L610.0 570.0L621.7 563.3L631.7 556.7M763.3 585.8L746.7 581.7L730.0 573.3L713.3 565.0L711.7 556.7M426.7 642.5L446.7 638.3L470.0 636.7L476.7 645.0L481.7 658.3L500.0 662.5L521.7 660.0L546.7 656.7L563.3 663.3L580.0 665.0L605.0 661.7L621.7 657.5L640.0 650.0L655.8 644.2L670.8 640.8L700.0 624.2L721.7 621.7L746.7 621.7L763.3 615.8M426.7 697.5L441.7 701.7L455.0 694.2L468.3 701.7L485.0 695.0L496.7 701.7L508.3 705.8L518.3 705.8L531.7 694.2L548.3 692.5L563.3 687.5L578.3 682.5L596.7 680.0L613.3 675.0L631.7 669.2L646.7 668.3L663.3 670.8L670.0 679.2L696.7 682.5L711.7 684.2L716.7 695.0L733.3 698.3L746.7 696.7L763.3 700.8M426.7 730.0L436.7 736.7L435.0 750.0L426.7 756.7M461.7 803.3L468.3 790.0L470.0 776.7L463.3 766.7L471.7 761.7L480.0 748.3L486.7 740.0L496.7 731.7L510.0 720.0L523.3 713.3L536.7 706.7L546.7 703.3L571.7 700.0L593.3 698.3L610.0 705.0L623.3 709.2L640.0 710.0L655.0 706.7L680.0 705.0L703.3 703.3L706.7 720.0L721.7 733.3L735.0 740.0L750.0 739.2L763.3 730.8M638.3 748.3L651.7 751.7L640.0 759.2L638.3 748.3ZM656.7 750.8L666.7 756.7L680.0 762.5L696.7 767.5L716.7 770.0L720.0 766.7L706.7 755.0L696.7 750.0L680.0 747.5L663.3 749.2L656.7 750.8ZM680.0 771.7L687.5 772.5L690.8 803.3L680.0 803.3L680.0 771.7ZM705.0 803.3L706.7 796.7L713.3 793.3L730.0 785.0L751.7 783.3L754.2 803.3M603.3 803.3L605.0 795.8L621.7 793.3L638.3 795.0L648.3 803.3M493.3 803.3L495.0 795.0L501.7 790.0L511.7 796.7L514.2 803.3"/><path class="cd" d="M426.7 566.7L446.7 567.5L460.0 563.3L468.3 556.7M426.7 593.3L446.7 583.3L463.3 580.0L480.0 581.7L496.7 578.3L513.3 574.2L531.7 569.2L553.3 566.7L565.0 556.7"/></g>
<g clip-path="url(#c5)"><path class="cd" d="M200.0 137.3L216.7 157.3L233.3 171.7L250.0 185.0L266.7 200.0L283.3 208.3L308.3 220.7L325.0 231.7L350.0 239.0L383.3 244.7L400.0 256.7L412.3 271.7L419.0 290.0L430.0 300.0L433.3 303.3L450.0 311.7L466.7 320.0L483.3 330.0L500.0 343.3L516.7 353.3L540.0 360.0L566.7 366.7L600.0 371.7L633.3 373.3L666.7 372.7L700.0 370.7L733.3 368.3L760.0 366.7M186.7 137.3L200.0 155.0L216.7 173.3L233.3 190.0L248.3 205.0L263.3 216.7L293.3 230.0L310.0 245.0L340.0 261.7L350.0 271.7L366.7 273.3L383.3 285.0L401.7 298.3L408.3 313.3L416.7 326.7L430.0 335.0L433.3 343.3L460.0 353.3L483.3 363.3L510.0 375.0L533.3 381.7L566.7 386.7L600.0 390.0L633.3 389.3L666.7 387.3L700.0 385.0L733.3 383.3L760.0 381.7M233.3 137.3L250.0 153.3L266.7 166.7L291.7 185.0L308.3 200.0L333.3 213.3L358.3 225.0L383.3 233.3L408.3 241.7L430.0 251.7L443.3 263.3L453.3 278.3L470.0 290.0L488.3 296.7L498.3 311.7L510.0 326.7L530.0 338.3L550.0 345.0L573.3 350.0L600.0 355.0"/></g>
<g clip-path="url(#c6)"><path class="cs" d="M760.0 542.3L780.0 538.3L793.3 541.7L813.3 551.7L836.7 555.0L856.7 566.7L870.0 573.3L886.7 570.0L903.3 556.7L923.3 550.0L933.3 545.0L950.0 551.7L956.7 566.7L966.7 576.7L976.7 590.0L993.3 596.7L1003.3 610.0M760.0 586.0L780.0 591.7L803.3 596.7L816.7 610.0M886.7 610.0L893.3 596.7L900.0 593.3L913.3 596.7L910.0 610.0"/><path class="cd" d="M760.0 366.7L793.3 365.0L826.7 363.3L860.0 360.0L893.3 358.3L920.0 351.7L931.0 349.0L952.3 337.7L974.3 326.7L996.7 319.0L1016.7 310.0L1024.3 304.3L1041.0 295.7L1063.3 283.3L1076.7 273.3L1103.3 253.3L1126.7 236.7L1153.3 220.0L1180.0 200.0L1203.3 180.0L1226.7 160.0L1240.0 137.3M760.0 381.7L793.3 380.0L826.7 383.3L853.3 388.3L876.7 383.3L886.7 376.7L920.0 368.3L931.0 362.3L952.3 352.3L974.3 342.3L996.7 331.0L1024.3 317.7L1041.0 307.7L1063.3 294.3L1085.7 282.3L1106.7 263.3L1133.3 246.7L1160.0 226.7L1186.7 206.7L1210.0 186.7L1230.0 166.7L1246.7 150.0L1256.7 137.3M760.0 396.7L793.3 403.3L826.7 405.0L860.0 398.3L893.3 390.0L920.0 380.0L931.0 374.3L952.3 363.3L974.3 352.3L996.7 341.0L1024.3 327.7L1041.0 317.7L1063.3 304.3L1085.7 292.3L1106.7 275.0L1133.3 256.7L1160.0 236.7L1186.7 216.7L1210.0 196.7L1233.3 176.7L1253.3 156.7L1266.7 137.3M760.0 416.7L793.3 420.0L826.7 418.3L860.0 410.0L893.3 400.0L920.0 390.0L931.0 383.3L952.3 373.3L974.3 362.3L996.7 351.0L1024.3 337.7L1041.0 327.7L1047.7 319.0L1069.0 304.3L1085.7 295.7L1107.7 284.3L1130.0 271.7L1153.3 255.0L1176.7 236.7L1200.0 216.7L1223.3 196.7L1243.3 176.7L1263.3 156.7L1276.7 137.3M760.0 436.7L793.3 435.0L826.7 428.3L860.0 420.0L893.3 410.0L920.0 400.0L931.0 392.3L952.3 382.3L974.3 371.0L996.7 361.0L1024.3 349.0L1041.0 340.0L1063.3 329.0L1085.7 317.7L1107.7 305.7L1130.0 293.3L1150.0 283.3L1170.0 268.3L1193.3 250.0L1216.7 230.0L1236.7 210.0L1256.7 186.7L1276.7 163.3L1293.3 137.3M760.0 449.3L793.3 446.7L826.7 440.0L860.0 431.7L893.3 420.0L920.0 410.0L931.0 401.0L952.3 391.0L974.3 380.0L1007.7 367.7L1024.3 360.0L1041.0 351.0L1063.3 340.0L1085.7 327.7L1107.7 315.7L1130.0 302.3L1150.0 291.0L1170.0 276.7L1193.3 260.0L1220.0 240.0L1240.0 220.0L1260.0 203.3L1280.0 195.0L1300.0 193.3L1313.3 201.7L1326.7 216.7L1343.3 220.0L1356.7 233.3L1370.0 230.0L1383.3 221.7L1403.3 216.7L1420.0 210.0M760.0 463.3L780.0 458.3L810.0 450.0L836.7 441.7L876.7 435.0L906.7 426.7L931.0 417.7L963.3 401.0L985.7 390.0L1007.7 380.0L1024.3 372.3L1041.0 364.3L1063.3 353.3L1085.7 342.3L1107.7 329.0L1130.0 316.7L1150.0 303.3L1170.0 293.3L1186.7 280.0L1203.3 270.0L1220.0 258.3L1240.0 258.3L1246.7 273.3L1260.0 286.7L1266.7 306.7L1280.0 305.0L1300.0 305.0L1316.7 310.0L1333.3 296.7L1346.7 291.7L1353.3 303.3L1350.0 336.7L1346.7 356.7L1333.3 376.7L1330.0 396.7L1343.3 386.7L1360.0 390.0L1373.3 406.7L1393.3 413.3L1390.0 433.3L1376.7 446.7L1393.3 463.3L1403.3 480.0L1393.3 500.0L1400.0 523.3L1420.0 540.0M760.0 475.0L793.3 465.0L826.7 458.3L860.0 450.0L893.3 441.7L920.0 431.7L931.0 426.7L952.3 416.7L974.3 407.7L996.7 399.0L1024.3 387.3L1041.0 380.0L1063.3 369.0L1085.7 356.7L1107.7 344.3L1130.0 335.7L1146.7 330.0L1160.0 338.3L1180.0 346.7L1193.3 358.3L1210.0 356.7L1226.7 366.7L1236.7 383.3L1250.0 406.7L1266.7 416.7L1276.7 430.0L1273.3 450.0L1280.0 470.0L1300.0 483.3L1310.0 503.3L1320.0 523.3L1326.7 543.3L1320.0 563.3L1326.7 583.3L1340.0 576.7L1350.0 570.0L1376.7 576.7L1383.3 596.7L1380.0 610.0M760.0 490.0L793.3 478.3L826.7 468.3L860.0 461.7L893.3 456.7L920.0 448.3L940.0 440.0L963.3 432.3L985.7 423.3L1007.7 415.7L1024.3 409.3L1041.0 400.0L1057.7 391.0L1074.3 383.3L1086.7 381.7L1100.0 396.7L1113.3 386.7L1133.3 393.3L1150.0 403.3L1163.3 413.3L1163.3 436.7L1161.7 463.3L1166.7 483.3L1163.3 503.3L1176.7 523.3L1186.7 540.0L1210.0 546.7L1233.3 553.3L1260.0 556.7L1273.3 563.3L1270.0 576.7L1260.0 586.7L1260.0 610.0M760.0 506.7L793.3 496.7L826.7 485.0L860.0 480.0L900.0 476.7L933.3 476.7L946.7 461.7L973.3 453.3L1006.7 446.7L1026.7 453.3L1043.3 446.7L1056.7 456.7L1070.0 438.3L1080.0 453.3L1086.7 468.3L1100.0 450.0L1110.0 460.0L1113.3 483.3L1126.7 496.7L1120.0 523.3L1126.7 543.3L1143.3 560.0L1153.3 576.7L1163.3 596.7L1173.3 610.0M760.0 526.7L793.3 523.3L806.7 510.0L823.3 500.0L840.0 515.0L860.0 508.3L880.0 505.0L900.0 516.7L916.7 505.0L940.0 500.0L973.3 498.3L993.3 488.3L1003.3 506.7L1016.7 530.0L1026.7 550.0L1036.7 566.7L1060.0 573.3L1080.0 580.0L1085.0 596.7L1083.3 610.0M760.0 350.7L786.7 350.0L826.7 345.0L870.0 339.3L900.0 341.7L920.0 341.7L931.0 335.7L952.3 326.7L974.3 316.7L996.7 304.3L1013.3 294.3L1024.3 286.7L1036.7 281.7L1060.0 270.0L1080.0 256.7L1103.3 236.7L1126.7 225.0L1153.3 206.7L1180.0 185.0L1200.0 166.7L1220.0 146.7L1226.7 137.3"/></g>
<g clip-path="url(#c7)"><path class="cd" d="M1558.3 137.3L1566.7 156.7L1576.7 168.3L1593.3 180.0L1613.3 191.7L1626.7 203.3L1645.0 216.7L1986.7 216.7M1506.7 137.3L1516.7 153.3L1521.7 166.7L1515.0 183.3L1516.7 196.7L1526.7 208.3L1546.7 213.3L1560.0 223.3L1568.3 240.0L1576.7 256.7L1596.7 268.3L1606.7 283.3L1616.7 300.0L1626.7 306.7L1645.0 298.3L1986.7 298.3M1320.0 206.7L1330.0 218.3L1343.3 218.3L1353.3 233.3L1366.7 233.3L1375.0 221.7L1396.7 218.3L1416.7 208.3L1425.0 208.3L1433.3 240.0L1450.0 251.7L1463.3 245.0L1473.3 241.7L1486.7 243.3L1483.3 263.3L1481.7 290.0L1466.7 301.7L1468.3 320.0L1478.3 340.0L1490.0 356.7L1495.0 368.3L1490.0 386.7L1476.7 400.0L1473.3 416.7L1463.3 430.0L1460.0 445.0L1470.0 451.7L1490.0 455.0L1496.7 473.3L1511.7 490.0L1533.3 488.3L1553.3 491.7L1576.7 493.3L1600.0 493.3L1610.0 476.7L1618.3 460.0L1610.0 448.3L1590.0 445.0L1603.3 441.7L1645.0 443.3L1986.7 443.3M1470.0 358.3L1478.3 368.3L1471.7 385.0L1465.0 376.7L1465.0 363.3L1470.0 358.3ZM1320.0 303.3L1340.0 290.0L1351.7 296.7L1353.3 320.0L1351.7 350.0L1340.0 363.3L1330.0 383.3L1331.7 398.3L1345.0 386.7L1360.0 393.3L1373.3 410.0L1391.7 413.3L1393.3 426.7L1376.7 446.7L1386.7 460.0L1403.3 476.7L1396.7 500.0L1400.0 523.3L1416.7 543.3L1428.3 550.0L1433.3 576.7L1453.3 586.7L1470.0 580.0L1476.7 563.3L1500.0 561.7L1523.3 566.7L1536.7 580.0L1548.3 583.3L1560.0 573.3L1573.3 560.0L1583.3 563.3L1570.0 583.3L1570.0 610.0"/></g>
<g clip-path="url(#c8)"><path class="cs" d="M1003.3 603.3L1013.3 616.7L1026.7 621.7L1040.0 650.0L1055.0 639.0L1060.0 648.3L1058.3 673.3L1071.7 690.0L1100.0 700.0L1113.3 716.7L1143.3 715.0L1176.7 730.0L1203.3 743.3L1223.3 753.3L1230.0 766.7L1253.3 780.0L1273.3 786.7L1293.3 800.0L1326.7 810.0L1346.7 820.0L1363.3 818.3L1383.3 833.3L1406.7 845.0L1426.7 843.3M910.0 603.3L913.3 620.0L923.3 631.7L943.3 640.0L960.0 651.7L976.7 660.0L993.3 668.3L1008.3 678.3L1025.0 671.7L1026.7 688.3L1043.3 710.0L1053.3 728.3L1071.7 733.3L1081.7 748.3L1110.0 766.7L1126.7 776.7L1136.7 783.3L1126.7 796.7L1148.3 818.3L1166.7 810.0L1193.3 823.3L1226.7 830.0L1253.3 840.0L1280.0 836.7L1288.3 850.0L1303.3 858.3L1306.7 874.0L1315.0 875.0L1331.7 862.3L1345.0 866.7L1361.7 875.7L1376.7 872.3L1390.0 876.7L1406.7 883.3L1426.7 893.3M1011.7 781.7L1025.0 775.0L1040.0 776.7L1035.0 780.0L1040.0 788.3L1025.0 788.3L1011.7 781.7ZM753.3 616.0L776.7 626.7L778.3 643.3L793.3 664.0L808.3 664.0L826.7 656.7L848.3 645.0L870.0 636.0L879.0 644.0L870.0 656.7L886.0 686.0L905.0 680.7L916.7 680.0L931.7 684.0L946.7 699.3L963.3 700.0L993.3 711.7L1001.7 723.3L1010.0 736.7L1008.3 751.7L1000.0 758.3L986.7 766.7L986.7 781.7L976.7 785.0L971.7 796.7L978.3 805.0L993.3 795.7L1005.0 803.3L1023.3 816.7L1040.0 811.7L1060.0 815.0L1076.7 818.3L1100.0 826.7L1120.0 836.7L1140.0 836.7L1145.0 850.0L1163.3 855.0L1176.7 853.3L1188.3 860.0L1182.3 873.3L1190.0 880.0L1206.7 886.7L1223.3 895.7L1240.0 903.3L1255.0 913.3L1271.7 916.7L1286.7 923.3L1300.7 929.0L1313.3 920.0L1330.0 919.0L1346.7 923.3L1361.7 917.3L1376.7 936.7L1373.3 950.0L1376.7 951.7L1391.7 944.0L1406.7 950.0L1426.7 960.0M753.3 700.0L778.3 705.0L793.3 698.3L808.3 692.3L823.3 693.3L842.3 705.0L835.7 720.0L853.3 736.7L852.3 753.3L876.7 743.3L901.7 729.0L918.3 727.3L935.0 728.3L963.3 735.0L956.7 748.3L955.0 760.0L955.0 790.0L940.0 793.3L941.7 800.0L946.7 810.0L966.7 813.3L980.0 824.0L993.3 836.7L1013.3 843.3L1036.7 856.7L1060.0 856.7L1076.7 866.7L1090.0 876.7L1100.0 893.3L1106.7 901.7L1123.3 911.7L1140.0 923.3L1154.0 935.0L1146.7 943.3L1145.0 951.7L1161.7 950.7L1176.7 945.7L1190.0 953.3L1206.7 955.7L1223.3 948.3L1233.3 950.0L1233.3 965.0L1240.0 971.7L1254.0 965.0L1269.0 974.0L1275.0 966.7L1285.0 963.3L1300.0 979.0L1315.0 981.7L1330.0 979.0L1346.7 993.3L1363.3 996.7L1380.0 998.3L1393.3 996.7L1406.7 1001.7L1426.7 1000.7M1339.0 1005.0L1354.0 1005.0L1354.0 1020.0L1339.0 1020.0L1339.0 1005.0ZM753.3 706.7L765.0 720.0L776.7 726.7L800.0 730.0L806.7 736.7L800.0 753.3L830.0 756.7L840.0 783.3L866.7 800.0L860.0 813.3L876.7 830.0L893.3 836.7L920.0 860.0L926.7 876.7L946.7 893.3L966.7 903.3L993.3 910.0L1010.0 920.0L1036.7 936.7L1056.7 943.3L1063.3 963.3L1080.0 973.3L1090.0 980.0L1076.7 996.7L1090.0 1003.3L1106.7 996.7L1115.0 996.7L1131.7 989.0L1156.7 986.7L1176.7 986.7L1190.0 993.3L1206.7 998.3L1223.3 996.7L1240.0 994.0L1246.7 998.3L1251.7 1013.3L1265.0 1020.0L1275.0 1026.7L1275.0 1033.3L1256.7 1040.0L1240.0 1037.3L1223.3 1041.7L1221.7 1045.0L1228.3 1060.0L1216.7 1068.3L1210.0 1076.7L1206.7 1096.7M1300.0 1096.7L1305.0 1080.0L1290.0 1071.7L1283.3 1061.7L1275.0 1063.3L1271.7 1055.7L1290.0 1053.3L1301.7 1052.3L1308.3 1060.0L1318.3 1065.0L1331.7 1066.7L1346.7 1065.7L1361.7 1053.3L1376.7 1063.3L1393.3 1075.0L1406.7 1065.0L1426.7 1061.7M888.3 766.7L918.3 752.7L928.3 751.7L926.7 776.7L916.7 785.0L903.3 786.7L888.3 781.7L888.3 766.7ZM803.3 806.7L810.0 810.0L831.7 808.3L826.7 818.3L810.0 818.3L803.3 806.7ZM1040.0 1026.7L1056.7 1008.3L1063.3 1010.0L1073.3 1023.3L1081.7 1040.0L1066.7 1045.0L1040.0 1026.7ZM753.3 826.7L780.0 826.7L783.3 843.3L773.3 858.3L776.7 865.0L793.3 863.3L808.3 856.7L813.3 873.3L823.3 876.7L840.0 870.0L843.3 875.0L836.7 888.3L826.7 898.3L814.0 904.0L820.0 921.7L817.3 935.0L824.0 938.3L840.0 929.0L855.0 930.0L863.3 936.7L873.3 950.0L885.0 955.0L901.7 955.7L926.7 960.7L948.3 968.3L968.3 973.3L993.3 986.7L1016.7 998.3L1030.0 1006.7L1030.0 1035.0L1016.7 1041.7L1016.7 1080.0L1010.0 1096.7M778.3 1010.7L771.7 1025.0L771.7 1041.7L778.3 1055.7L793.3 1051.7L802.3 1043.3L800.0 1030.0L808.3 1015.0L812.3 1000.0L800.0 993.3L786.7 996.7L778.3 1010.7ZM753.3 885.0L773.3 890.0L766.7 905.0L765.0 920.0L753.3 923.3M773.3 930.0L800.0 930.0L800.0 941.7L773.3 941.7L773.3 930.0ZM931.7 1023.3L948.3 1025.0L946.7 1043.3L933.3 1030.0L931.7 1023.3ZM1021.7 1096.7L1026.7 1071.7L1031.7 1058.3L1060.0 1051.7L1090.0 1055.0L1103.3 1056.7L1123.3 1065.0L1140.0 1070.0L1155.0 1073.3L1160.0 1096.7M845.0 1043.3L853.3 1026.7L870.0 1016.7L896.7 1020.0L916.7 1016.7L925.0 1028.3L920.0 1048.3L893.3 1050.0L880.0 1065.0L873.3 1096.7L866.7 1096.7L860.0 1071.7L851.7 1058.3L845.0 1043.3ZM946.7 1060.0L960.0 1041.7L968.3 1025.0L976.7 1015.0L993.3 1010.0L1010.0 1011.7L1015.0 1026.7L1001.7 1041.7L993.3 1066.7L990.0 1080.0L976.7 1086.7L968.3 1080.0L958.3 1070.0L946.7 1060.0ZM1025.0 1096.7L1029.3 1073.3L1034.0 1061.7L1060.0 1056.7L1090.0 1060.0L1106.7 1065.0L1123.3 1073.3L1131.7 1096.7M986.7 1020.0L1001.7 1020.0L1001.7 1035.0L986.7 1035.0L986.7 1020.0ZM1028.3 1096.7L1031.7 1075.0L1036.7 1065.0L1060.0 1060.7L1090.0 1064.0L1103.3 1070.0L1113.3 1076.7L1120.0 1096.7"/><path class="cd" d="M1403.3 603.3L1410.0 626.7L1426.7 633.3M1266.7 603.3L1270.0 626.7L1293.3 631.7L1320.0 640.0L1333.3 653.3L1346.7 666.7L1370.0 670.0L1393.3 676.7L1406.7 670.0L1426.7 670.0M1173.3 603.3L1183.3 630.0L1200.0 650.0L1210.0 658.3L1226.7 648.3L1260.0 653.3L1283.3 660.0L1300.0 676.7L1320.0 690.0L1326.7 700.0L1333.3 710.0L1340.0 723.3L1360.0 726.7L1386.7 723.3L1426.7 726.7M1083.3 603.3L1093.3 626.7L1100.0 643.3L1113.3 638.3L1126.7 641.7L1143.3 650.0L1160.0 663.3L1180.0 676.7L1186.7 690.0L1210.0 700.0L1226.7 713.3L1243.3 730.0L1266.7 740.0L1290.0 750.0L1306.7 766.7L1323.3 763.3L1346.7 760.0L1366.7 761.7L1373.3 776.7L1393.3 783.3L1426.7 785.0"/></g>
<g clip-path="url(#c9)"><path class="cs" d="M1313.3 805.0L1333.3 810.0L1346.7 818.3L1361.7 816.7L1376.7 828.3L1393.3 836.7L1408.3 845.0L1423.3 843.3L1440.0 850.0L1470.0 851.7L1485.0 848.3L1500.0 851.7L1516.7 850.0L1536.7 860.0L1546.7 863.3L1561.7 856.7L1571.7 858.3L1578.3 873.3L1591.7 885.0L1606.7 881.7L1615.0 890.0L1623.3 890.7L1638.3 888.3L1986.7 888.3M1313.3 870.0L1331.7 861.7L1346.7 866.7L1361.7 875.7L1376.7 873.3L1406.7 885.0L1423.3 895.7L1453.3 903.3L1470.0 897.3L1485.0 902.7L1500.0 901.7L1516.7 910.0L1546.7 916.7L1560.0 916.7L1576.7 912.3L1591.7 915.7L1606.7 922.3L1623.3 929.0L1638.3 926.7L1986.7 926.7M1313.3 920.0L1331.7 921.7L1346.7 924.0L1361.7 918.3L1375.0 935.0L1373.3 951.7L1378.3 951.7L1391.7 945.0L1406.7 950.0L1423.3 960.0L1438.3 960.0L1458.3 950.0L1466.7 935.0L1485.0 935.0L1503.3 934.0L1513.3 950.0L1523.3 958.3L1540.0 970.0L1561.7 979.0L1576.7 971.7L1593.3 971.7L1606.7 965.0L1621.7 966.7L1638.3 960.0L1986.7 960.0M1313.3 980.0L1331.7 979.0L1346.7 993.3L1361.7 996.7L1376.7 998.3L1391.7 996.7L1408.3 1002.3L1423.3 1000.7L1453.3 1005.0L1470.0 1005.0L1476.7 1013.3L1485.0 1016.7L1500.0 1010.0L1530.0 1003.3L1553.3 996.7L1576.7 998.3L1591.7 995.0L1606.7 995.0L1621.7 1003.3L1638.3 993.3L1986.7 993.3M1313.3 1065.0L1331.7 1065.0L1346.7 1061.7L1361.7 1053.3L1376.7 1063.3L1391.7 1075.0L1406.7 1063.3L1425.0 1063.3L1438.3 1053.3L1466.7 1043.3L1485.0 1041.7L1500.0 1043.3L1515.0 1035.0L1530.0 1031.7L1540.0 1043.3L1560.0 1051.7L1576.7 1041.7L1593.3 1043.3L1586.7 1076.7L1591.7 1080.0L1610.0 1065.0L1623.3 1055.0L1638.3 1046.7L1986.7 1046.7M1430.0 1096.7L1453.3 1083.3L1470.0 1080.0L1500.0 1071.7L1515.0 1068.3L1546.7 1071.7L1553.3 1081.7L1553.3 1096.7"/><path class="cd" d="M1570.0 603.3L1576.7 620.0L1603.3 621.7L1638.3 623.3L1986.7 623.3M1403.3 603.3L1406.7 626.7L1420.0 635.0L1436.7 636.7L1450.0 628.3L1460.0 616.7L1470.0 611.7L1483.3 616.7L1500.0 633.3L1513.3 621.7L1521.7 625.0L1526.7 645.0L1553.3 656.7L1580.0 666.7L1600.0 675.0L1606.7 690.0L1616.7 706.7L1638.3 710.0L1986.7 710.0M1313.3 650.0L1340.0 665.0L1363.3 671.7L1390.0 678.3L1406.7 670.0L1430.0 676.7L1456.7 681.7L1470.0 696.7L1480.0 708.3L1503.3 711.7L1526.7 710.0L1546.7 716.7L1563.3 720.0L1580.0 716.7L1586.7 736.7L1613.3 743.3L1638.3 748.3L1986.7 748.3M1313.3 688.3L1340.0 698.3L1365.0 705.0L1360.0 711.7L1340.0 713.3L1331.7 720.0L1346.7 728.3L1376.7 725.0L1410.0 726.7L1436.7 733.3L1460.0 738.3L1486.7 741.7L1503.3 751.7L1533.3 756.7L1560.0 758.3L1586.7 763.3L1610.0 766.7L1623.3 776.7L1638.3 781.7L1986.7 781.7M1313.3 763.3L1340.0 761.7L1360.0 765.0L1376.7 781.7L1403.3 785.0L1436.7 785.0L1470.0 783.3L1483.3 776.7L1500.0 776.7L1513.3 783.3L1510.0 800.0L1526.7 805.0L1550.0 810.0L1576.7 821.7L1603.3 815.0L1626.7 820.0L1638.3 830.0L1986.7 830.0"/></g>
<g clip-path="url(#c10)"><path class="cs" d="M96.7 711.7L103.5 716.2L110.3 720.8L117.2 725.3L124.6 728.9L131.9 732.6L139.3 736.3L146.6 740.0L154.0 743.6L161.3 747.3L168.7 751.0L176.0 754.7L183.4 758.3L190.7 762.0L198.1 765.7L196.5 771.6L191.7 778.3L189.1 786.1L186.6 793.9L185.7 802.0L185.4 810.2L187.2 818.2L189.7 826.0L193.3 833.3L203.3 826.7L216.7 831.7L226.7 834.2L231.7 826.7L229.2 813.3L223.3 800.0L216.7 780.0L220.0 770.0L216.7 755.0L213.3 741.7L215.0 716.7L218.3 696.7M96.7 715.2L103.2 720.1L109.8 725.0L116.5 729.5L124.0 732.7L131.3 735.3L138.6 738.2L145.9 742.0L153.1 745.9L160.3 749.8L167.6 753.7L174.8 757.6L181.9 761.5L187.7 765.7L193.4 769.9L192.2 776.1L188.3 783.0L186.3 790.8L184.5 798.7L183.8 806.8L183.0 814.8L185.2 822.6L188.2 830.0L192.4 836.9L206.7 833.3L216.7 838.3L223.3 845.0L233.3 846.7L245.0 845.0L253.3 841.7L251.7 826.7L248.3 813.3L251.7 806.7L256.7 796.7L245.0 792.5L233.3 790.0L228.3 785.0L223.3 765.0L235.0 748.3L238.3 733.3L249.2 720.0L245.0 696.7M266.7 826.7L276.7 830.0L286.7 836.7L290.0 843.3L256.7 843.3L265.0 833.3L266.7 826.7ZM96.7 718.8L102.9 724.0L109.2 729.1L115.8 733.8L123.4 736.4L130.7 738.0L138.0 740.1L145.1 744.1L152.2 748.2L159.4 752.3L166.4 756.4L173.5 760.5L180.4 764.6L184.6 769.4L188.8 774.1L187.9 780.6L185.0 787.7L183.6 795.6L182.4 803.4L181.9 811.5L180.6 819.3L183.1 827.1L186.8 834.0L191.4 840.5L200.0 846.7L216.7 848.3L233.3 851.7L250.0 850.0L266.7 848.3L283.3 850.0L291.7 846.7L300.0 841.7L300.0 828.3L281.7 808.3L276.7 796.7L270.0 781.7L283.3 775.0L300.0 768.3L316.7 755.0L333.3 745.0L350.0 735.0L366.7 720.0L333.3 715.0L316.7 720.0L291.7 715.0L275.0 705.0L271.7 696.7M96.7 722.4L102.7 727.9L108.6 733.3L115.0 738.0L122.8 740.1L130.1 740.7L137.3 741.9L144.4 746.2L151.4 750.5L158.4 754.7L165.3 759.1L172.3 763.4L179.0 767.8L181.6 773.1L184.2 778.3L183.6 785.1L181.6 792.4L180.8 800.3L180.3 808.2L179.9 816.2L178.2 823.9L181.1 831.5L185.4 838.0L190.5 844.0L200.0 850.0L216.7 851.7L233.3 855.0L250.0 853.3L266.7 850.0L283.3 853.3L300.0 861.7L316.7 850.0L330.0 850.0L350.0 860.0L360.0 866.7L366.7 880.0L375.0 900.0L391.7 898.3L416.7 890.0L433.3 886.7M300.0 808.3L316.7 783.3L333.3 770.0L348.3 750.0L363.3 758.3L393.3 751.7L426.7 760.0L433.3 756.7L433.3 883.3L425.0 888.3L408.3 866.7L405.0 841.7L400.0 830.0L391.7 825.0L380.0 826.7L366.7 838.3L350.0 831.7L333.3 825.0L300.0 808.3ZM433.3 731.7L416.7 725.0L401.7 716.7L391.7 710.0L375.0 696.7M96.7 726.0L102.4 731.7L108.1 737.5L114.3 742.3L122.2 743.8L129.5 743.4L136.7 743.8L143.6 748.3L150.5 752.7L157.4 757.2L164.2 761.7L171.0 766.3L177.5 770.9L178.6 776.7L179.6 782.5L179.3 789.6L178.2 797.1L178.1 805.1L178.2 813.0L178.0 820.9L175.8 828.5L179.0 836.0L183.9 842.0L189.5 847.6L200.0 855.0L216.7 856.7L233.3 860.0L250.0 858.3L266.7 855.0L283.3 858.3L300.0 868.3L316.7 860.0L330.0 858.3L341.7 866.7L353.3 876.7L363.3 891.7L373.3 906.7L391.7 905.0L408.3 908.3L416.7 916.7L433.3 921.7M325.0 796.7L341.7 783.3L363.3 773.3L380.0 780.0L386.7 793.3L380.0 813.3L365.0 813.3L341.7 808.3L325.0 796.7ZM96.7 729.5L102.1 735.6L107.5 741.7L113.6 746.5L121.6 747.6L128.9 746.1L136.1 745.7L142.9 750.3L149.6 755.0L156.4 759.7L163.1 764.4L169.8 769.2L176.1 774.1L175.5 780.4L175.0 786.8L175.0 794.1L174.9 801.8L175.3 809.8L176.1 817.8L176.1 825.7L173.4 833.1L177.0 840.4L182.5 846.0L188.6 851.2L201.7 860.0L216.7 862.5L233.3 864.2L250.0 862.5L266.7 858.3L283.3 862.5L296.7 873.3L310.0 880.0L325.0 891.7L341.7 901.7L356.7 911.7L373.3 918.3L391.7 921.7L408.3 925.0L433.3 931.7M341.7 795.0L356.7 790.0L370.0 793.3L368.3 805.0L350.0 805.0L341.7 795.0ZM325.0 860.0L341.7 860.0L350.0 876.7L336.7 883.3L325.0 880.0L325.0 860.0ZM96.7 733.1L101.8 739.5L107.0 745.9L112.9 750.8L121.0 751.3L128.3 748.8L135.4 747.6L142.1 752.4L148.8 757.3L155.4 762.1L162.0 767.1L168.5 772.1L174.6 777.2L172.5 784.1L170.4 791.0L170.7 798.6L171.5 806.5L172.6 814.6L173.9 822.6L174.2 830.4L171.1 837.6L175.0 844.9L181.1 850.0L187.6 854.8L203.3 865.0L216.7 868.3L230.0 865.0L250.0 866.7L266.7 860.8L281.7 865.0L295.0 876.7L310.0 882.5L325.0 895.8L341.7 905.0L355.0 914.2L371.7 921.7L391.7 925.0L408.3 929.2L433.3 935.0M96.7 736.7L101.5 743.4L106.4 750.0L112.1 755.0L120.4 755.0L127.8 751.5L134.8 749.5L141.3 754.5L147.9 759.5L154.5 764.6L160.9 769.8L167.3 775.0L173.1 780.4L169.4 787.8L165.7 795.2L166.4 803.1L168.1 811.2L169.9 819.3L171.8 827.3L172.3 835.1L168.7 842.2L172.9 849.3L179.7 854.0L186.7 858.3L200.0 868.3L210.0 875.0L226.7 866.7L250.0 870.0L256.7 865.0L270.0 860.0L283.3 868.3L295.0 880.0L310.0 885.0L325.0 900.0L341.7 908.3L353.3 916.7L370.0 925.0L383.3 928.3L400.0 933.3L416.7 936.7L433.3 938.3M258.3 915.0L268.3 913.3L281.7 915.0L281.7 925.0L266.7 925.8L258.3 915.0ZM116.7 843.3L131.7 840.0L140.0 843.3L133.3 848.3L116.7 843.3ZM96.7 846.7L116.7 853.3L141.7 860.0L161.7 866.7L178.3 885.0L208.3 883.3L233.3 875.0L250.0 873.3L270.0 888.3L286.7 901.7M283.3 881.7L270.0 890.0L250.0 905.0L233.3 921.7L216.7 943.3M96.7 943.3L116.7 921.7L133.3 903.3L158.3 895.0L178.3 891.7L193.3 908.3L203.3 930.0L216.7 943.3M316.7 905.0L300.0 916.7L283.3 930.0L266.7 943.3"/><path class="cd" d="M178.3 696.7L180.0 716.7L181.7 733.3L173.3 738.3L158.3 733.3L141.7 725.0L125.0 716.7L108.3 705.0L96.7 703.3M96.7 710.0L116.7 723.3L133.3 731.7L150.0 740.0L166.7 747.5L180.0 753.3L193.3 755.0L206.7 755.0L203.3 748.3L200.0 738.3L198.3 716.7L199.2 696.7"/></g>
<g clip-path="url(#c11)"><path class="cs" d="M173.3 996.7L186.7 980.0L203.3 966.7L233.3 963.3L243.3 966.7L240.0 983.3L250.0 996.7L226.7 1003.3L200.0 1001.7L173.3 996.7ZM93.3 1136.7L133.3 1138.3L140.0 1116.7L166.7 1110.0L196.7 1103.3L193.3 1090.0L180.0 1083.3L163.3 1071.7L140.0 1070.0L120.0 1080.0L106.7 1096.7L93.3 1116.7L93.3 1136.7ZM93.3 1143.3L120.0 1143.3L140.0 1156.7L133.3 1183.3L113.3 1196.7L106.7 1230.0L113.3 1243.3L93.3 1250.0L93.3 1143.3ZM93.3 1250.0L116.7 1245.0L150.0 1240.0L183.3 1230.0L190.0 1196.7L200.0 1176.7L223.3 1156.7L240.0 1133.3L246.7 1116.7L270.0 1096.7L293.3 1103.3L316.7 1103.3L346.7 1110.0L366.7 1123.3L383.3 1146.7L400.0 1170.0L413.3 1186.7L430.0 1206.7L446.7 1240.0L456.7 1258.3L483.3 1253.3L503.3 1255.0L520.0 1283.3L540.0 1303.3L563.3 1320.0L590.0 1310.0L610.0 1316.7L630.0 1306.7L660.0 1290.0L666.7 1270.0L675.0 1258.3L660.0 1240.0L646.7 1223.3L633.3 1216.7L616.7 1211.7L626.7 1196.7L646.7 1183.3L650.0 1163.3L656.7 1146.7L633.3 1130.0L613.3 1120.0L600.0 1103.3L583.3 1090.0L566.7 1073.3L550.0 1056.7L536.7 1030.0L503.3 1020.0L493.3 1026.7L490.0 1043.3L466.7 1060.0L480.0 1090.0L453.3 1093.3L430.0 1086.7L413.3 1073.3L406.7 1056.7L416.7 1046.7L433.3 1041.7L440.0 1040.0L436.7 1030.0L446.7 996.7L456.7 973.3L470.0 993.3L486.7 976.7L523.3 966.7L516.7 943.3L510.0 923.3M220.0 1223.3L246.7 1220.0L253.3 1243.3L240.0 1258.3L220.0 1240.0L220.0 1223.3ZM266.7 1136.7L286.7 1126.7L303.3 1120.0L316.7 1133.3L333.3 1136.7L346.7 1146.7L350.0 1156.7L353.3 1183.3L333.3 1196.7L306.7 1190.0L290.0 1176.7L273.3 1156.7L266.7 1136.7ZM93.3 1300.0L116.7 1298.3L130.0 1310.0L150.0 1316.7L173.3 1313.3L200.0 1308.3L246.7 1305.0L253.3 1283.3L280.0 1273.3L303.3 1270.0L313.3 1276.7L330.0 1286.7L340.0 1250.0L346.7 1243.3L366.7 1243.3L370.0 1223.3L393.3 1210.0L406.7 1230.0L420.0 1246.7L430.0 1270.0L420.0 1290.0L400.0 1306.7L393.3 1330.0L383.3 1326.7L346.7 1323.3L336.7 1343.3L333.3 1370.0M356.7 1370.0L363.3 1340.0L386.7 1343.3L413.3 1350.0L433.3 1370.0M93.3 1270.0L120.0 1268.3L125.0 1273.3L116.7 1280.0L93.3 1280.0L93.3 1270.0ZM113.3 923.3L106.7 950.0L113.3 966.7L110.0 983.3L93.3 991.7M253.3 951.7L266.7 966.7L276.7 990.0L270.0 1011.7L291.7 1028.3L285.0 1041.7L255.0 1058.3L286.7 1066.7L330.0 1075.0L353.3 1063.3L366.7 1046.7L356.7 1035.0L363.3 1025.0L373.3 1043.3L365.0 1076.7L343.3 1086.7L350.0 1093.3L378.3 1081.7L411.7 1110.0L406.7 1123.3L433.3 1146.7L453.3 1178.3L466.7 1170.0L496.7 1165.0L486.7 1156.7L470.0 1156.7L436.7 1120.0L438.3 1106.7L413.3 1093.3L400.0 1070.0L383.3 1040.0M300.0 983.3L313.3 996.7L333.3 1015.0L348.3 1011.7L350.0 998.3L338.3 986.7M536.7 1116.7L546.7 1095.0L561.7 1088.3L580.0 1103.3L598.3 1120.0L580.0 1135.0L573.3 1133.3L563.3 1120.0M165.0 1150.0L173.3 1165.0L160.0 1186.7L150.0 1206.7L133.3 1223.3L120.0 1236.7M413.3 1018.3L420.0 996.7L425.0 976.7L410.0 966.7L433.3 960.0L446.7 943.3L446.7 923.3"/></g>
<g clip-path="url(#c12)"><path class="cs" d="M483.3 776.7L476.7 796.7L461.7 801.7L465.8 828.3L458.3 846.7L448.3 866.7L440.0 873.3L426.7 868.3M435.0 821.7L448.3 821.7L448.3 836.7L435.0 836.7L435.0 821.7ZM620.0 1023.3L620.0 1013.3L630.0 1008.3L635.0 996.7L636.7 981.7L623.3 975.0L608.3 971.7L611.7 955.0L620.0 935.0L613.3 905.0L610.0 888.3L590.0 890.0L575.0 878.3L563.3 866.7L546.7 861.7L533.3 863.3L523.3 873.3L503.3 875.0L485.8 873.3L486.7 860.0L493.3 838.3L500.0 815.0L494.2 796.7L501.7 790.0L516.7 801.7L530.0 802.5L546.7 813.3L555.8 827.5L553.3 843.3L573.3 850.0L594.2 855.8L599.2 843.3L586.7 826.7L594.2 815.0L609.2 831.7L628.3 810.8L603.3 796.7L610.0 794.2L638.3 794.2L655.0 800.0L670.0 805.0L685.0 797.5L687.5 776.7M763.3 921.7L735.0 923.7L729.2 922.5L731.7 911.7L738.3 905.0L716.7 895.0L711.7 880.0L713.3 860.0L711.7 843.3L708.3 828.3L696.7 818.3L685.0 810.0L690.0 776.7M711.7 792.5L705.0 797.5L716.7 804.2L735.0 803.3L748.3 817.5L753.3 811.7L752.5 776.7L713.3 776.7L711.7 792.5ZM723.3 863.3L735.0 855.0L746.7 870.0L756.7 858.3L763.3 846.7L763.3 886.7L746.7 890.8L735.0 876.7L723.3 863.3ZM633.3 836.7L648.3 836.7L648.3 851.7L633.3 851.7L633.3 836.7ZM648.3 851.7L663.3 851.7L663.3 866.7L648.3 866.7L648.3 851.7ZM468.3 918.3L473.3 896.7L478.3 888.3L496.7 883.3L523.3 883.3L546.7 878.3L561.7 881.7L568.3 888.3L568.3 906.7L561.7 918.3L576.7 938.3L583.3 950.0L585.0 965.0L586.7 983.3L593.3 996.7L596.7 1023.3L558.3 1023.3L561.7 1011.7L556.7 1000.0L550.0 988.3L545.0 971.7L538.3 960.0L528.3 950.0L516.7 936.7L511.7 920.0L516.7 905.0L503.3 898.3L493.3 903.3L486.7 911.7L471.7 923.3L468.3 918.3ZM426.7 911.7L446.7 918.3L470.0 925.8L488.3 918.3L501.7 926.7L510.0 946.7L523.3 955.0L536.7 965.0L543.3 983.3L536.7 996.7L543.3 1013.3L550.0 1023.3M426.7 918.3L446.7 923.3L463.3 928.3L480.0 926.7L493.3 930.0L505.0 946.7L520.0 960.0L526.7 971.7L530.0 988.3L523.3 1001.7L528.3 1013.3L533.3 1023.3M426.7 930.0L446.7 928.3L463.3 930.0L480.0 933.3L493.3 940.0L496.7 955.0L493.3 966.7L493.3 988.3L471.7 993.3L463.3 976.7L455.0 971.7L446.7 980.0L443.3 996.7L440.0 1013.3L435.0 1023.3"/></g>
<g clip-path="url(#c13)"><path class="cs" d="M426.7 1086.7L455.0 1093.3L485.0 1089.2L478.3 1073.3L468.3 1059.2L493.3 1046.7L494.2 1028.3L501.7 1020.8L523.3 1026.7L538.3 1033.3L546.7 1040.0L560.0 1048.3L575.0 1055.0L583.3 1066.7L596.7 1080.0L601.7 1093.3L608.3 1103.3L621.7 1116.7L630.0 1126.7L641.7 1136.7L656.7 1149.2L653.3 1163.3L646.7 1175.0L640.0 1188.3L623.3 1200.0L616.7 1212.5L623.3 1216.7L638.3 1218.3L648.3 1230.0L655.0 1243.3M446.7 996.7L445.0 1008.3L435.0 1028.3L440.0 1040.0L457.5 1043.7L426.7 1044.2M494.2 1096.7L510.0 1096.7L510.0 1111.7L494.2 1111.7L494.2 1096.7ZM494.2 1220.0L510.0 1220.0L510.0 1233.3L494.2 1233.3L494.2 1220.0ZM763.3 1131.7L746.7 1133.3L738.3 1120.0L723.3 1100.0L705.0 1098.3L696.7 1103.3L705.0 1116.7L716.7 1131.7L713.3 1136.7L690.0 1143.3L683.3 1125.0L671.7 1126.7L663.3 1116.7L646.7 1110.0L630.0 1106.7L613.3 1108.3L601.7 1093.3L590.0 1075.0L580.0 1063.3L563.3 1050.0L546.7 1036.7L536.7 1028.3L523.3 1006.7L516.7 996.7M635.0 996.7L630.0 1003.3L620.0 1013.3L618.3 1026.7L605.0 1033.3L590.0 1041.7L580.0 1045.0L556.7 1033.3L536.7 1025.0L523.3 1006.7L523.3 996.7M596.7 996.7L596.7 1016.7L590.0 1033.3L580.0 1043.3L563.3 1028.3L556.7 1026.7L561.7 1013.3L558.3 996.7M588.3 1048.3L596.7 1045.0L606.7 1055.0L621.7 1066.7L638.3 1075.0L651.7 1083.3L666.7 1090.0L651.7 1093.3L636.7 1096.7L621.7 1093.3L613.3 1083.3L600.0 1070.0L588.3 1048.3ZM591.7 1050.0L598.3 1048.3L605.0 1058.3L616.7 1066.7L630.0 1073.3L646.7 1083.3L660.0 1090.0L638.3 1095.0L626.7 1090.0L613.3 1078.3L603.3 1066.7L591.7 1050.0ZM631.7 1081.7L646.7 1081.7L646.7 1096.7L631.7 1096.7L631.7 1081.7ZM650.0 1026.7L655.0 1021.7L670.0 1020.0L680.0 1026.7L685.0 1046.7L700.0 1044.2L716.7 1048.3L723.3 1055.0L738.3 1060.0L753.3 1070.0L763.3 1073.3L763.3 1106.7L755.0 1100.0L738.3 1090.0L723.3 1096.7L703.3 1086.7L690.0 1093.3L676.7 1095.0L666.7 1090.0L703.3 1083.3L703.3 1075.0L690.0 1068.3L670.0 1061.7L663.3 1048.3L656.7 1035.0L650.0 1026.7ZM666.7 1053.3L680.0 1055.0L696.7 1063.3L710.0 1070.0L723.3 1066.7L738.3 1070.0L755.0 1075.0L763.3 1078.3L763.3 1093.3L746.7 1088.3L730.0 1083.3L713.3 1080.0L696.7 1073.3L680.0 1066.7L666.7 1053.3ZM668.3 1096.7L688.3 1096.7L686.7 1106.7L670.0 1106.7L668.3 1096.7ZM726.7 1100.0L738.3 1096.7L763.3 1100.0L763.3 1131.7L746.7 1133.3L738.3 1120.0L726.7 1100.0ZM703.3 1116.7L715.0 1133.3L711.7 1138.3L696.7 1136.7L703.3 1116.7ZM725.0 1181.7L731.7 1171.7L746.7 1175.0L753.3 1181.7L731.7 1195.8L725.0 1181.7ZM711.7 1120.0L716.7 1111.7L721.7 1118.3L716.7 1125.0L711.7 1120.0ZM536.7 1117.5L548.3 1095.0L563.3 1088.3L576.7 1106.7L600.0 1120.0L578.3 1136.7L571.7 1135.0L562.5 1119.2M555.0 1150.0L563.3 1138.3L569.2 1150.0L563.3 1160.8L555.0 1150.0ZM426.7 1096.7L436.7 1103.3L435.0 1118.3L455.0 1141.7L470.0 1156.7L486.7 1156.7L497.5 1165.8L488.3 1172.5L470.0 1170.0L455.0 1180.0L433.3 1161.7L426.7 1148.3M426.7 1206.7L438.3 1225.0L446.7 1243.3"/></g>
<g clip-path="url(#c14)"><path class="cs" d="M800.0 1153.3L793.3 1140.0L786.7 1126.7L773.3 1110.0L766.7 1101.7L770.0 1093.3L783.3 1090.0L800.0 1098.3L813.3 1101.7L821.7 1108.3L833.3 1105.0L855.0 1108.3L886.7 1099.2L896.7 1110.0L900.0 1123.3L913.3 1138.3L921.7 1150.0L931.7 1156.7L940.0 1150.0L936.7 1135.0L923.3 1115.0L906.7 1101.7L905.0 1090.0L916.7 1080.0L933.3 1070.0L943.3 1056.7L983.3 1056.7L986.7 1076.7L983.3 1101.7L975.0 1115.0L960.0 1130.0L953.3 1143.3L945.0 1163.3L950.0 1176.7L946.7 1190.0L916.7 1195.0L886.7 1201.7L880.0 1211.7L870.0 1216.7L856.7 1208.3L846.7 1210.0L855.0 1226.7L846.7 1241.7L840.0 1250.0L833.3 1240.0L823.3 1230.0L816.7 1218.3L808.3 1205.0L803.3 1183.3L800.0 1153.3ZM803.3 1260.0L816.7 1251.7L833.3 1260.0L835.0 1285.0L840.0 1293.3L841.7 1303.3L783.3 1303.3L790.0 1285.0L800.0 1268.3L803.3 1260.0ZM820.0 1165.0L823.3 1153.3L828.3 1140.0L838.3 1125.0L855.0 1123.3L886.7 1118.3L883.3 1135.0L876.7 1150.0L855.0 1160.0L851.7 1158.3L846.7 1143.3L833.3 1146.7L826.7 1160.0L825.0 1166.7L820.0 1165.0ZM831.7 1173.3L846.7 1173.3L846.7 1190.0L831.7 1190.0L831.7 1173.3ZM908.3 1175.0L923.3 1175.0L923.3 1190.0L908.3 1190.0L908.3 1175.0ZM846.7 1190.0L861.7 1190.0L861.7 1205.0L846.7 1205.0L846.7 1190.0ZM831.7 1220.0L846.7 1220.0L855.0 1226.7L846.7 1241.7L840.0 1250.0L831.7 1235.0L831.7 1220.0ZM923.3 1105.0L933.3 1091.7L946.7 1101.7L958.3 1115.0L953.3 1126.7L946.7 1135.0L933.3 1126.7L923.3 1105.0ZM815.0 1273.3L825.0 1268.3L825.0 1280.0L815.0 1273.3ZM786.7 1303.3L790.0 1288.3L803.3 1285.0L816.7 1293.3L820.0 1303.3M696.7 1098.3L716.7 1101.7L726.7 1115.0L746.7 1135.0L756.7 1130.0L770.0 1135.0L783.3 1153.3L790.0 1168.3L786.7 1193.3L790.0 1218.3L786.7 1243.3L793.3 1260.0L780.0 1276.7L766.7 1293.3L758.3 1303.3M863.3 1303.3L858.3 1285.0L846.7 1273.3L858.3 1265.0L876.7 1250.0L873.3 1236.7L883.3 1230.0L898.3 1225.0L893.3 1210.0L901.7 1205.0L908.3 1215.0L915.0 1226.7L921.7 1230.0L928.3 1218.3L940.0 1206.7L950.0 1193.3L956.7 1176.7L960.0 1153.3L966.7 1131.7L980.0 1118.3L996.7 1101.7L1013.3 1085.0L1033.3 1067.5M980.0 1303.3L973.3 1283.3L963.3 1273.3L946.7 1253.3L933.3 1241.7L916.7 1246.7L900.0 1250.0L883.3 1246.7L879.2 1241.7L885.0 1235.0L900.0 1231.7L915.0 1236.7L930.0 1226.7L936.7 1216.7L946.7 1205.0L956.7 1193.3L963.3 1176.7L966.7 1153.3L973.3 1135.0L983.3 1123.3L1000.0 1106.7L1016.7 1090.0L1033.3 1074.2M866.7 1303.3L868.3 1286.7L885.0 1281.7L913.3 1285.0L916.7 1303.3M910.0 1205.0L916.7 1198.3L930.0 1211.7L916.7 1221.7L910.0 1205.0ZM873.3 1258.3L885.0 1253.3L901.7 1258.3L885.0 1273.3L873.3 1258.3ZM998.3 1258.3L988.3 1275.0L980.0 1293.3L976.7 1303.3M1033.3 1070.0L1013.3 1088.3L996.7 1105.0L981.7 1120.8L970.0 1133.3L963.3 1153.3L960.0 1176.7L953.3 1193.3L943.3 1205.8L933.3 1217.5M1033.3 1065.0L1011.7 1083.3L995.0 1100.0L978.3 1116.7L965.0 1130.8L958.3 1153.3L955.0 1176.7L948.3 1191.7L938.3 1205.0L926.7 1216.7"/></g>
<g clip-path="url(#c15)"><path class="cs" d="M996.7 1101.7L1018.3 1076.7L1036.7 1062.5L1066.7 1058.3L1121.7 1066.7L1156.7 1073.3L1161.7 1090.0L1176.7 1086.7L1183.3 1093.3L1190.0 1108.3L1200.0 1115.0L1225.0 1130.0L1228.3 1135.0L1223.3 1141.7L1193.3 1146.7L1176.7 1140.0L1170.0 1153.3L1166.7 1176.7L1171.7 1196.7L1178.3 1208.3L1193.3 1205.0L1198.3 1211.7L1188.3 1220.0L1186.7 1226.7L1191.7 1243.3L1193.3 1260.0L1208.3 1275.0L1213.3 1286.7L1225.0 1303.3M996.7 1105.0L1020.0 1079.2L1038.3 1065.0L1066.7 1061.7L1093.3 1060.0L1116.7 1068.3L1130.0 1075.0L1138.3 1090.0L1150.0 1105.0L1166.7 1120.0L1160.0 1136.7L1153.3 1153.3L1141.7 1173.3L1150.0 1190.0L1163.3 1206.7L1166.7 1213.3L1155.0 1226.7L1150.0 1240.0L1160.0 1256.7L1175.0 1256.7L1186.7 1266.7L1195.0 1275.0L1196.7 1286.7L1200.0 1303.3M996.7 1108.3L1021.7 1081.7L1038.3 1068.3L1066.7 1065.0L1093.3 1065.0L1110.0 1070.0L1115.0 1090.0L1123.3 1103.3L1131.7 1121.7L1140.0 1135.0L1138.3 1151.7L1131.7 1168.3L1116.7 1198.3L1108.3 1220.0L1101.7 1240.0L1106.7 1260.0L1116.7 1278.3L1143.3 1286.7L1163.3 1303.3M1333.3 1219.2L1316.7 1210.0L1300.0 1200.0L1283.3 1188.3L1270.0 1185.0L1255.0 1191.7L1248.3 1180.0L1246.7 1165.0L1236.7 1150.0L1255.0 1133.3L1258.3 1120.0L1255.0 1113.3L1240.0 1115.0L1223.3 1093.3L1208.3 1088.3L1210.0 1073.3L1221.7 1056.7M1333.3 1203.3L1308.3 1198.3L1290.0 1183.3L1303.3 1163.3L1300.0 1148.3L1286.7 1145.0L1281.7 1135.0L1278.3 1123.3L1281.7 1116.7L1293.3 1116.7L1301.7 1126.7L1316.7 1120.0L1333.3 1113.3M1263.3 1158.3L1276.7 1158.3L1276.7 1173.3L1263.3 1173.3L1263.3 1158.3ZM1190.0 1176.7L1193.3 1175.0L1210.0 1178.3L1215.0 1195.0L1208.3 1203.3L1198.3 1196.7L1191.7 1186.7L1190.0 1176.7ZM1171.7 1175.0L1185.0 1175.0L1185.0 1190.0L1171.7 1190.0L1171.7 1175.0ZM1333.3 1291.7L1323.3 1285.8L1305.0 1275.0L1283.3 1265.0L1278.3 1258.3L1276.7 1243.3L1281.7 1235.0L1286.7 1226.7L1275.0 1211.7L1285.0 1203.3L1300.0 1208.3L1316.7 1216.7L1333.3 1225.0M1303.3 1226.7L1316.7 1224.2L1322.5 1228.3L1320.0 1241.7L1315.0 1246.7L1306.7 1241.7L1303.3 1226.7ZM996.7 1101.7L1023.3 1096.7L1033.3 1103.3L1040.0 1116.7L1055.0 1125.0L1070.0 1116.7L1080.0 1121.7L1085.0 1135.0L1103.3 1138.3L1120.0 1150.0L1116.7 1168.3L1108.3 1193.3L1100.0 1211.7L1083.3 1220.0L1070.0 1233.3L1055.0 1237.5L1041.7 1230.8L1035.0 1230.0M1025.0 1288.3L1038.3 1283.3L1048.3 1288.3L1038.3 1292.5L1025.0 1288.3ZM1076.7 1090.0L1083.3 1083.3L1086.7 1093.3L1098.3 1086.7"/></g>
<g clip-path="url(#c16)"><path class="cs" d="M1306.7 1099.2L1330.0 1100.0L1340.0 1108.3L1360.0 1115.0L1376.7 1140.0L1376.7 1156.7L1396.7 1163.3L1410.0 1173.3L1416.7 1180.0L1420.0 1193.3L1426.7 1195.8L1455.0 1191.7L1458.3 1183.3L1470.0 1178.3L1501.7 1183.3L1515.0 1175.0L1530.0 1161.7L1546.7 1158.3L1565.0 1163.3L1573.3 1176.7L1576.7 1184.2L1593.3 1183.3L1608.3 1173.3L1623.3 1181.7L1643.3 1184.2M1306.7 1205.0L1326.7 1218.3L1343.3 1230.0L1360.0 1243.3L1358.3 1258.3L1376.7 1266.7L1390.0 1256.7L1391.7 1240.0L1408.3 1230.0L1413.3 1241.7L1408.3 1256.7L1395.0 1273.3L1410.0 1290.0L1426.7 1303.3M1306.7 1216.7L1323.3 1225.0L1338.3 1236.7L1343.3 1245.0L1338.3 1251.7L1340.0 1268.3L1353.3 1275.0L1348.3 1290.0L1331.7 1292.5L1323.3 1285.0L1306.7 1283.3M1306.7 1225.0L1316.7 1225.0L1321.7 1231.7L1321.7 1243.3L1315.0 1246.7L1306.7 1243.3M1306.7 1123.3L1316.7 1120.0L1331.7 1135.0L1323.3 1150.0L1330.0 1156.7L1340.0 1175.0L1351.7 1185.0L1353.3 1198.3L1346.7 1210.8L1318.3 1196.7L1306.7 1193.3M1508.3 1210.0L1515.0 1190.0L1520.0 1188.3L1536.7 1196.7L1546.7 1210.0L1551.7 1226.7L1543.3 1246.7L1535.0 1266.7L1515.0 1271.7L1506.7 1256.7L1510.0 1245.0L1501.7 1218.3L1508.3 1210.0ZM1426.7 1089.2L1453.3 1087.5L1476.7 1080.0L1493.3 1070.0L1513.3 1065.0L1533.3 1067.5L1553.3 1074.2L1558.3 1098.3L1563.3 1119.2L1543.3 1128.3L1526.7 1135.0L1510.0 1143.3L1500.0 1155.0L1485.0 1154.2L1476.7 1140.0L1448.3 1138.3L1440.0 1141.7L1430.0 1153.3L1425.0 1163.3L1408.3 1165.8L1396.7 1160.0L1386.7 1150.0L1385.0 1133.3L1383.3 1120.0L1393.3 1105.0L1408.3 1116.7L1423.3 1103.3L1423.3 1098.3L1438.3 1114.2L1443.3 1104.2L1438.3 1096.7L1426.7 1089.2ZM1523.3 1105.0L1531.7 1080.0L1541.7 1090.0L1531.7 1110.0L1523.3 1105.0ZM1616.7 1118.3L1621.7 1100.0L1628.3 1105.0L1628.3 1120.0L1621.7 1126.7L1616.7 1118.3Z"/></g>
<g clip-path="url(#c17)"><path class="cs" d="M630.0 1193.3L616.7 1213.3L643.3 1220.0L663.3 1243.3L676.7 1260.0L666.7 1270.0L663.3 1290.0L643.3 1296.7L610.0 1315.0L590.0 1313.3L563.3 1318.3L536.7 1300.0L520.0 1286.7L510.0 1263.3L496.7 1253.3L463.3 1256.7L450.0 1253.3L423.3 1206.7M516.7 1371.7L533.3 1348.3L540.0 1371.7M636.7 1371.7L656.7 1344.0L665.0 1346.7L686.7 1340.0L703.3 1331.7L730.0 1310.0L763.3 1283.3L783.3 1266.7L796.7 1250.0L805.0 1246.7L796.7 1233.3L795.0 1193.3M783.3 1310.0L780.0 1293.3L790.0 1276.7L806.7 1260.0L816.7 1233.3L806.7 1206.7L813.3 1193.3L856.7 1193.3L853.3 1220.0L863.3 1233.3L860.0 1256.7L846.7 1266.7L856.7 1290.0L846.7 1306.7L830.0 1311.7L796.7 1311.7L783.3 1310.0ZM850.0 1193.3L846.7 1213.3L853.3 1226.7L840.0 1246.7L830.0 1233.3L816.7 1193.3M713.3 1371.7L716.7 1340.0L750.0 1330.0L763.3 1333.3L750.0 1371.7M723.3 1371.7L726.7 1346.7L746.7 1336.7L750.0 1371.7M820.0 1371.7L823.3 1333.3L830.0 1313.3L846.7 1306.7L856.7 1290.0L846.7 1266.7L860.0 1256.7L863.3 1233.3L873.3 1220.0L863.3 1193.3M873.3 1258.3L886.7 1251.7L901.7 1256.7L890.0 1273.3L880.0 1271.7L873.3 1258.3ZM755.0 1371.7L758.3 1346.7L776.7 1341.7L783.3 1353.3L776.7 1371.7M790.0 1335.0L810.0 1325.0L816.7 1333.3L800.0 1340.0L790.0 1335.0ZM846.7 1371.7L843.3 1333.3L846.7 1316.7L863.3 1300.0L870.0 1286.7L890.0 1283.3L913.3 1288.3L910.0 1303.3L920.0 1311.7L936.7 1306.7L940.0 1290.0L930.0 1266.7L910.0 1246.7L896.7 1240.0L880.0 1243.3L876.7 1240.0L893.3 1230.0L916.7 1231.7L930.0 1223.3L950.0 1193.3M930.0 1228.3L963.3 1266.7L978.3 1300.0L985.0 1280.0L998.3 1258.3M1033.3 1230.0L1063.3 1235.0L1080.0 1220.0L1096.7 1215.0M1025.0 1288.3L1040.0 1283.3L1048.3 1288.3L1038.3 1293.3L1025.0 1288.3ZM870.0 1371.7L873.3 1350.0L886.7 1346.7L895.0 1371.7"/></g>
<g clip-path="url(#c18)"><path class="cs" d="M630.0 1193.3L616.7 1213.3L643.3 1220.0L663.3 1243.3L676.7 1260.0L666.7 1270.0L663.3 1290.0L643.3 1296.7L610.0 1315.0L590.0 1313.3L563.3 1318.3L536.7 1300.0L520.0 1286.7L510.0 1263.3L496.7 1253.3L463.3 1256.7L450.0 1253.3L423.3 1206.7M516.7 1371.7L533.3 1348.3L540.0 1371.7M636.7 1371.7L656.7 1344.0L665.0 1346.7L686.7 1340.0L703.3 1331.7L730.0 1310.0L763.3 1283.3L783.3 1266.7L796.7 1250.0L805.0 1246.7L796.7 1233.3L795.0 1193.3M783.3 1310.0L780.0 1293.3L790.0 1276.7L806.7 1260.0L816.7 1233.3L806.7 1206.7L813.3 1193.3L856.7 1193.3L853.3 1220.0L863.3 1233.3L860.0 1256.7L846.7 1266.7L856.7 1290.0L846.7 1306.7L830.0 1311.7L796.7 1311.7L783.3 1310.0ZM850.0 1193.3L846.7 1213.3L853.3 1226.7L840.0 1246.7L830.0 1233.3L816.7 1193.3M713.3 1371.7L716.7 1340.0L750.0 1330.0L763.3 1333.3L750.0 1371.7M723.3 1371.7L726.7 1346.7L746.7 1336.7L750.0 1371.7M820.0 1371.7L823.3 1333.3L830.0 1313.3L846.7 1306.7L856.7 1290.0L846.7 1266.7L860.0 1256.7L863.3 1233.3L873.3 1220.0L863.3 1193.3M873.3 1258.3L886.7 1251.7L901.7 1256.7L890.0 1273.3L880.0 1271.7L873.3 1258.3ZM755.0 1371.7L758.3 1346.7L776.7 1341.7L783.3 1353.3L776.7 1371.7M790.0 1335.0L810.0 1325.0L816.7 1333.3L800.0 1340.0L790.0 1335.0ZM846.7 1371.7L843.3 1333.3L846.7 1316.7L863.3 1300.0L870.0 1286.7L890.0 1283.3L913.3 1288.3L910.0 1303.3L920.0 1311.7L936.7 1306.7L940.0 1290.0L930.0 1266.7L910.0 1246.7L896.7 1240.0L880.0 1243.3L876.7 1240.0L893.3 1230.0L916.7 1231.7L930.0 1223.3L950.0 1193.3M930.0 1228.3L963.3 1266.7L978.3 1300.0L985.0 1280.0L998.3 1258.3M1033.3 1230.0L1063.3 1235.0L1080.0 1220.0L1096.7 1215.0M1025.0 1288.3L1040.0 1283.3L1048.3 1288.3L1038.3 1293.3L1025.0 1288.3ZM870.0 1371.7L873.3 1350.0L886.7 1346.7L895.0 1371.7"/></g>
<g clip-path="url(#c19)"><path class="cs" d="M1526.7 1371.7L1513.3 1346.7L1453.3 1343.3L1446.7 1320.0L1436.7 1316.7L1430.0 1306.7L1406.7 1286.7L1395.0 1271.7L1410.0 1243.3L1406.7 1230.0L1396.7 1193.3M1320.0 1371.7L1323.3 1340.0L1333.3 1321.7L1355.0 1320.0L1375.0 1330.0L1393.3 1340.0L1400.0 1350.0L1396.7 1371.7M1186.7 1193.3L1186.7 1220.0L1190.0 1250.0L1203.3 1276.7L1216.7 1293.3L1230.0 1300.0L1240.0 1325.0L1263.3 1320.0L1276.7 1336.7L1290.0 1353.3L1310.0 1371.7M1163.3 1193.3L1170.0 1213.3L1156.7 1220.0L1150.0 1240.0L1160.0 1258.3L1176.7 1260.0L1193.3 1271.7L1196.7 1300.0L1203.3 1313.3L1216.7 1326.7L1226.7 1340.0L1230.0 1371.7M1120.0 1193.3L1110.0 1210.0L1100.0 1243.3L1113.3 1276.7L1146.7 1280.0L1165.0 1296.7L1156.7 1316.7L1155.0 1333.3L1143.3 1346.7L1146.7 1371.7M1143.3 1346.7L1156.7 1335.0L1180.0 1333.3L1193.3 1350.0L1183.3 1371.7M1566.7 1306.7L1576.7 1315.0L1585.0 1306.7"/></g>
</g>
<path class="co" d="M770.2 324.3L762.5 325.8L747.1 336.5L737.9 348.8L719.5 361.1L701.0 373.4L688.8 382.6L679.5 398.0M378.5 468.6L372.3 467.0L353.9 459.4L338.5 457.8L317.0 451.7L292.5 453.2L274.0 459.4L261.7 465.5L249.5 476.2L228.0 487.0L212.6 494.7L197.2 505.4L188.0 517.7L183.4 533.0L181.9 551.5L189.6 568.3L184.9 585.2L175.7 603.6L171.1 628.2L169.6 658.9L169.6 680.4L181.9 705.0L188.0 723.4L206.4 751.0L218.7 772.5L231.0 787.8L255.6 795.5L271.0 807.8L292.5 801.7L317.0 798.6L338.5 794.0L353.9 794.0L369.3 784.8L381.6 772.5L390.8 755.6L396.9 735.6L398.4 720.3L415.3 711.1L439.9 708.0L464.5 701.9L489.1 705.0L504.4 706.5L509.0 717.2L504.4 729.5L489.1 744.9L486.0 763.3L479.9 781.7L475.2 803.2L467.6 800.1L461.4 812.4L464.5 827.8L461.4 846.2L452.2 864.6L443.0 876.9L452.2 881.5L467.6 883.0L482.9 878.4L501.4 881.5L519.8 879.9L535.2 875.3L562.8 875.3L584.3 879.9L602.7 895.3L619.6 904.5L615.0 926.0L608.9 950.5L607.3 972.0L602.7 990.5L602.7 1012.0L604.3 1028.8L615.0 1048.8L627.3 1064.1L645.7 1082.6L661.1 1090.2L679.5 1094.8L694.9 1087.2L716.4 1079.5L731.8 1070.3L747.1 1071.8L762.5 1076.4L780.9 1088.7L797.8 1099.4L811.6 1113.3L814.7 1120.9L816.2 1104.0L830.1 1090.2L845.4 1076.4L851.6 1064.1L854.6 1045.7L870.0 1030.4L876.1 1025.8L891.5 1027.3L896.1 1018.1L916.1 1018.1L934.5 1008.9L956.0 999.7L971.4 984.3L983.7 993.5L989.8 1001.2L974.4 1007.3L963.7 1024.2L974.4 1030.4L974.4 1036.5L962.2 1058.0L968.3 1079.5L989.8 1082.6L992.9 1064.1L980.6 1039.6L983.7 1028.8L1002.1 1021.2L1017.5 1015.0L1017.5 1008.9L1014.4 996.6L1023.6 990.5L1029.7 996.6L1029.7 1008.9L1035.9 1012.0L1054.3 1013.5L1072.8 1021.2L1078.9 1033.4L1085.0 1042.7L1115.8 1039.6L1140.3 1039.6L1149.6 1048.8L1171.1 1054.9L1186.4 1051.9L1198.7 1042.7L1201.8 1038.0L1214.1 1038.0L1238.6 1036.5L1260.1 1036.5L1272.4 1035.9L1260.1 1042.7L1244.8 1045.7L1244.8 1058.0L1257.1 1061.1L1275.5 1064.1L1300.1 1073.3L1306.2 1088.7L1309.3 1101.0L1330.8 1104.0L1336.9 1110.2L1355.4 1119.4L1376.9 1140.9L1386.1 1154.7L1407.6 1171.6L1419.9 1182.3L1438.3 1182.3L1456.8 1182.3L1478.3 1182.3L1499.8 1183.9L1515.1 1188.5L1530.5 1193.1L1548.9 1202.3L1567.3 1214.6L1582.7 1226.8L1587.3 1239.1L1601.1 1236.1L1607.3 1257.5L1616.5 1294.4L1625.7 1309.7L1641.1 1312.8M95.9 840.0L102.0 843.1L117.4 852.3L138.9 858.5L157.3 867.7L178.8 875.3L200.3 881.5L218.7 883.0L240.2 873.8L255.6 867.7L274.0 867.7L289.4 875.3L307.8 892.2L326.3 907.6L341.6 918.3L363.1 935.2L384.6 938.3L406.1 942.9L424.6 950.5L446.1 958.2L464.5 959.8L476.8 959.8L482.9 953.6L489.1 962.8L486.0 967.4L498.3 981.2L513.6 995.1L529.0 1010.4L538.2 1022.7L539.8 1030.4L536.7 1045.7L541.3 1059.5L559.7 1070.3L565.9 1058.0L572.0 1068.7L587.4 1076.4L602.7 1087.2L605.8 1104.0L615.0 1107.1L621.2 1101.0L627.3 1116.3L639.6 1110.2L658.0 1114.8L670.3 1128.6L684.1 1134.8L688.8 1142.4L704.1 1140.9L716.4 1134.8L710.3 1119.4L704.1 1110.2L722.5 1093.3L731.8 1090.2L747.1 1088.7L762.5 1101.0L768.6 1110.2L774.8 1122.5L765.6 1134.8L780.9 1144.0L793.2 1159.3L797.8 1180.8L799.3 1196.2L793.2 1211.5L799.3 1236.1L802.4 1248.3L790.1 1272.9L771.7 1286.7L756.3 1303.6L750.2 1315.9L747.1 1328.2L725.6 1335.8L714.9 1349.7L714.9 1371.1M919.2 757.1L937.6 752.5L962.2 758.7L971.4 754.1L992.9 754.1L1008.2 757.1L1026.7 761.7L1026.7 771.0L1048.2 772.5L1035.9 778.6L1054.3 781.7L1063.5 784.8L1074.3 792.4L1066.6 806.3L1054.3 800.1L1026.7 798.6L1008.2 806.3L989.8 803.2L989.8 813.9L980.6 824.7L969.8 810.9L952.9 806.3L931.4 806.3L906.9 810.9L886.9 801.7L894.6 792.4L913.0 797.1L934.5 798.6L951.4 795.5L939.1 781.7L937.6 772.5L929.9 763.3ZM922.2 783.2L937.6 789.4L936.0 792.4L923.8 786.3ZM1108.1 801.7L1146.5 798.6L1158.8 801.7L1155.7 812.4L1137.3 813.9L1109.6 813.9ZM748.7 545.3L768.6 546.8L780.9 543.8L779.4 548.4L756.3 551.5ZM793.2 539.2L807.0 549.9L808.6 563.7L802.4 569.9L800.9 554.5ZM817.8 580.6L834.7 592.9L834.7 606.7L831.6 597.5ZM848.5 608.2L859.2 622.1L856.2 623.6ZM793.2 596.0L799.3 595.0L799.3 597.5ZM839.3 637.4L851.6 645.1L848.5 643.6ZM1278.5 859.4L1287.9 862.1L1288.6 870.9L1281.2 872.9L1277.1 867.5ZM1286.1 887.0L1292.6 888.8L1293.0 894.8L1287.9 896.2L1285.2 892.5ZM1296.4 910.0L1303.7 912.1L1304.3 918.9L1298.5 920.5L1295.4 916.3ZM1298.4 934.6L1303.6 936.1L1304.0 940.8L1299.9 942.0L1297.7 939.0ZM1292.0 955.5L1295.9 956.6L1296.1 960.2L1293.1 961.0L1291.4 958.8ZM1277.0 989.8L1281.3 991.1L1281.6 995.1L1278.3 996.0L1276.4 993.5ZM1342.5 958.2L1346.8 959.5L1347.1 963.4L1343.7 964.4L1341.9 961.9ZM1307.1 1016.6L1311.4 1017.8L1311.8 1021.8L1308.4 1022.7L1306.5 1020.2ZM1273.4 837.9L1277.7 839.1L1278.0 843.1L1274.6 844.0L1272.7 841.6ZM1244.6 831.4L1248.0 832.4L1248.3 835.6L1245.6 836.3L1244.1 834.4ZM1181.2 817.9L1185.5 819.2L1185.8 823.1L1182.4 824.1L1180.6 821.6ZM1180.1 799.8L1183.5 800.8L1183.8 804.0L1181.1 804.7L1179.6 802.8ZM1235.6 808.1L1238.6 809.0L1238.8 811.8L1236.5 812.4L1235.2 810.7ZM1274.2 822.8L1276.8 823.6L1277.0 826.0L1275.0 826.5L1273.8 825.0ZM1261.9 848.9L1264.5 849.7L1264.7 852.1L1262.7 852.6L1261.6 851.1ZM1272.4 1056.5L1284.7 1055.9L1300.1 1053.4L1303.2 1033.4L1284.7 1036.5L1286.3 1047.3L1278.6 1053.4ZM1195.6 1025.8L1207.9 1022.7L1214.1 1027.3L1207.9 1031.3L1197.2 1028.8ZM1049.7 984.9L1062.0 995.1L1055.9 993.5ZM1022.1 978.2L1027.6 983.7L1023.6 982.8ZM1072.8 987.4L1078.9 995.1L1075.8 993.5ZM501.4 734.1L507.5 738.7L502.9 741.8ZM513.6 864.6L525.9 860.9L519.8 863.7ZM900.6 135.6L897.8 145.3L892.2 150.8L888.1 152.9L885.3 157.1L879.7 161.9L875.6 166.8L872.1 168.9L872.8 162.6L867.2 159.9L861.0 157.8L857.5 153.6L853.3 148.1L856.1 143.2L864.4 139.7L869.3 135.6M853.3 148.1L856.8 156.4L860.3 164.7L865.8 173.1L868.6 175.8L867.2 180.0L869.3 184.9L867.2 188.3L864.4 191.1L858.9 199.4L853.3 207.8L849.2 212.6L843.6 214.7L840.8 218.9L840.1 223.1L842.2 224.4L844.3 218.9L847.8 210.6L849.9 199.4L846.4 196.7L843.6 191.1L842.2 186.9L838.1 188.3L832.5 184.2L831.1 178.6L836.7 177.2L832.5 173.1L835.3 167.5L833.9 163.3L839.4 157.8L843.6 152.2L839.4 150.8L838.1 152.2L831.1 155.0L828.3 159.2L822.8 159.9L825.6 164.7L822.8 168.9L824.2 175.8L825.6 182.8L827.6 189.7L829.7 196.7L830.4 202.2L825.6 195.3L817.2 192.5L811.7 188.3L806.1 184.9L799.9 186.9L799.9 182.8L804.7 177.2L807.5 171.7M830.4 202.2L831.1 207.8L829.7 211.9L822.8 207.8L815.8 200.8L806.1 193.9L815.8 202.2L824.2 210.6L829.7 214.7L831.1 218.9L825.6 220.3L816.5 214.0L825.6 221.7L829.7 225.8L826.9 230.0L821.4 227.2L811.7 221.7L801.2 218.9L811.7 223.1L821.4 228.6L829.7 227.9L833.9 231.4L840.1 232.1L842.2 239.7L845.7 248.1L849.2 256.4L853.3 264.0M853.3 266.8L856.1 270.3L856.1 275.8L854.0 282.1M852.6 283.5L849.2 284.4M845.7 285.3L840.1 286.9M840.8 232.8L842.2 241.1L840.8 246.7L833.9 253.6L831.1 252.2L825.6 256.4L817.2 253.6L817.9 260.6L829.7 260.6L838.1 263.3L838.1 268.9L839.4 263.3L845.0 261.2L846.4 267.5L842.2 273.1L835.3 280.0L828.3 278.6L822.8 274.4L817.2 278.6L808.2 274.4L815.8 279.3L822.8 281.4L818.6 288.3L811.7 291.8L806.8 285.6L813.1 291.1L825.6 291.1L831.1 293.2L824.2 302.2L818.6 299.4L804.7 299.4L797.8 303.6L796.4 298.8L797.1 304.3L788.1 309.9L782.5 316.1L779.7 323.8L778.3 316.1L779.0 323.8L770.0 323.8M858.9 200.8L865.8 191.1L867.2 189.7L861.0 201.5L858.9 200.8M380.0 470.1L387.7 466.2L395.4 467.2L403.0 471.0L406.9 465.3L404.9 459.5L412.6 460.5L420.3 467.2L428.0 469.1L429.9 474.8L439.5 469.1L433.7 465.3L426.1 461.4L421.3 455.7L428.0 451.8L427.0 446.1L418.4 446.1L414.5 442.2L404.9 441.3L397.3 438.4L401.1 433.6L408.8 433.6L418.4 438.4L429.9 435.5L443.3 431.7L456.8 432.6L464.4 435.5L468.3 432.6L470.2 423.0L473.1 432.6L479.8 435.5L495.2 432.6L500.9 428.8L502.8 433.6L518.2 429.7L527.8 430.7L531.6 434.5L541.2 435.5L545.1 441.3L550.8 448.0L552.7 452.8L562.3 455.7L571.9 450.9L583.4 445.1L591.1 441.3L600.7 445.1L610.3 452.8L621.8 461.4L631.4 471.0L635.3 480.6L635.3 496.0L631.4 503.6L630.5 511.3L636.2 514.2L642.0 510.4L639.1 517.1L634.3 520.9L638.1 530.5L644.8 538.2L650.6 541.1L652.5 551.6L660.2 557.4L664.0 565.1L673.6 572.7L677.5 580.4L683.2 587.1L687.1 591.9L696.7 591.0L706.3 587.1L712.0 572.7L714.9 553.5L714.9 542.0L712.0 530.5L704.3 511.3L696.7 492.1L690.9 476.8L683.2 461.4L677.5 446.1L673.6 430.7L670.8 417.3L673.6 407.7L674.6 398.1M440.5 454.7L445.3 448.9L444.9 443.2M690.9 482.5L694.7 496.0L702.4 513.2L710.1 528.6M706.3 593.8L701.5 598.6M697.6 601.5L690.9 605.0M686.1 606.5L678.4 608.0M673.6 608.8L666.0 610.0M567.0 692.0L575.0 688.6L584.1 679.5L595.5 675.0L609.1 669.3L627.3 663.6L645.5 655.7L659.1 654.5L677.3 655.7L695.5 659.1L709.1 662.5L722.7 667.0L731.8 672.7L743.2 678.4L754.5 680.7L765.9 686.4L777.3 690.9L790.9 695.5L800.0 700.0L809.1 705.7L818.2 711.4L829.5 715.9L840.9 718.2L850.0 720.5L852.3 726.1L847.7 728.4L856.8 730.7L868.2 733.0L879.5 736.4L890.9 740.9L896.6 743.6L886.4 747.7L868.2 751.1L854.5 754.5L834.1 752.3L811.4 754.5L800.0 755.7L788.6 756.8L795.5 750.0L802.3 745.5L806.8 736.4L800.0 730.7L788.6 729.5L777.3 727.3L768.2 723.9L763.6 713.6L759.1 705.7L750.0 702.3L736.4 700.0L725.0 696.6L713.6 694.3L706.8 687.5L700.0 683.0L690.9 684.1L681.8 687.5L677.3 684.1L663.6 683.0L654.5 679.5L647.7 672.7L638.6 671.6L627.3 673.9L615.9 676.1L604.5 679.5L595.5 684.1L590.9 689.8L581.8 692.0L577.3 695.5L570.5 694.3ZM618.2 701.1L625.0 692.0L634.1 693.2L637.5 700.0L631.8 705.7L622.7 705.7ZM768.2 801.1L777.3 797.7L795.5 796.6L811.4 800.0L825.0 804.5L833.0 813.6L827.3 821.6L815.9 815.9L804.5 819.3L795.5 813.6L781.8 810.2L772.7 805.7ZM777.3 600.0L768.2 609.1L775.0 613.6L777.3 622.7L784.1 634.1L790.9 635.2L793.2 625.0L786.4 613.6L786.4 604.5L781.8 600.0ZM848.9 606.8L855.7 618.2L860.2 622.7L854.5 622.7M839.8 639.1L847.7 644.3M862.5 639.8L868.2 654.5L875.0 661.4M892.0 664.8L901.1 668.2L905.7 669.3L903.4 677.3L895.5 683.0M927.3 677.3L938.6 679.5M911.4 718.2L918.2 714.8L927.3 713.6L931.8 709.1L927.3 719.3L918.2 722.7L911.4 721.6ZM952.3 695.5L959.1 696.6M962.5 692.0L972.7 694.3M661.4 611.4L670.5 608.0M681.8 605.7L695.5 602.3M736.4 670.5L743.2 675.0M759.1 673.9L777.3 684.1L790.9 690.9"/>
<path class="bd" d="M189.6 568.3L163.4 565.3L138.9 556.1L129.6 553.0L117.4 526.9L114.3 516.1L102.0 500.8L92.8 496.2M341.6 918.3L343.2 904.5L355.4 872.3L395.4 871.7L378.5 846.2L364.7 835.4L378.5 835.4L378.5 817.9L435.3 817.9M435.3 817.9L435.3 876.9L443.0 876.9M435.3 876.9L429.2 921.4L406.1 942.9M429.2 921.4L455.3 935.2L476.8 959.8M489.1 962.8L510.6 941.3L538.2 932.1L568.9 910.6L619.6 904.5M539.8 1024.2L572.0 1025.8L604.3 1028.8M627.3 1073.3L627.3 1116.3M797.8 1099.4L793.2 1119.4L780.9 1144.0M982.1 1002.7L946.8 1024.2L931.4 1079.5L949.9 1107.1L962.2 1150.1L1020.5 1150.1L1042.0 1177.7L1100.4 1174.7L1088.1 1226.8L1106.5 1260.6L1091.2 1279.0L1112.7 1328.2L1118.8 1328.2M1118.8 1328.2L1029.7 1312.8L1026.7 1346.6L1022.1 1371.1M1118.8 1328.2L1137.3 1342.0L1161.8 1337.4L1201.8 1319.0L1207.9 1288.2L1226.4 1297.5L1189.5 1239.1L1241.7 1251.4L1247.9 1242.2L1309.3 1205.4M1330.8 1104.0L1287.8 1183.9L1309.3 1205.4L1336.9 1226.8L1333.9 1291.3L1367.7 1328.2L1438.3 1306.7M1419.9 1182.3L1413.7 1211.5L1392.2 1242.2L1404.5 1260.6L1438.3 1306.7L1496.7 1294.4M1515.1 1188.5L1502.8 1211.5L1515.1 1254.5L1496.7 1294.4L1548.9 1297.5L1587.3 1239.1M750.2 1320.5L787.1 1340.4L830.1 1352.7L860.8 1371.1M969.8 810.9L969.8 794.0L962.2 792.4L971.4 775.6L971.4 754.1"/>
<text class="cl" transform="translate(133,197) rotate(-65)" x="-9.1" y="6.7" textLength="18.2" lengthAdjust="spacingAndGlyphs">-8</text>
<text class="cl" transform="translate(155,197) rotate(-65)" x="-14.9" y="6.7" textLength="29.9" lengthAdjust="spacingAndGlyphs">-10</text>
<text class="cl" transform="translate(175,197) rotate(-75)" x="-14.9" y="6.7" textLength="29.9" lengthAdjust="spacingAndGlyphs">-12</text>
<text class="cl" transform="translate(122,298) rotate(60)" x="-14.9" y="6.7" textLength="29.9" lengthAdjust="spacingAndGlyphs">-14</text>
<text class="cl" transform="translate(388,292) rotate(35)" x="-14.9" y="6.7" textLength="29.9" lengthAdjust="spacingAndGlyphs">-20</text>
<text class="cl" transform="translate(107,427) rotate(90)" x="-14.9" y="6.7" textLength="29.9" lengthAdjust="spacingAndGlyphs">-16</text>
<text class="cl" transform="translate(596,402) rotate(5)" x="-14.9" y="6.7" textLength="29.9" lengthAdjust="spacingAndGlyphs">-18</text>
<text class="cl" transform="translate(625,434) rotate(0)" x="-14.9" y="6.7" textLength="29.9" lengthAdjust="spacingAndGlyphs">-14</text>
<text class="cl" transform="translate(760,351) rotate(0)" x="-14.9" y="6.7" textLength="29.9" lengthAdjust="spacingAndGlyphs">-24</text>
<text class="cl" transform="translate(997,320) rotate(-25)" x="-14.9" y="6.7" textLength="29.9" lengthAdjust="spacingAndGlyphs">-22</text>
<text class="cl" transform="translate(1048,318) rotate(-35)" x="-14.9" y="6.7" textLength="29.9" lengthAdjust="spacingAndGlyphs">-16</text>
<text class="cl" transform="translate(993,373) rotate(-25)" x="-14.9" y="6.7" textLength="29.9" lengthAdjust="spacingAndGlyphs">-12</text>
<text class="cl" transform="translate(810,445) rotate(-20)" x="-14.9" y="6.7" textLength="29.9" lengthAdjust="spacingAndGlyphs">-10</text>
<text class="cl" transform="translate(705,482) rotate(0)" x="-9.1" y="6.7" textLength="18.2" lengthAdjust="spacingAndGlyphs">-8</text>
<text class="cl" transform="translate(272,528) rotate(5)" x="-9.1" y="6.7" textLength="18.2" lengthAdjust="spacingAndGlyphs">-6</text>
<text class="cl" transform="translate(257,551) rotate(15)" x="-9.1" y="6.7" textLength="18.2" lengthAdjust="spacingAndGlyphs">-4</text>
<text class="cl" transform="translate(532,569) rotate(-5)" x="-9.1" y="6.7" textLength="18.2" lengthAdjust="spacingAndGlyphs">-2</text>
<text class="cl" transform="translate(1593,175) rotate(30)" x="-14.9" y="6.7" textLength="29.9" lengthAdjust="spacingAndGlyphs">-16</text>
<text class="cl" transform="translate(1577,260) rotate(45)" x="-14.9" y="6.7" textLength="29.9" lengthAdjust="spacingAndGlyphs">-14</text>
<text class="cl" transform="translate(793,549) rotate(-30)" x="-5.8" y="6.7" textLength="11.6" lengthAdjust="spacingAndGlyphs">0</text>
<text class="cl" transform="translate(409,631) rotate(-10)" x="-5.8" y="6.7" textLength="11.6" lengthAdjust="spacingAndGlyphs">2</text>
<text class="cl" transform="translate(656,644) rotate(-10)" x="-5.8" y="6.7" textLength="11.6" lengthAdjust="spacingAndGlyphs">4</text>
<text class="cl" transform="translate(563,688) rotate(-20)" x="-5.8" y="6.7" textLength="11.6" lengthAdjust="spacingAndGlyphs">6</text>
<text class="cl" transform="translate(687,748) rotate(5)" x="-11.6" y="6.7" textLength="23.3" lengthAdjust="spacingAndGlyphs">10</text>
<text class="cl" transform="translate(732,785) rotate(-20)" x="-11.6" y="6.7" textLength="23.3" lengthAdjust="spacingAndGlyphs">10</text>
<text class="cl" transform="translate(825,800) rotate(-80)" x="-5.8" y="6.7" textLength="11.6" lengthAdjust="spacingAndGlyphs">8</text>
<text class="cl" transform="translate(923,768) rotate(-80)" x="-5.8" y="6.7" textLength="11.6" lengthAdjust="spacingAndGlyphs">8</text>
<text class="cl" transform="translate(117,648) rotate(-60)" x="-5.8" y="6.7" textLength="11.6" lengthAdjust="spacingAndGlyphs">0</text>
<text class="cl" transform="translate(122,710) rotate(60)" x="-9.1" y="6.7" textLength="18.2" lengthAdjust="spacingAndGlyphs">-4</text>
<text class="cl" transform="translate(155,843) rotate(-65)" x="-11.6" y="6.7" textLength="23.3" lengthAdjust="spacingAndGlyphs">16</text>
<text class="cl" transform="translate(195,812) rotate(-60)" x="-5.8" y="6.7" textLength="11.6" lengthAdjust="spacingAndGlyphs">0</text>
<text class="cl" transform="translate(333,835) rotate(0)" x="-5.8" y="6.7" textLength="11.6" lengthAdjust="spacingAndGlyphs">4</text>
<text class="cl" transform="translate(377,800) rotate(60)" x="-5.8" y="6.7" textLength="11.6" lengthAdjust="spacingAndGlyphs">8</text>
<text class="cl" transform="translate(395,865) rotate(-10)" x="-5.8" y="6.7" textLength="11.6" lengthAdjust="spacingAndGlyphs">4</text>
<text class="cl" transform="translate(455,885) rotate(80)" x="-5.8" y="6.7" textLength="11.6" lengthAdjust="spacingAndGlyphs">8</text>
<text class="cl" transform="translate(303,890) rotate(60)" x="-11.6" y="6.7" textLength="23.3" lengthAdjust="spacingAndGlyphs">16</text>
<text class="cl" transform="translate(290,918) rotate(85)" x="-11.6" y="6.7" textLength="23.3" lengthAdjust="spacingAndGlyphs">14</text>
<text class="cl" transform="translate(225,965) rotate(0)" x="-11.6" y="6.7" textLength="23.3" lengthAdjust="spacingAndGlyphs">14</text>
<text class="cl" transform="translate(317,977) rotate(0)" x="-11.6" y="6.7" textLength="23.3" lengthAdjust="spacingAndGlyphs">16</text>
<text class="cl" transform="translate(395,1013) rotate(-20)" x="-11.6" y="6.7" textLength="23.3" lengthAdjust="spacingAndGlyphs">16</text>
<text class="cl" transform="translate(583,965) rotate(90)" x="-5.8" y="6.7" textLength="11.6" lengthAdjust="spacingAndGlyphs">8</text>
<text class="cl" transform="translate(712,875) rotate(-50)" x="-11.6" y="6.7" textLength="23.3" lengthAdjust="spacingAndGlyphs">10</text>
<text class="cl" transform="translate(163,1068) rotate(25)" x="-11.6" y="6.7" textLength="23.3" lengthAdjust="spacingAndGlyphs">14</text>
<text class="cl" transform="translate(223,1157) rotate(-50)" x="-11.6" y="6.7" textLength="23.3" lengthAdjust="spacingAndGlyphs">14</text>
<text class="cl" transform="translate(348,1177) rotate(-70)" x="-11.6" y="6.7" textLength="23.3" lengthAdjust="spacingAndGlyphs">12</text>
<text class="cl" transform="translate(240,1223) rotate(30)" x="-11.6" y="6.7" textLength="23.3" lengthAdjust="spacingAndGlyphs">14</text>
<text class="cl" transform="translate(150,1318) rotate(-10)" x="-11.6" y="6.7" textLength="23.3" lengthAdjust="spacingAndGlyphs">12</text>
<text class="cl" transform="translate(393,1337) rotate(0)" x="-11.6" y="6.7" textLength="23.3" lengthAdjust="spacingAndGlyphs">12</text>
<text class="cl" transform="translate(547,1137) rotate(15)" x="-11.6" y="6.7" textLength="23.3" lengthAdjust="spacingAndGlyphs">16</text>
<text class="cl" transform="translate(683,1347) rotate(-35)" x="-11.6" y="6.7" textLength="23.3" lengthAdjust="spacingAndGlyphs">12</text>
<text class="cl" transform="translate(948,970) rotate(10)" x="-11.6" y="6.7" textLength="23.3" lengthAdjust="spacingAndGlyphs">10</text>
<text class="cl" transform="translate(793,995) rotate(-20)" x="-11.6" y="6.7" textLength="23.3" lengthAdjust="spacingAndGlyphs">10</text>
<text class="cl" transform="translate(910,1040) rotate(50)" x="-11.6" y="6.7" textLength="23.3" lengthAdjust="spacingAndGlyphs">12</text>
<text class="cl" transform="translate(977,1078) rotate(-15)" x="-11.6" y="6.7" textLength="23.3" lengthAdjust="spacingAndGlyphs">12</text>
<text class="cl" transform="translate(1073,1027) rotate(60)" x="-5.8" y="6.7" textLength="11.6" lengthAdjust="spacingAndGlyphs">8</text>
<text class="cl" transform="translate(1130,1057) rotate(60)" x="-5.8" y="6.7" textLength="11.6" lengthAdjust="spacingAndGlyphs">8</text>
<text class="cl" transform="translate(1345,1004) rotate(-15)" x="-5.8" y="6.7" textLength="11.6" lengthAdjust="spacingAndGlyphs">6</text>
<text class="cl" transform="translate(1103,1070) rotate(40)" x="-11.6" y="6.7" textLength="23.3" lengthAdjust="spacingAndGlyphs">16</text>
<text class="cl" transform="translate(840,1147) rotate(0)" x="-5.8" y="6.7" textLength="11.6" lengthAdjust="spacingAndGlyphs">8</text>
<text class="cl" transform="translate(917,1165) rotate(0)" x="-5.8" y="6.7" textLength="11.6" lengthAdjust="spacingAndGlyphs">8</text>
<text class="cl" transform="translate(807,1183) rotate(75)" x="-11.6" y="6.7" textLength="23.3" lengthAdjust="spacingAndGlyphs">10</text>
<text class="cl" transform="translate(840,1215) rotate(0)" x="-5.8" y="6.7" textLength="11.6" lengthAdjust="spacingAndGlyphs">8</text>
<text class="cl" transform="translate(825,1252) rotate(25)" x="-11.6" y="6.7" textLength="23.3" lengthAdjust="spacingAndGlyphs">10</text>
<text class="cl" transform="translate(953,1120) rotate(60)" x="-5.8" y="6.7" textLength="11.6" lengthAdjust="spacingAndGlyphs">8</text>
<text class="cl" transform="translate(1015,1243) rotate(-55)" x="-11.6" y="6.7" textLength="23.3" lengthAdjust="spacingAndGlyphs">16</text>
<text class="cl" transform="translate(1148,1188) rotate(45)" x="-11.6" y="6.7" textLength="23.3" lengthAdjust="spacingAndGlyphs">12</text>
<text class="cl" transform="translate(1317,1089) rotate(-20)" x="-5.8" y="6.7" textLength="11.6" lengthAdjust="spacingAndGlyphs">8</text>
<text class="cl" transform="translate(1313,1180) rotate(70)" x="-5.8" y="6.7" textLength="11.6" lengthAdjust="spacingAndGlyphs">6</text>
<text class="cl" transform="translate(1305,1273) rotate(25)" x="-11.6" y="6.7" textLength="23.3" lengthAdjust="spacingAndGlyphs">10</text>
<text class="cl" transform="translate(1471,1133) rotate(25)" x="-11.6" y="6.7" textLength="23.3" lengthAdjust="spacingAndGlyphs">10</text>
<text class="cl" transform="translate(1513,1227) rotate(80)" x="-5.8" y="6.7" textLength="11.6" lengthAdjust="spacingAndGlyphs">6</text>
<text class="cl" transform="translate(1425,1253) rotate(70)" x="-5.8" y="6.7" textLength="11.6" lengthAdjust="spacingAndGlyphs">8</text>
<text class="cl" transform="translate(1577,1295) rotate(0)" x="-5.8" y="6.7" textLength="11.6" lengthAdjust="spacingAndGlyphs">8</text>
<text class="cl" transform="translate(800,1318) rotate(-15)" x="-11.6" y="6.7" textLength="23.3" lengthAdjust="spacingAndGlyphs">12</text>
<text class="cl" transform="translate(808,1347) rotate(0)" x="-11.6" y="6.7" textLength="23.3" lengthAdjust="spacingAndGlyphs">10</text>
<text class="cl" transform="translate(967,1352) rotate(-40)" x="-11.6" y="6.7" textLength="23.3" lengthAdjust="spacingAndGlyphs">14</text>
<text class="cl" transform="translate(1162,1347) rotate(-50)" x="-11.6" y="6.7" textLength="23.3" lengthAdjust="spacingAndGlyphs">14</text>
<text class="cl" transform="translate(1355,1318) rotate(25)" x="-11.6" y="6.7" textLength="23.3" lengthAdjust="spacingAndGlyphs">10</text>
<text class="cl" transform="translate(1560,1353) rotate(0)" x="-5.8" y="6.7" textLength="11.6" lengthAdjust="spacingAndGlyphs">8</text>
<text class="cl" transform="translate(267,840) rotate(0)" x="-5.8" y="6.7" textLength="11.6" lengthAdjust="spacingAndGlyphs">2</text>
<text class="cl" transform="translate(1450,1158) rotate(30)" x="-5.8" y="6.7" textLength="11.6" lengthAdjust="spacingAndGlyphs">8</text>
<text class="cl" transform="translate(1468,1182) rotate(-10)" x="-5.8" y="6.7" textLength="11.6" lengthAdjust="spacingAndGlyphs">6</text>
</g>
<rect x="102" y="137" width="1536" height="1228" fill="none" stroke="#000" stroke-width="1.7"/>

<text x="377.6" y="1396.6" class="tk" textLength="63.1" lengthAdjust="spacingAndGlyphs">90°W</text>
<text x="684.8" y="1396.6" class="tk" textLength="63.1" lengthAdjust="spacingAndGlyphs">80°W</text>
<text x="992.0" y="1396.6" class="tk" textLength="63.1" lengthAdjust="spacingAndGlyphs">70°W</text>
<text x="1299.2" y="1396.6" class="tk" textLength="63.1" lengthAdjust="spacingAndGlyphs">60°W</text>
<text x="45.4" y="1218.8" class="tk" textLength="43.1" lengthAdjust="spacingAndGlyphs">5°N</text>
<text x="30.9" y="1065.3" class="tk" textLength="57.6" lengthAdjust="spacingAndGlyphs">10°N</text>
<text x="30.9" y="911.8" class="tk" textLength="57.6" lengthAdjust="spacingAndGlyphs">15°N</text>
<text x="30.9" y="758.3" class="tk" textLength="57.6" lengthAdjust="spacingAndGlyphs">20°N</text>
<text x="30.9" y="604.8" class="tk" textLength="57.6" lengthAdjust="spacingAndGlyphs">25°N</text>
<text x="30.9" y="451.3" class="tk" textLength="57.6" lengthAdjust="spacingAndGlyphs">30°N</text>
<text x="30.9" y="297.8" class="tk" textLength="57.6" lengthAdjust="spacingAndGlyphs">35°N</text>
<rect x="1675.5" y="1287.22" width="59.0" height="60.18" fill="#5e4fa2"/>
<rect x="1675.5" y="1227.65" width="59.0" height="60.18" fill="#486cb0"/>
<rect x="1675.5" y="1168.07" width="59.0" height="60.18" fill="#3389bd"/>
<rect x="1675.5" y="1108.50" width="59.0" height="60.18" fill="#50a9af"/>
<rect x="1675.5" y="1048.92" width="59.0" height="60.18" fill="#6bc4a5"/>
<rect x="1675.5" y="989.35" width="59.0" height="60.18" fill="#91d3a4"/>
<rect x="1675.5" y="929.77" width="59.0" height="60.18" fill="#b3e0a2"/>
<rect x="1675.5" y="870.20" width="59.0" height="60.18" fill="#d1ed9c"/>
<rect x="1675.5" y="810.62" width="59.0" height="60.18" fill="#ebf7a0"/>
<rect x="1675.5" y="751.05" width="59.0" height="60.18" fill="#f8fcb4"/>
<rect x="1675.5" y="691.47" width="59.0" height="60.18" fill="#fff7b2"/>
<rect x="1675.5" y="631.90" width="59.0" height="60.18" fill="#fee797"/>
<rect x="1675.5" y="572.32" width="59.0" height="60.18" fill="#fed07e"/>
<rect x="1675.5" y="512.75" width="59.0" height="60.18" fill="#fdb768"/>
<rect x="1675.5" y="453.17" width="59.0" height="60.18" fill="#fa9857"/>
<rect x="1675.5" y="393.60" width="59.0" height="60.18" fill="#f57547"/>
<rect x="1675.5" y="334.02" width="59.0" height="60.18" fill="#e85b48"/>
<rect x="1675.5" y="274.45" width="59.0" height="60.18" fill="#d7414e"/>
<rect x="1675.5" y="214.87" width="59.0" height="60.18" fill="#bc2249"/>
<rect x="1675.5" y="155.30" width="59.0" height="60.18" fill="#9e0142"/>
<rect x="1675.5" y="155.6" width="59.0" height="1191.5" fill="none" stroke="#000" stroke-width="1.7"/>
<path d="M1734.5 1347.1h8.6M1734.5 1287.5h8.6M1734.5 1227.9h8.6M1734.5 1168.4h8.6M1734.5 1108.8h8.6M1734.5 1049.2h8.6M1734.5 989.6h8.6M1734.5 930.1h8.6M1734.5 870.5h8.6M1734.5 810.9h8.6M1734.5 751.3h8.6M1734.5 691.8h8.6M1734.5 632.2h8.6M1734.5 572.6h8.6M1734.5 513.0h8.6M1734.5 453.5h8.6M1734.5 393.9h8.6M1734.5 334.3h8.6M1734.5 274.7h8.6M1734.5 215.2h8.6M1734.5 155.6h8.6" stroke="#000" stroke-width="1.7" fill="none"/>
<text x="1754.5" y="1357.1" class="tk" textLength="48.2" lengthAdjust="spacingAndGlyphs">−24</text>
<text x="1754.5" y="1297.5" class="tk" textLength="48.2" lengthAdjust="spacingAndGlyphs">−22</text>
<text x="1754.5" y="1237.9" class="tk" textLength="48.2" lengthAdjust="spacingAndGlyphs">−20</text>
<text x="1754.5" y="1178.4" class="tk" textLength="48.2" lengthAdjust="spacingAndGlyphs">−18</text>
<text x="1754.5" y="1118.8" class="tk" textLength="48.2" lengthAdjust="spacingAndGlyphs">−16</text>
<text x="1754.5" y="1059.2" class="tk" textLength="48.2" lengthAdjust="spacingAndGlyphs">−14</text>
<text x="1754.5" y="999.6" class="tk" textLength="48.2" lengthAdjust="spacingAndGlyphs">−12</text>
<text x="1754.5" y="940.1" class="tk" textLength="48.2" lengthAdjust="spacingAndGlyphs">−10</text>
<text x="1754.5" y="880.5" class="tk" textLength="33.7" lengthAdjust="spacingAndGlyphs">−8</text>
<text x="1754.5" y="820.9" class="tk" textLength="33.7" lengthAdjust="spacingAndGlyphs">−6</text>
<text x="1754.5" y="761.3" class="tk" textLength="33.7" lengthAdjust="spacingAndGlyphs">−4</text>
<text x="1754.5" y="701.8" class="tk" textLength="33.7" lengthAdjust="spacingAndGlyphs">−2</text>
<text x="1754.5" y="642.2" class="tk" textLength="14.5" lengthAdjust="spacingAndGlyphs">0</text>
<text x="1754.5" y="582.6" class="tk" textLength="14.5" lengthAdjust="spacingAndGlyphs">2</text>
<text x="1754.5" y="523.0" class="tk" textLength="14.5" lengthAdjust="spacingAndGlyphs">4</text>
<text x="1754.5" y="463.5" class="tk" textLength="14.5" lengthAdjust="spacingAndGlyphs">6</text>
<text x="1754.5" y="403.9" class="tk" textLength="14.5" lengthAdjust="spacingAndGlyphs">8</text>
<text x="1754.5" y="344.3" class="tk" textLength="29.1" lengthAdjust="spacingAndGlyphs">10</text>
<text x="1754.5" y="284.7" class="tk" textLength="29.1" lengthAdjust="spacingAndGlyphs">12</text>
<text x="1754.5" y="225.2" class="tk" textLength="29.1" lengthAdjust="spacingAndGlyphs">14</text>
<text x="1754.5" y="165.6" class="tk" textLength="29.1" lengthAdjust="spacingAndGlyphs">16</text>
<text transform="translate(1834,751) rotate(-90)" class="cbl" text-anchor="middle" textLength="702" lengthAdjust="spacingAndGlyphs">Anomalía de θe de saturación media 1000–700 hPa [°C]</text>
</svg>
</body></html>
